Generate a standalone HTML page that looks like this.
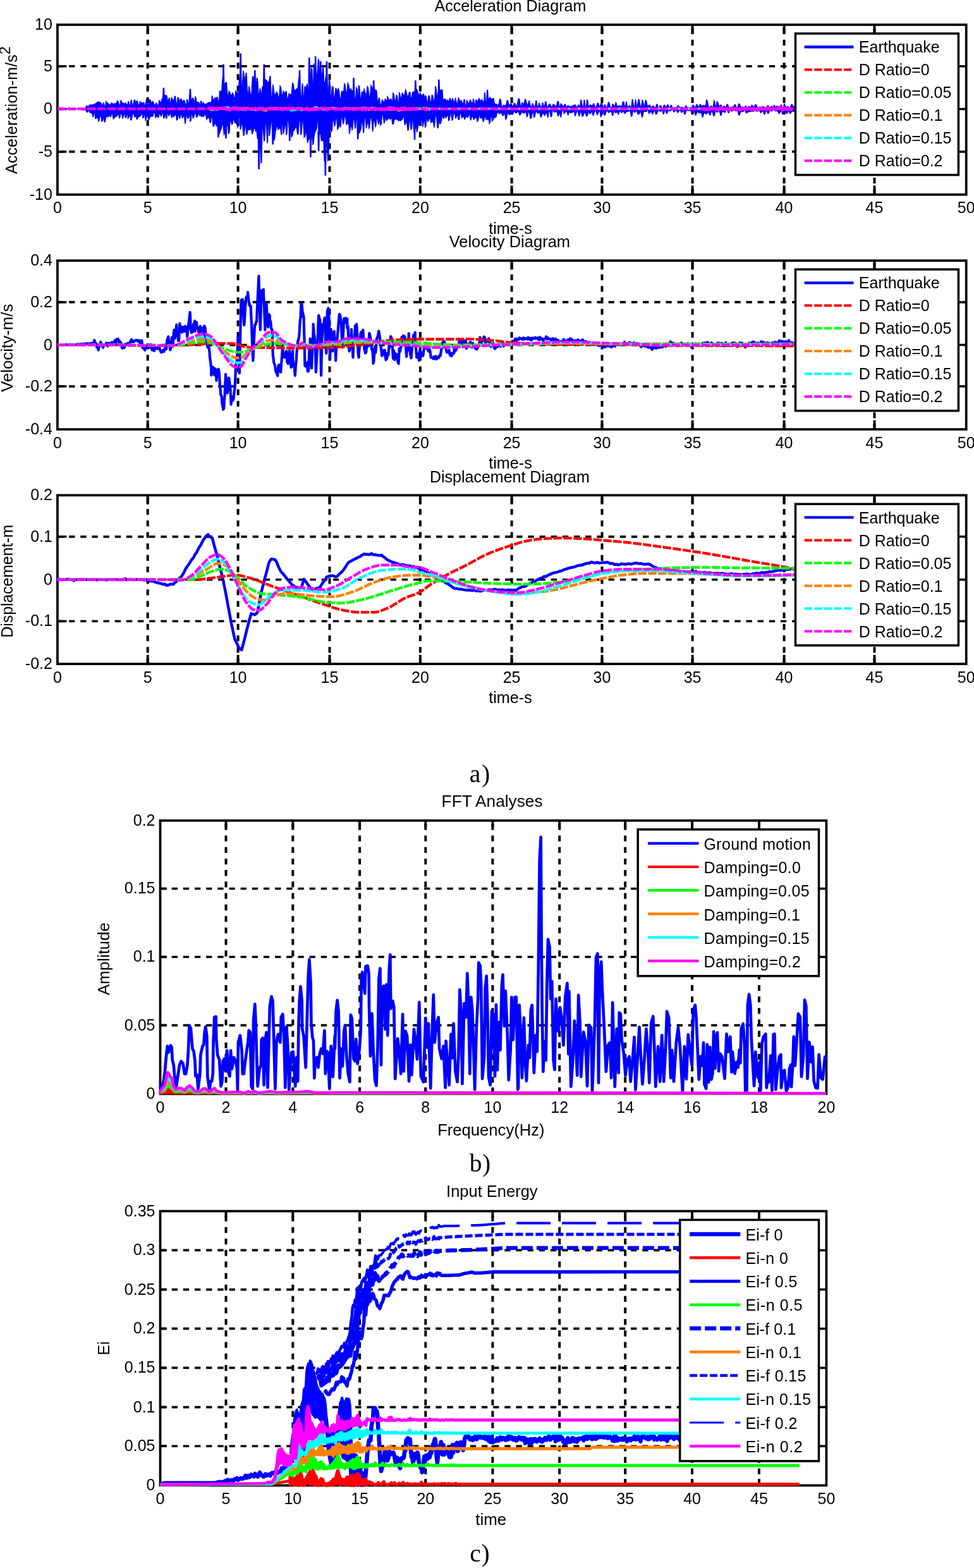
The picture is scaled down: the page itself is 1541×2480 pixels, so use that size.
<!DOCTYPE html>
<html lang="en"><head><meta charset="utf-8"><title>Seismic response diagrams</title>
<style>html,body{margin:0;padding:0;background:#fff}body{width:1541px;height:2480px;overflow:hidden}svg{display:block}.t{font-family:"Liberation Sans",Arial,Helvetica,sans-serif;font-size:25px;fill:#000}.s{font-family:"Liberation Serif","Times New Roman",Times,serif;font-size:39.6px;fill:#000}.c{fill:none;stroke-linejoin:round;stroke-linecap:butt}</style></head><body>
<svg width="1541" height="2480" viewBox="0 0 1541 2480">
<rect width="1541" height="2480" fill="#fff"/>
<defs><clipPath id="clip1"><rect x="88.93" y="37.15" width="1441.79" height="273.15"/></clipPath><clipPath id="clip2"><rect x="88.93" y="410.2" width="1441.79" height="271.35"/></clipPath><clipPath id="clip3"><rect x="88.93" y="781.3" width="1441.79" height="271.3"/></clipPath><clipPath id="clip4"><rect x="251.5" y="1295.84" width="1057.95" height="436.86"/></clipPath><clipPath id="clip5"><rect x="251.5" y="1913.6" width="1057.95" height="438.3"/></clipPath></defs>
<g id="chart1">
<g stroke="#000" stroke-width="4.0" stroke-dasharray="9.3 8.88" fill="none">
<path d="M233.7 308.4V39.15"/>
<path d="M376.6 308.4V39.15"/>
<path d="M521.5 308.4V39.15"/>
<path d="M664.9 308.4V39.15"/>
<path d="M809.6 308.4V39.15"/>
<path d="M952.5 308.4V39.15"/>
<path d="M1095.6 308.4V39.15"/>
<path d="M1240.6 308.4V39.15"/>
<path d="M1383.5 308.4V39.15"/>
</g>
<g stroke="#000" stroke-width="3.6" stroke-dasharray="9.3 8.86" fill="none">
<path d="M90.93 239.9H1528.72"/>
<path d="M90.93 172.4H1528.72"/>
<path d="M90.93 104.8H1528.72"/>
</g>
<g stroke="#000" stroke-width="3.9" fill="none">
<path d="M233.7 307.8v-14.4 M233.7 39.15v14.4"/>
<path d="M376.6 307.8v-14.4 M376.6 39.15v14.4"/>
<path d="M521.5 307.8v-14.4 M521.5 39.15v14.4"/>
<path d="M664.9 307.8v-14.4 M664.9 39.15v14.4"/>
<path d="M809.6 307.8v-14.4 M809.6 39.15v14.4"/>
<path d="M952.5 307.8v-14.4 M952.5 39.15v14.4"/>
<path d="M1095.6 307.8v-14.4 M1095.6 39.15v14.4"/>
<path d="M1240.6 307.8v-14.4 M1240.6 39.15v14.4"/>
<path d="M1383.5 307.8v-14.4 M1383.5 39.15v14.4"/>
</g>
<g stroke="#000" stroke-width="3.5" fill="none">
<path d="M90.93 239.9h14.4 M1528.72 239.9h-14.4"/>
<path d="M90.93 172.4h14.4 M1528.72 172.4h-14.4"/>
<path d="M90.93 104.8h14.4 M1528.72 104.8h-14.4"/>
</g>
<rect x="90.93" y="39.15" width="1437.79" height="268.65" fill="none" stroke="#000" stroke-width="3.75"/>
<g clip-path="url(#clip1)">
<polygon fill="#0000ff" stroke="#0000ff" stroke-width="1.3" stroke-linejoin="miter" points="90.9,172.4 132.3,172.4 132.3,171.3 133.4,171.4 134.2,171.3 135.7,171.4 136.5,167.4 137.8,167.7 139,168.7 139.9,169 141.5,165.9 142.6,166 143.9,166.2 144.7,166.5 145.9,165.3 147.1,165.8 148.7,165 149.4,165.4 150.4,163.8 151.9,164.3 152.8,162.5 153.6,162.6 154.5,161 155.3,161.7 156.5,161 157.8,161.8 158.6,162.6 160.2,163.1 161.6,168 162.2,168.1 163.6,162.6 164.5,163.5 165.4,168.2 166.8,168.4 167.7,160.3 168.5,161.4 169.8,163.3 170.5,163.4 171.4,163.8 172,164.4 173.5,165.5 174.9,166.1 176,162.9 177.6,162.9 178.6,165.8 179.6,166 180.3,163.7 181.3,164.4 182.9,163.8 184.1,164.1 185.5,159.3 187.1,160.5 188.5,167.1 189.5,167.3 191.2,159 191.8,159.9 192.7,161.6 193.4,162.4 194.5,162.9 196,163.3 196.9,164.6 197.6,164.9 198.5,162.8 199.2,163.3 200.6,165.5 201.9,166 202.7,160.8 203.7,160.9 204.5,167 205.7,167 207.4,158.1 208.1,158.4 209.5,166.6 210.6,167.1 212.2,158 213.6,158.3 214.6,162.2 215.4,163 216.5,159.4 217.4,159.9 218.8,165.9 220,166.3 221.5,160.8 222.9,161.5 224.2,162.9 225.3,163.6 227.1,162 228,162.5 228.8,166.5 230.2,166.6 231.6,156.8 232.9,157.9 234.3,165.2 235.7,165.7 236.6,157.5 237.9,157.9 239.2,163 240.2,163.4 241,160.5 242.4,160.9 244,165.5 245.5,166.1 247.1,162.9 247.8,163.2 249,166.6 250.5,167.1 251.8,159 253,159.7 253.8,161.5 255.3,162.4 256,156.5 257.1,156.5 257.8,151.7 258.9,153.5 257.7,154.2 258.3,139.3 259.5,139.3 260.2,155.8 260.3,149.8 261.6,150.9 262.6,150.9 264,151.4 265.2,159.2 266.6,159.2 267.4,155.1 268.3,155.9 269.1,164.5 269.9,165 271.4,153.6 272.1,155.4 273.3,158.1 274.8,159 276.4,152.2 277.5,152.7 278.6,165 279.7,165.7 281.2,154.1 282.7,155.1 283.5,159.3 285,159.3 286.3,156.1 287.3,157.4 288.3,161.3 289.2,161.7 290.5,158.4 292.1,159.6 293.3,165.4 294.8,165.8 295.9,157.4 297.1,158.3 297.9,164.5 298.9,164.8 300.2,145.2 301.7,145.4 299.7,155.3 300.3,141.3 301.5,141.3 302.2,156.9 302.3,157.4 303.4,158.3 304.5,154.8 305.9,156.1 306.7,159.5 308,160.2 309.1,152.3 309.8,154.3 311.2,161.5 312.7,162.1 314.2,161.8 314.8,162.3 315.8,167.2 316.5,167.5 317.6,159.9 319.1,160.7 320,164.8 320.6,165.3 321.6,162.4 322.3,162.9 323.7,164.9 325.2,165.4 326.7,164 327.5,164.1 329,162.4 330.4,162.5 331.3,161.5 332.1,162.2 333.5,162 334.6,162.3 335.4,151.2 336,152.8 337.5,157.8 338.5,158.8 340.2,154.3 340.8,155.7 341.5,155.9 342.2,155.9 343.2,153.5 344.4,154.8 345.5,163.2 346.5,164.1 347.4,143.6 348.3,145.7 349.7,144.2 350.6,146 352.1,122.6 353.3,126.7 352.3,133.7 352.9,102.2 354.1,102.2 354.8,137.2 354.9,132 356.2,132.4 357.7,130.1 358.4,130.5 359.9,149.7 361.2,151.1 362.3,144.3 363.4,145.2 365.1,150.2 366.1,151.6 367.8,146.8 369.2,149.1 370.4,154.9 371.8,155.1 372.7,143.8 373.9,146.2 375.5,146.2 377.1,148.4 378.4,125.1 379.6,127 379.5,124.1 380.1,85.1 381.3,85.1 382,128.5 382.1,138 383.2,140.2 384.8,111.8 385.9,116.3 386.9,124.9 387.8,125.5 389.2,115.4 389.9,115.7 391.5,147.1 392.8,147.8 394,136.2 394.8,139.7 396.3,149.3 397.8,151 399.4,121.2 400.9,121.4 401.7,151.9 402.6,153.2 402.1,138.9 402.7,111.6 403.9,111.6 404.6,142 404.7,134 405.3,134.2 406.4,123.3 407.4,124.5 409,148.4 410.2,150.5 411.2,139.6 412.1,141.9 413.4,148.9 414.3,149.3 415,137.4 415.7,137.9 417.1,133.6 418.7,136.7 416.6,133.7 417.2,102.2 418.4,102.2 419.1,137.2 419.2,125 420.3,126.5 421.8,127 422.9,131.4 423.9,129.4 425.4,131.2 427,120.8 427.9,120.9 429.1,154.4 430.3,155.1 431.7,134.6 432.4,135.9 434.1,148.7 435.7,149.8 437.3,145.2 438.7,146.7 440.4,154 441.6,154.3 443.1,136 444.7,139.3 445.5,149.3 447.1,150 448.1,144.1 449.1,145.5 450.4,147.4 451.2,147.7 452.2,144.6 453.2,144.8 454.1,154.9 455.6,156.1 457.2,147.9 458.7,149.8 459.6,149.2 461.2,149.3 462.7,131.3 464.3,133.2 465.2,142.1 466.2,144.2 467.4,142 468,144.3 469.4,140.2 471,140.8 472.7,123.5 474,125.5 472.8,138.9 473.4,111.6 474.6,111.6 475.3,142 475.4,152.7 476.7,154.3 478.3,132 478.9,133.7 480.1,157.1 481,158.2 482,136.5 482.8,138.5 484.2,137 484.9,140.3 485.8,132.2 486.6,135.9 487.5,146.3 488.6,147.2 488.1,127.8 488.7,91.7 489.9,91.7 490.6,131.8 490.7,121.3 491.4,125.1 492.3,107.8 493.8,109.7 494.7,146.6 495.4,148 496.5,100.6 497.2,105.9 498.6,127.8 499.7,128.2 498,126.7 498.6,89.7 499.8,89.7 500.5,130.8 500.6,116.3 501.8,118.7 503.5,93.7 504.7,95.6 506.2,145 507.4,146.9 506.1,131.1 506.7,97.6 507.9,97.6 508.6,134.9 508.7,122.7 509.3,123.4 510.8,104.8 511.7,108.7 512.6,130.9 514,131.8 515.7,119.6 517,124.2 515.7,131.1 516.3,97.6 517.5,97.6 518.2,134.9 518.3,148.4 519.4,149.5 520.5,126.3 521.8,128.7 522.9,153.5 523.8,153.8 525.6,137.1 527.1,137.6 528,153.5 529.3,154.8 531.1,139.7 532.4,140.6 533.3,144.2 534.2,146.7 535,140 536.2,142.3 537.9,155.5 539.3,157.1 540.3,144.7 541.3,146.5 542.5,144.4 543.7,145.5 544.8,132.4 545.9,133.4 547.6,147.7 548.6,149.5 550.3,131.4 551.7,134.6 552.9,141.5 553.8,142 555.1,140.2 556,143.2 557.5,143.6 558.1,145.6 559.6,139.5 560.8,140.1 558.4,145.6 559,123.7 560.2,123.7 560.9,148.1 561,155.8 562.6,156.2 563.9,138.7 565.1,140.8 565.9,156.8 566.5,158.1 567.5,135.4 568.7,136.9 570.3,157.6 571.3,159 572.4,144.9 573.1,147.4 574.2,145.3 575.1,146 576.1,141.1 577.1,144 578.3,148.5 579.8,150.7 581.3,135.9 582.5,139.4 584.2,154 585.3,154.8 587,135.1 588.6,138 590.1,148.3 591.2,149.2 590,147.9 590.6,127.8 591.8,127.8 592.5,150.1 592.6,140.2 593.8,143.1 595.1,142.8 595.9,144 597.3,160.8 598.2,161.9 599.6,154.9 600.4,155.9 601.6,165.2 603.1,165.7 604.5,158 605.7,159 606.8,161.6 607.9,162 609.4,156.5 610.1,157.7 611.2,159.6 612.2,160.5 613,152.5 613.7,153.5 615.1,158.7 615.9,159.6 617.6,156.3 618.9,157.2 620.3,160.2 621,160.8 621.7,147.2 623.1,148.8 624.4,158 626,159.4 627,150.6 628.4,151.2 629.6,163.4 630.8,163.9 631.6,146.6 632.7,148.3 633.7,156.3 634.5,157.2 636.3,147 637.1,148.2 638.8,150.2 640.1,150.5 641.6,141.8 642.7,144.4 644.2,151.7 645.7,153.1 647.4,145.9 649,145.9 649.7,155 651.3,155 652.7,145.1 653.3,147.1 655.1,144.8 656.1,145.5 656.2,147.9 656.8,127.8 658,127.8 658.7,150.1 658.8,140.6 660.3,142.9 661.4,147.3 662.1,148.5 662.9,151.7 663.6,152.2 664.5,146.8 665.3,147.9 666.9,150.9 668.3,151.6 669.6,148.6 670.4,149 671.5,155.1 672.2,156.2 673,151.1 674.3,152.5 675.8,162.5 676.8,163.1 678,151.6 679.3,151.8 680.9,162.2 682,162.8 683.3,150.3 684.7,151.6 686.4,160.8 687.4,161.4 689,136.2 689.8,138.7 691.3,152.3 692.2,152.4 693.8,139.4 695,139.6 693.2,147.1 693.8,126.4 695,126.4 695.7,149.4 695.8,142.2 697.3,143 698.8,141.7 699.9,142.9 700.8,157.1 702.1,157.8 703.5,156.5 704.9,157 705.7,160 706.6,161.1 707.5,158 708.6,159 709.5,160.3 710.5,160.4 711.5,155.6 712.4,155.8 713.8,161.4 714.5,161.6 715.6,155.7 717,157.2 717.8,161.1 719.3,161.2 720.5,155.6 721.1,157.2 722.5,163.2 723.9,163.9 725.1,154.8 726,155.9 727.4,159.7 728.2,160 729.3,158.8 730.2,159.6 731.5,164.1 732.6,164.4 734.2,157.5 735.2,157.6 736.1,166.6 737.6,167 738.5,158.6 739.4,159.5 741.1,164.6 741.8,165.2 743.6,158.1 744.5,158.4 746.2,162.8 747.7,163.5 748.7,156.8 749.6,157.9 750.5,164.7 751.9,164.8 752.8,158.2 754.1,158.4 755.4,159.9 756.2,160.2 757.8,155.6 758.7,157.2 760.1,159.2 760.7,159.9 762.4,157.4 763.1,158.8 764.3,160.6 765.8,161.7 766.7,146.1 767.3,148 768.5,164 769.3,164.3 770.7,147.7 772,148.7 769.9,156 770.5,142.7 771.7,142.7 772.4,157.5 772.5,155.9 773.7,157.2 774.9,153.7 776.3,155.1 777.2,156.7 778.6,156.9 780,155.3 781.1,156.1 782.4,164.3 783.3,164.5 784.3,164.4 785.9,165 787.6,166 788.8,166.3 790.8,156.7 792.4,157.9 793.6,169.1 794.3,169.2 796.5,166.2 797.1,166.6 799.1,167 800.2,167.2 802.5,158.4 803.2,158.8 805.3,166.5 806.3,167 807.9,164 808.9,164.2 810.8,167.5 812.1,167.9 813.2,163.2 814.6,163.5 816.7,167.2 818.1,167.2 820.1,156.1 821.7,156.5 823.8,169.6 824.5,169.7 825.8,162.2 826.5,162.6 827.6,165.2 828.5,165.3 830.8,157.3 831.8,157.8 834,166.2 834.8,166.9 837.1,159.4 837.7,160 839.5,168.9 841,169.1 842.2,164 843.2,164.1 845.1,170 846.1,170.2 848.1,159.1 848.8,159.8 850.1,169.5 851.5,169.5 852.8,163.2 853.8,164.1 855.6,170.2 856.9,170.2 858.1,162.8 858.9,163 860.3,168.1 861.5,168.2 862.9,160.7 863.8,161 865.5,169.1 866.8,169.3 868.9,164.4 870.2,164.7 872.5,169.3 873.5,169.3 875.2,164.8 876.5,165.4 878.8,168 880.1,168.3 882.2,160.5 883.6,160.6 884.7,168.1 886.2,168.3 887.3,163.9 888.2,164.8 890.5,167.8 891.7,168 893.6,164.8 894.4,165.3 896.1,168.8 897,169.1 898.4,167 900,167.4 901.5,168.7 902.4,168.9 904.2,168 905.7,168.2 906.9,166.7 907.7,166.9 909.4,165.7 910.3,166 911.9,169.6 912.9,169.8 914.8,165.9 915.5,166 916.6,167.7 917.7,167.8 919,158.2 919.7,159.4 921.6,169.7 922.8,169.8 924,158.7 925,158.7 926,170.1 927.3,170.3 928.8,157.9 929.8,159.3 931,168.1 932.3,168.2 934,165.6 934.7,166.1 936,166.9 937,167.3 938.9,164 939.5,164 941.9,169.8 943.3,170 945.2,163 946.6,163.5 947.8,168.1 948.8,168.3 950.9,163.6 952.5,164.1 954.4,170.8 955.1,170.9 956.5,165.6 957.3,165.7 958.9,169.8 960.4,169.8 962.5,161.5 963.8,162.3 966.1,170.9 967.6,171 969.1,164.7 970.1,164.8 972.2,168.1 973.1,168.4 974.2,162.1 974.8,162.7 976,167.6 977.6,168 979.8,166.9 981.1,167.3 982.7,168.4 983.7,168.7 985.5,160.8 987.1,161.6 988.4,170.4 989.2,170.6 990.6,161.1 991.3,161.5 992.7,169.7 993.8,169.9 995.4,166.9 996.6,167 997.6,170.3 998.8,170.4 1000.2,157.7 1001.1,157.8 1002.9,170.5 1003.8,170.6 1005.5,158.1 1006.2,159.5 1007.2,169.3 1008,169.3 1010.1,157.4 1011.3,157.7 1013.3,169.1 1014.5,169.3 1016.2,158.2 1017,159.4 1019.2,168.4 1019.9,168.7 1021.3,158.8 1022.4,158.9 1024.1,166.9 1025.6,167.1 1027.7,166.2 1028.4,166.4 1029.5,169.3 1030.7,169.4 1033,167.7 1034.4,168 1036.3,170 1037.7,170.1 1038.8,164.9 1040,165.1 1041.2,170.9 1042.4,171 1044.3,166.7 1045.6,167.1 1047.2,170.7 1048.6,170.7 1050.6,166.2 1052.1,166.3 1053.1,169.9 1054.1,170.1 1055.8,165.5 1057.2,166.1 1058.5,169.9 1060,170.1 1061.2,166.4 1062.4,166.5 1063.7,170.4 1065.1,170.5 1066.6,170 1068,170.1 1069.5,170.1 1071,170.1 1072.5,167.1 1073.5,167.2 1075.6,170.1 1077,170.2 1078.8,169.4 1080.1,169.6 1081.9,171.5 1082.9,171.6 1084.8,167.5 1085.6,167.7 1087.6,170.3 1088.5,170.5 1090.3,170.1 1091.8,170.2 1093.2,170.6 1093.9,170.7 1096.3,166.5 1097.5,166.5 1098.9,170.4 1099.7,170.5 1102,165.2 1103.1,165.6 1105,169 1106.1,169.2 1107.2,164.9 1108.5,165.5 1109.9,167.4 1110.6,167.8 1112.8,166.6 1113.7,166.7 1115.3,166.8 1116.6,167.4 1117.9,157.9 1118.8,158.8 1121.2,170 1122.7,170.1 1124.6,167.6 1125.8,167.7 1127.4,170.1 1128.1,170.4 1129.7,159.1 1130.4,159.9 1131.9,168.9 1133.1,169.1 1134.3,160.5 1135.5,161.3 1137.8,168.1 1138.6,168.1 1140.4,165.8 1141.2,166.4 1142.6,170 1143.5,170 1145.3,167.7 1146.3,168 1147.4,169.7 1148.5,169.8 1150.1,165 1151.4,165.6 1153.2,170.2 1154,170.4 1156.4,169.4 1157.8,169.6 1159,168.9 1160.2,169.1 1162.4,165.4 1163.4,165.6 1165.4,170.8 1166.8,170.9 1168.7,164.3 1170.3,164.5 1172,169.6 1173.3,169.7 1174.4,169 1175.3,169.1 1176.6,170.2 1178,170.4 1179.4,167.4 1180.1,167.5 1181.5,169.8 1182.5,170.1 1184.6,168.2 1185.5,168.3 1187,169.6 1187.9,169.7 1189.4,166.2 1190,166.8 1191.7,168.9 1193.3,168.9 1195,165.5 1196.3,165.7 1198.7,170.5 1199.8,170.5 1201.1,169.3 1202.6,169.6 1204.8,169.3 1205.6,169.4 1207,168.7 1208.6,168.8 1210.6,170.6 1212.2,170.7 1214.6,166.9 1215.2,167 1217.4,169.7 1218.6,169.9 1220.8,168.1 1221.6,168.4 1222.9,169.7 1223.6,169.7 1224.6,166.4 1225.4,166.7 1226.7,169.4 1227.5,169.6 1229.3,167.6 1230.1,168 1232.4,171.1 1233,171.2 1235.3,166.1 1236.4,166.1 1237.9,171.4 1239,171.4 1240.7,164.6 1241.4,164.7 1243.1,169.5 1244.2,169.7 1245.6,168.1 1246.7,168.3 1248.8,170.9 1249.9,170.9 1252,165.2 1253.3,165.4 1254.9,169 1256.3,169.2 1257.5,166.8 1258.4,167.2 1258.3,172.4 1259.4,174.1 1258.3,174.1 1256.9,176.2 1255.5,176.4 1254.1,175.8 1252.8,175.9 1250.8,179.3 1249.8,179.3 1247.8,175.1 1247,175.2 1245.6,179.1 1244.3,179.6 1242.4,174.8 1240.9,174.8 1239.1,180.1 1238.1,180.4 1236.5,175.6 1235.4,175.7 1233.3,179.1 1232.2,179.5 1230.7,175.7 1229.5,175.7 1227.6,175.4 1226.7,175.5 1224.4,173.7 1223.8,173.7 1221.4,175.7 1220.3,175.9 1219.1,174 1218.2,174.1 1216,179.2 1214.9,179.6 1213.1,174.8 1211.9,174.8 1210.2,180.3 1209.1,180.9 1207.2,175.5 1206.1,175.7 1203.9,178.1 1203.3,178.2 1201.5,174.4 1200.1,174.6 1198.9,176 1197.7,176.2 1195.3,174.6 1194.3,174.7 1192.2,176 1191.5,176.3 1190.2,175.6 1188.9,175.9 1187.1,176.6 1185.5,176.7 1184.2,176.8 1183.6,177.1 1181.6,178.4 1180.4,178.9 1178.4,174 1177.6,174 1175.9,176.4 1174.3,176.7 1172.6,176.4 1171.8,176.6 1170.2,181.9 1168.7,182.1 1167.4,175.4 1166.5,175.4 1164.7,175.2 1163.5,175.3 1161.2,174.1 1160.6,174.1 1158.3,175.8 1157.3,175.9 1155.9,173.8 1154.5,174 1153.3,178.4 1152.3,178.5 1150.3,173.5 1148.8,173.6 1147.3,177.8 1146,177.8 1144.2,176.1 1142.6,176.3 1141,182.6 1140.3,182.9 1138,175 1136.9,175.2 1135.8,176.9 1134.5,177.2 1132.6,175.7 1131.6,176.1 1130.3,182.9 1128.9,183.2 1126.9,175.6 1125.6,175.7 1123.9,181.3 1123,182 1120.8,177 1120.1,177.2 1118.4,179.8 1117.3,180.5 1115.4,178.3 1114,178.9 1111.9,184.8 1111.1,185.3 1109.8,178.1 1108.9,178.2 1107.3,178.5 1106.4,179 1104.4,177 1103,177.2 1101,182.1 1100.3,182.3 1098.2,175.6 1096.9,175.7 1094.8,177.5 1093.8,178.1 1092.8,174.3 1091.3,174.5 1089.9,174.8 1089.2,175 1087.4,174.5 1085.8,174.6 1084.1,180.6 1082.8,180.6 1081.3,174.8 1080.5,175 1079,177.5 1078.2,178 1076.1,174 1075.1,174.1 1072.8,177.9 1071.6,177.9 1069.9,173.6 1069.1,173.7 1067,176.7 1066,176.9 1064.2,173.5 1062.8,173.6 1061.7,175 1060.7,175.3 1058.3,175.1 1057.3,175.2 1055.2,179.1 1054.3,179.4 1052.6,173.7 1051.9,173.7 1050.3,179.9 1049.3,180.4 1048,174.4 1047.4,174.4 1045.3,176 1043.9,176.1 1042.7,174.4 1041.3,174.7 1039.1,180.1 1037.9,180.9 1035.6,174.3 1034.6,174.4 1033.1,179.7 1032.4,180.4 1030,176.4 1029.1,176.8 1027.3,179.1 1026.6,179.5 1025.4,173.9 1024.1,173.9 1023,176.3 1021.6,176.3 1019.3,176.4 1018.2,176.7 1016.8,184.4 1015.8,185.1 1013.8,176.7 1012.8,177 1011.1,180.4 1009.5,180.9 1007.1,175.6 1005.7,175.7 1004.7,177.4 1003.5,177.8 1002,174.5 1001.3,174.6 1000.1,183.2 998.7,184.2 997,175.3 995.6,175.3 993.8,176.5 992.8,176.7 991.6,176.8 990.7,176.8 989.2,179 987.8,179.5 986.5,175.7 985.2,175.9 984.2,178 983.4,178.4 981.6,175.3 980.2,175.5 979,180.3 978.2,180.9 976.8,176.5 976.1,177 975.1,178.1 973.5,178.5 971.6,175 970.9,175.1 969.8,182.4 968.8,182.6 967.3,176.3 966,176.5 964,177.5 962.7,178.1 960.8,175 959.8,175.1 957.4,181.5 956.3,182.5 954.9,175.1 953.6,175.2 951.5,183.6 950.4,184.6 949.1,175.6 947.6,175.8 945.8,180.9 944.7,181.6 942.8,175 941.3,175.2 939,181.8 938.3,182.8 936.8,177.2 935.2,177.6 934,179.5 933,180.2 931.7,177 930.7,177.2 929.2,183.2 927.8,183.6 925.5,177.3 924.7,177.6 922.5,183.6 921,184.1 919.4,176.2 918.3,176.2 916.9,183.2 916.1,183.4 914.1,175.3 912.9,175.4 910.6,182.2 909.8,183.2 908.2,176.2 906.9,176.4 904.7,178.3 903.1,178.6 901.2,177 900.4,177.5 899.3,180.9 898.6,181.8 896.4,175.8 894.9,176.1 893.3,179 892.5,179.6 890.8,174.2 889.3,174.2 887.7,184.1 887.1,185 885.9,177.3 885.3,177.7 883.9,183.2 882.7,183.3 881,176.1 880.3,176.2 878,177.1 876.7,177.5 874.8,174.2 874,174.3 872.8,184.3 871.4,184.4 869.9,175.1 868.4,175.4 867.2,184.8 866.6,185.6 864.7,177.6 864.1,177.9 862.3,181.8 861.3,182.7 859.4,178.2 858.8,178.2 856.6,184.2 855.5,185.3 853.6,177.2 852.9,177.5 851.6,178.9 850.8,179.2 848.9,176.4 847.4,176.8 846.1,184.6 844.8,185.5 843.6,176.6 842.5,177 840.7,186.7 839.2,187.4 837,176 836.1,176.1 834.7,183.5 833.5,184.7 832.1,176.8 831.4,177.1 829.8,178.8 828.4,179.1 826.1,177.2 825.4,177.2 823.6,181.5 822,181.8 820,176 819.3,176.1 817.1,178.7 816,178.8 813.7,175.8 813.1,175.9 811.6,180.5 810.9,180.8 809.6,177.5 808.3,177.6 806.9,181 805.9,181.8 804.3,178.9 802.9,179.2 801.2,188.1 799.9,188.7 798.8,178.8 797.7,178.8 796.6,182.5 795.1,182.9 793.5,178.4 792.5,178.7 790.8,179.5 789.9,180 787.8,177.4 786.7,177.9 784.8,185.4 783.5,185.6 782.2,186.3 781,187 780,189.8 778.6,191.4 777.4,180.8 776.4,181 775.7,193.3 774.2,195.6 773.4,188.4 772,189.5 770.3,188.5 769.1,189.2 768.3,183.5 767,184.7 765.5,191.1 764.5,192.3 763,185.9 762.3,187.1 760.5,185.6 759.7,186.6 758.9,179.3 758.3,180.1 756.6,190.6 755,192.1 753.8,185.1 752.2,185.9 750.9,187.4 749.4,189 748,184 746.4,184.9 745.4,188.4 744.5,189.7 743.1,181.5 741.9,181.8 740.4,185.4 739.2,185.8 738.1,184.1 736.7,184.3 735.8,188.1 734.7,188.7 733.9,184.1 733.2,184.4 731.5,185.4 730.7,186.8 728.9,178 727.7,178.6 726.6,189 725.2,189.3 723.6,181.1 722.5,181.4 721.8,186.4 720.9,187 719.4,179.2 717.8,179.7 716.1,189.9 715.2,190.2 713.6,178.4 712.6,179 711,189.7 709.8,190.9 709,181.2 708,182 706.5,185 705.5,186.4 704.7,184.2 703.3,184.3 702.4,186.9 701.7,187.6 700.7,184 699.3,185.1 697.5,194.7 696.4,195.9 695.4,193.1 694.3,193.6 693.2,202.1 692,202.4 690.4,182.6 688.9,182.9 687.5,199.4 686.8,201 685.4,192.1 684,192.7 683,192.2 681.7,193.7 680.5,186.3 679,187.5 678.1,191 676.6,192.2 675.5,185.2 674.7,186.1 674,199.2 672.5,201.2 671.8,191 670.4,192 669.5,198.5 668.7,200.8 667.6,187.4 666.9,188.9 665.7,194.5 664.6,196.1 663.7,195.7 662.1,196.3 660.5,205.9 659.7,209.3 658.7,201 657.4,202 657.3,196.4 656.6,220.3 655.4,220.3 654.8,198.8 655.7,207.2 654.9,209.8 653.3,187 652.3,187.8 651.6,203.1 650.1,204.8 648.6,189.8 647.5,190.9 646.2,205.8 645.2,206.1 643.6,193.3 642.9,193.9 641.2,196 640.2,197.1 639.1,182.6 638.1,183.5 636.9,188.3 635.5,189.8 634.1,190.9 633.4,191 631.8,189.5 630.4,191.3 629.3,187.8 628.7,189.3 627.6,188 626.7,188.6 625.1,188.9 623.9,189.3 622.3,196.2 621,196.3 619.4,185.7 618.5,187.1 617.7,187.6 617.1,188.7 615.6,186.2 614.3,187.3 612.7,189.7 611.3,190.3 610.5,184.3 609.9,184.9 608.4,193.4 607.6,194.6 605.9,181.8 604.4,181.9 603.3,196.2 602,198.2 601.2,189.5 600.5,190.5 599.5,195.9 598.5,196.2 597.2,186.9 595.8,188.2 594.8,199 594,200.6 592.6,190.6 591.1,191.6 590.1,206 589.5,207.1 587.7,185.6 586.2,186.3 584.5,201.8 583.7,203.1 582.6,192.8 581.5,194.7 580.1,200 579.4,203 578.1,186 576.7,187 575.7,207.8 574.9,210.5 573.3,189 572.5,190.5 571.2,203.7 570.5,205.9 568.7,210.2 567.6,211 567.5,196 566.8,219.7 565.6,219.7 565,198.4 565.2,187.4 563.9,187.9 562.5,202 561.8,202.7 560.2,184.1 559.4,184.9 557.9,203.2 557,205.6 555.6,196.4 554.9,199 553.5,208 552.6,211.8 551.9,194.7 550.5,196.1 549.3,195.2 547.9,197 546.6,183.7 545.1,184.4 543.9,193.5 542.7,195.7 541.2,184.1 540.1,184.8 539.2,199.2 538.4,200.8 537.6,195.9 536.8,196.6 535.5,202.5 534,204.7 532.6,184.7 531.4,184.9 530.5,196.9 529.3,199.4 527.6,189.4 526.3,189.9 525.6,205.6 524.1,208.3 522.6,205.1 521.3,208.4 519.7,248.3 518.6,255.5 517.2,226.1 516.2,230.6 516.1,224.7 515.4,277.2 514.2,277.2 513.6,229.9 514,252.2 513.1,255.3 511.8,218.9 510.7,222.6 509.4,221.4 508.4,222.7 506.6,208.5 505.5,212 505.4,205.5 504.7,238.6 503.5,238.6 502.9,208.8 505.5,208.9 504.1,212.8 502.9,190.8 501.6,192.8 500.8,204.4 499.4,207.1 498,211 497.2,214.5 495.7,227.8 494.9,228.7 494,217.3 492.8,218.2 492.7,210.2 492,248 490.8,248 490.2,214 490.2,216.8 488.7,219.6 487.4,223 486.5,226.1 484.8,209.1 483.5,210.6 482.6,215.7 481.2,217.2 479.5,189.6 478.4,189.7 477,210.4 475.8,213.6 474.9,189.9 473.3,191.5 471.9,211.6 470.7,212.3 469,200.3 467.9,202.5 466.8,202.2 466.1,204.5 465,206.9 463.8,207.1 462.8,214.6 461.2,216.6 460.4,204.6 459.7,207.3 459.6,197.4 458.9,222.4 457.7,222.4 457.1,199.9 459.1,212.5 458.1,216 456.3,189.2 455,190.7 454.1,210.6 453,213.4 451.8,195.3 450.8,197.6 449.1,208.9 448.1,212 447.3,189.5 446.4,190.3 445.6,211.3 445,213.4 443.7,202.1 442.7,202.4 441.1,204.3 439.9,205.1 439.1,199.7 437.5,201 436.7,205.5 436,207.4 434.3,221 433.1,221.9 433,200.1 432.3,227.8 431.1,227.8 430.5,202.8 430.2,193.3 428.7,194.3 426.9,211.6 425.9,215.2 425.1,191.6 424.2,191.6 423.5,224.6 422.8,225.7 421.2,193.4 419.9,195.5 418.7,221.9 417.7,223 416,199.3 415,199.7 413.9,257 412.9,257.7 411.7,226 411,231.4 410.9,219.7 410.2,267.1 409,267.1 408.4,224.4 408.6,217.9 407.3,219 405.9,206 404.5,207.7 403,202.6 401.8,202.8 400.3,208.6 398.9,212.3 397.9,204.6 396.8,204.8 395.2,204.5 394.2,205.7 392.8,204.2 391.9,206 390.8,212.3 390,212.4 388.7,196.8 387.9,197.7 386.2,213.8 385,213.9 383.4,194.4 382.4,195 381,203 380.2,204.9 379.1,185.1 377.8,185.8 376.7,199.7 375.9,201.8 374.9,195.5 373.9,196 372.9,193.5 371.5,194.5 370.1,188.9 369,189.7 367.7,196.3 366.5,196.7 364.9,189.8 364,190.6 362.9,210.2 361.5,211.3 360.3,197.7 358.9,199.1 358.8,195.4 358.1,218.3 356.9,218.3 356.3,197.6 357.8,198.8 356.9,200.7 355.5,210.5 354.4,212.9 352.7,195.4 351.8,195.7 350.1,203.5 348.6,206.9 347.8,209.6 346.8,212.5 346.7,194.7 346,216.9 344.8,216.9 344.2,196.9 345.3,196.7 344.1,199.2 343,199.3 342.2,199.4 341,194.3 339.5,196.2 338.4,199.6 337.1,199.9 335.3,181.4 334.4,182 333.5,193.4 332.3,193.8 330.8,185.6 329.2,186.2 327.7,187.6 327,189 325.3,180.7 324.4,181 322.6,183.7 321.3,184.4 320.4,183.5 319.2,184.5 317.5,182.3 316.1,183.3 314.9,180.1 313.6,180.5 312.3,184.8 310.7,185.3 309.7,179 308.1,179.6 306.6,186.3 305.2,186.7 304.3,180.2 303,180.6 302.2,190.6 300.8,191.9 300,181.1 299,181.5 298.2,186.6 297,187.4 295.9,182.6 294.6,183.5 293.4,194.3 292.8,195.2 291.5,182.6 290.8,182.9 289.5,185.7 288.2,186.6 287.1,180.4 286.2,180.5 285,186.4 284.2,187.4 282.9,182 281.7,182.3 280.9,188.9 279.4,190.1 278.5,181.7 277.1,181.7 275.6,183.6 274.9,184.7 274.2,182.3 273.4,182.6 272.3,185.4 271.2,185.8 270.3,179.1 269.4,179.1 267.9,182.3 266.6,183 265.8,177.7 264.7,177.9 264,186.5 262.8,187.2 262,179.4 261.4,179.6 260.3,185.9 258.9,187 258.1,179 256.7,179.5 255.4,183.2 254.8,184 253.2,179.9 252,179.9 251,185.5 249.7,185.9 248.9,183.1 248,183.7 246.9,185.1 245.8,186.2 244.9,177.7 243.3,178.3 241.8,183.8 240.5,184.3 238.8,184 237.5,184.6 235.9,188.8 234.8,190.6 233.4,182.1 232.3,182.5 231.2,188.8 230.2,190.5 229.1,178.4 228.4,179 227.5,185.8 226,186.6 225.2,180 223.9,180.1 222.3,183.4 220.8,184.5 219.2,185.1 218.6,185.2 217.5,188.3 216.2,188.6 215.5,183.1 214.5,184 213.5,184.6 212.8,185.2 211.4,178.9 209.9,179.6 208.1,189.8 206.9,190 206,183.3 204.6,183.7 203.2,186.3 202.5,187.5 201.7,179.2 200.7,179.4 199.7,185.7 198.4,186.3 196.9,180 195.8,180.2 194.8,185.7 194,187.1 192.3,178.5 191.1,179 189.7,186.1 188.8,186.8 187.3,180.4 186,181 185.2,183.4 183.9,184.4 183,184.6 181.8,184.7 180.6,187 179.3,188 177.6,178.9 176.4,179.3 175.7,184.1 174.8,184.8 173.2,182.5 172.4,183 171.5,184.2 170.7,185.1 169.4,184.5 167.8,185.2 166.3,192.2 165.3,193.1 164.1,185.4 163.4,186.3 162.4,191 161,192.1 159.7,182.4 158.3,183.3 156.7,191.2 156,192 154.3,184.5 153.7,184.8 152.6,187 151,187.6 149.8,176.8 148.8,177 148,183.6 146.8,184.5 145.8,178.6 144.9,179.2 143.7,178.1 142.4,178.5 140.9,174.5 140.1,174.7 138.9,177.1 137.3,177.2 135.6,173.6 134.4,173.7 133.3,173.8 132.3,173.9 132.3,172.4"/>
<polyline class="c" stroke="#ff0000" stroke-width="3.6" stroke-linejoin="round" stroke-linecap="butt" stroke-dasharray="13.3 2.5" stroke-dashoffset="2" points="330.9,172.4 333.9,171.7 336.9,170.7 339.9,171.1 342.9,172.3 345.9,172.6 348.9,172.1 351.9,172 354.9,172.6 357.9,173.1 360.9,173 363.9,172.7 366.9,172 369.9,172.5 372.9,171.3 375.9,171.4 378.9,170.8 381.9,171.3 384.9,171.5 387.9,171.2 390.9,172.4 393.9,172.1 396.9,172.8 399.9,173 402.9,173.3 405.9,172.5 408.9,171 411.9,171.8 414.9,172.2 417.9,172.6 420.9,171.8 423.9,171.7 426.9,172.5 429.9,172.5 432.9,172.6 435.9,171.7 438.9,172 441.9,171.4 444.9,172.2 447.9,172.7 450.9,172.5 453.9,170.8 456.9,170.3 459.9,172.5 462.9,173.3 465.9,172.3 468.9,171.2 471.9,171.3 474.9,171.7 477.9,171.2 480.9,171.9 483.9,172 486.9,172.3 489.9,171.9 492.9,171.7 495.9,171.4 498.9,171 501.9,171.4 504.9,171 507.9,170.9 510.9,171.7 513.9,172.3 516.9,172.8 519.9,172.3 522.9,172.1 525.9,172 528.9,172 531.9,172.4 534.9,171.9 537.9,172.1 540.9,171.6 543.9,171.7 546.9,170.7 549.9,170.8 552.9,172.3 555.9,172.1 558.9,172.4 561.9,170.4 564.9,171 567.9,171.4 570.9,172.5 573.9,172.1 576.9,171.8 579.9,172.3 582.9,173 585.9,173.9 588.9,173.6 591.9,172.9 594.9,171.8 597.9,171.7 600.9,172.1 603.9,172.1 606.9,172.2 609.9,171.3 612.9,171.7 615.9,171.3 618.9,171.6 621.9,171.5 624.9,172.5 627.9,173.4 630.9,173.2 633.9,172 636.9,173.2 639.9,173.6 642.9,173.5 645.9,171.5 648.9,171.1 651.9,170.9 654.9,171.4 657.9,171.1 660.9,172.6 663.9,173 666.9,171.8 669.9,171.2 672.9,169.8 675.9,171.9 678.9,171.9 681.9,172.2 684.9,172.1 687.9,172.2 690.9,172.3 693.9,172.3 696.9,172.2 699.9,172 702.9,172.1 705.9,172 708.9,172.1 711.9,172.1 714.9,172.1 717.9,172.1 720.9,172.1 723.9,172.1 726.9,172 729.9,172 732.9,172 735.9,172 738.9,172 741.9,172 744.9,172.1 747.9,172.1 750.9,172.1 753.9,172.1 756.9,172.1 759.9,172 762.9,172 765.9,171.9 768.9,172 771.9,172 774.9,172 777.9,172 780.9,172.1 783.9,172.1 786.9,172 789.9,172 792.9,172 795.9,172.1 798.9,172.1 801.9,172 804.9,172 807.9,172 810.9,172 813.9,172.1 816.9,172 819.9,172.1 822.9,172.1 825.9,172.1 828.9,172 831.9,172 834.9,172.1 837.9,172.1 840.9,172.1 843.9,172.1 846.9,172.1 849.9,172.1 852.9,172.1 855.9,172.1 858.9,172 861.9,172.1 864.9,172.1 867.9,172.1 870.9,172.1 873.9,172 876.9,172 879.9,171.9 882.9,171.9 885.9,172 888.9,172 891.9,172.2 894.9,172.1 897.9,172.1 900.9,172 903.9,171.9 906.9,172.2 909.9,172.1 912.9,172.2 915.9,172.1 918.9,172.1 921.9,172 924.9,172 927.9,172.1 930.9,172.2 933.9,172.1 936.9,172.1 939.9,172.1 942.9,172.1 945.9,172.1 948.9,172.1 951.9,172 954.9,172 957.9,171.9 960.9,172.1 963.9,172.1 966.9,172.2 969.9,172.2 972.9,172.2 975.9,172.1 978.9,172.1 981.9,172.2 984.9,172.2 987.9,172.2 990.9,172 993.9,172 996.9,172 999.9,172 1002.9,172 1005.9,172.2 1008.9,172.2 1011.9,172.2 1014.9,172.2 1017.9,172.2 1020.9,172.2 1023.9,172.1 1026.9,172.1 1029.9,172 1032.9,172 1035.9,172 1038.9,172 1041.9,171.9 1044.9,172.1 1047.9,172.1 1050.9,172.1 1053.9,172 1056.9,172 1059.9,172 1062.9,172 1065.9,172 1068.9,172 1071.9,172 1074.9,172.1 1077.9,172.2 1080.9,172.2 1083.9,172.2 1086.9,172 1089.9,172.1 1092.9,172.1 1095.9,172.2 1098.9,172.2 1101.9,172.1 1104.9,172.1 1107.9,171.9 1110.9,172.1 1113.9,172 1116.9,172 1119.9,172 1122.9,172.1 1125.9,172.2 1128.9,172.1 1131.9,172 1134.9,172.1 1137.9,172.1 1140.9,172 1143.9,172 1146.9,172.1 1149.9,172.2 1152.9,172.2 1155.9,172.2 1158.9,172.1 1161.9,172.1 1164.9,172 1167.9,172.1 1170.9,172.2 1173.9,172.2 1176.9,172.1 1179.9,172.1 1182.9,172.2 1185.9,172.2 1188.9,172.1 1191.9,172.1 1194.9,172.1 1197.9,172.3 1200.9,172.2 1203.9,172.1 1206.9,172 1209.9,172.1 1212.9,172 1215.9,172 1218.9,172.1 1221.9,172.2 1224.9,172.2 1227.9,172.1 1230.9,172.2 1233.9,172.2 1236.9,172.3 1239.9,172.1 1242.9,172.1 1245.9,172 1248.9,172.2 1251.9,172.2 1254.9,172.2"/>
<polyline class="c" stroke="#00ff00" stroke-width="3.6" stroke-linejoin="round" stroke-linecap="butt" stroke-dasharray="13.3 2.5" stroke-dashoffset="5" points="330.9,171.8 333.9,172.1 336.9,172.2 339.9,172.1 342.9,171.6 345.9,171.1 348.9,171.6 351.9,172.3 354.9,172.4 357.9,173 360.9,172.1 363.9,172.6 366.9,171.4 369.9,171.6 372.9,171.6 375.9,171.8 378.9,171.5 381.9,171.1 384.9,170.9 387.9,170.5 390.9,170.7 393.9,171.3 396.9,172.7 399.9,173.1 402.9,174.2 405.9,173.9 408.9,173.3 411.9,173 414.9,172.3 417.9,173.1 420.9,171.5 423.9,172.3 426.9,170.7 429.9,171.7 432.9,171.4 435.9,172 438.9,172.4 441.9,172.9 444.9,173.4 447.9,172.1 450.9,171.7 453.9,171.6 456.9,172.4 459.9,172.8 462.9,172.6 465.9,171.9 468.9,171.2 471.9,170.8 474.9,170.8 477.9,171 480.9,172.1 483.9,173.1 486.9,172.7 489.9,172.7 492.9,171.7 495.9,173.3 498.9,172.9 501.9,173.4 504.9,171.8 507.9,171.4 510.9,171.3 513.9,171.6 516.9,172.2 519.9,171.3 522.9,171.8 525.9,171.1 528.9,172.9 531.9,172.4 534.9,173.4 537.9,171.8 540.9,172.2 543.9,171.1 546.9,171.6 549.9,171.4 552.9,171.7 555.9,172.1 558.9,172.5 561.9,173 564.9,172.8 567.9,171.7 570.9,170.9 573.9,170.8 576.9,170.4 579.9,171.3 582.9,171.2 585.9,172.2 588.9,172.3 591.9,172.8 594.9,173.1 597.9,172 600.9,171.8 603.9,171.9 606.9,172 609.9,172.4 612.9,172.5 615.9,171.9 618.9,171.4 621.9,170.4 624.9,172.1 627.9,172.5 630.9,172.5 633.9,171.5 636.9,171.1 639.9,171.6 642.9,172.8 645.9,173.2 648.9,173.2 651.9,172.7 654.9,171.2 657.9,171.5 660.9,171.6 663.9,172.6 666.9,172.1 669.9,171.9 672.9,173.1 675.9,173.6 678.9,172.7 681.9,172.1 684.9,172 687.9,172.1 690.9,172 693.9,172.2 696.9,172.1 699.9,172.2 702.9,172.1 705.9,172.1 708.9,171.9 711.9,171.8 714.9,172 717.9,172.2 720.9,172.2 723.9,172.1 726.9,172.1 729.9,172.2 732.9,172.2 735.9,172.1 738.9,172.1 741.9,172.2 744.9,172.2 747.9,172.3 750.9,172.2 753.9,172.3 756.9,172 759.9,172 762.9,172.1 765.9,172.1 768.9,172 771.9,172 774.9,172 777.9,172.1 780.9,172.2 783.9,172.4 786.9,172.5 789.9,172.3 792.9,172.2 795.9,172 798.9,172 801.9,171.9 804.9,172 807.9,171.9 810.9,172 813.9,172 816.9,172.1 819.9,172.2 822.9,172.1 825.9,172 828.9,171.9 831.9,171.9 834.9,172 837.9,172.1 840.9,172.2 843.9,172.1 846.9,172 849.9,171.9 852.9,171.9 855.9,172.1 858.9,172.2 861.9,172.2 864.9,172.1 867.9,172 870.9,172 873.9,172 876.9,172 879.9,172 882.9,171.9 885.9,172 888.9,171.9 891.9,171.9 894.9,171.9 897.9,171.9 900.9,172 903.9,172 906.9,172.2 909.9,172.3 912.9,172.2 915.9,172.2 918.9,172.1 921.9,172.2 924.9,172.2 927.9,172.1 930.9,172.1 933.9,172.1 936.9,172 939.9,171.9 942.9,171.8 945.9,171.9 948.9,171.9 951.9,171.8 954.9,172 957.9,172.1 960.9,172.3 963.9,172.3 966.9,172.3 969.9,172.2 972.9,172.2 975.9,172 978.9,171.9 981.9,171.9 984.9,172 987.9,172.2 990.9,172.3 993.9,172.3 996.9,172.1 999.9,172.2 1002.9,172.2 1005.9,172.3 1008.9,172.1 1011.9,172 1014.9,172.1 1017.9,172.2 1020.9,172.2 1023.9,172.1 1026.9,172.1 1029.9,172.1 1032.9,172 1035.9,171.9 1038.9,171.8 1041.9,171.9 1044.9,172.2 1047.9,172.2 1050.9,172.1 1053.9,172 1056.9,172.1 1059.9,172.1 1062.9,172 1065.9,172.1 1068.9,172.1 1071.9,172.1 1074.9,172.1 1077.9,172.1 1080.9,172 1083.9,171.9 1086.9,172 1089.9,172.1 1092.9,172.2 1095.9,172 1098.9,172.1 1101.9,172.1 1104.9,172.2 1107.9,172.3 1110.9,172.2 1113.9,172.1 1116.9,171.9 1119.9,172 1122.9,172.1 1125.9,172.2 1128.9,172.2 1131.9,172.3 1134.9,172.3 1137.9,172.3 1140.9,172.2 1143.9,172.2 1146.9,172.1 1149.9,172.2 1152.9,172.2 1155.9,172.3 1158.9,172.2 1161.9,172.2 1164.9,172 1167.9,172.1 1170.9,172 1173.9,172.1 1176.9,172 1179.9,172.1 1182.9,172.2 1185.9,172.1 1188.9,172.2 1191.9,171.9 1194.9,171.9 1197.9,171.8 1200.9,172 1203.9,172.1 1206.9,172 1209.9,172 1212.9,172 1215.9,172.2 1218.9,172.2 1221.9,172.2 1224.9,172.1 1227.9,172.1 1230.9,172 1233.9,172.1 1236.9,172.1 1239.9,172 1242.9,172 1245.9,172.2 1248.9,172.3 1251.9,172.3 1254.9,172.1"/>
<polyline class="c" stroke="#ff8000" stroke-width="3.6" stroke-linejoin="round" stroke-linecap="butt" stroke-dasharray="13.3 2.5" stroke-dashoffset="8" points="330.9,172.5 333.9,173.8 336.9,173.5 339.9,173.3 342.9,172.6 345.9,171.5 348.9,170.9 351.9,172 354.9,171.6 357.9,171.7 360.9,170.8 363.9,171.7 366.9,172.4 369.9,171.9 372.9,170.8 375.9,170.5 378.9,171.8 381.9,173.1 384.9,173.3 387.9,172.4 390.9,172.2 393.9,172 396.9,172.6 399.9,172 402.9,172.2 405.9,171.7 408.9,172.4 411.9,172.5 414.9,173.9 417.9,174.4 420.9,175.1 423.9,172.6 426.9,171.6 429.9,170.5 432.9,171.9 435.9,170.8 438.9,171.8 441.9,172.1 444.9,172.6 447.9,171.5 450.9,170.5 453.9,171.2 456.9,172 459.9,173.6 462.9,173.4 465.9,173.5 468.9,172.5 471.9,173.5 474.9,173.5 477.9,174.2 480.9,172.7 483.9,172.2 486.9,171 489.9,172.4 492.9,172.8 495.9,173.1 498.9,172 501.9,172 504.9,171.7 507.9,171.5 510.9,171.5 513.9,173.2 516.9,173.5 519.9,173 522.9,171 525.9,170.5 528.9,171 531.9,172.1 534.9,172.8 537.9,172.7 540.9,172.3 543.9,172.4 546.9,171.4 549.9,171.1 552.9,171.1 555.9,171.5 558.9,171.5 561.9,171 564.9,171.2 567.9,171.9 570.9,172.2 573.9,172.3 576.9,172.2 579.9,172.8 582.9,173.8 585.9,172.2 588.9,172.3 591.9,171.2 594.9,172.4 597.9,172.4 600.9,173.2 603.9,173.7 606.9,173.3 609.9,173.6 612.9,172.9 615.9,172.7 618.9,172.3 621.9,172.2 624.9,173.4 627.9,173.5 630.9,175 633.9,173.8 636.9,173 639.9,172 642.9,172.4 645.9,172.3 648.9,172.4 651.9,172 654.9,173.2 657.9,172.6 660.9,173.2 663.9,172 666.9,171.8 669.9,170.9 672.9,170.6 675.9,171.2 678.9,172.1 681.9,172.2 684.9,172.2 687.9,172.3 690.9,172.3 693.9,172.2 696.9,172.1 699.9,172 702.9,172 705.9,171.9 708.9,172.1 711.9,172 714.9,172.2 717.9,172.2 720.9,172.1 723.9,172.1 726.9,172 729.9,172.1 732.9,172.1 735.9,172.1 738.9,172.1 741.9,172 744.9,172 747.9,171.9 750.9,171.9 753.9,171.9 756.9,172.1 759.9,172.2 762.9,172.1 765.9,172.1 768.9,172 771.9,172 774.9,172.1 777.9,172 780.9,172 783.9,171.9 786.9,172 789.9,172.1 792.9,172 795.9,172.1 798.9,172.1 801.9,172.1 804.9,172 807.9,172 810.9,172 813.9,172.2 816.9,172.2 819.9,172.2 822.9,172 825.9,172 828.9,172.2 831.9,172.2 834.9,172.2 837.9,172.1 840.9,172.1 843.9,172.3 846.9,172.2 849.9,172.3 852.9,172.1 855.9,172.2 858.9,172.1 861.9,172.2 864.9,172.1 867.9,172.2 870.9,172 873.9,172 876.9,172 879.9,172.2 882.9,172.2 885.9,172.3 888.9,172.3 891.9,172.2 894.9,172.2 897.9,172.2 900.9,172.2 903.9,172.2 906.9,172.2 909.9,172.2 912.9,172.2 915.9,172.1 918.9,172.2 921.9,172.3 924.9,172.2 927.9,172.1 930.9,172.2 933.9,172.1 936.9,172.1 939.9,172.1 942.9,172.1 945.9,172.2 948.9,172.2 951.9,172.2 954.9,172.1 957.9,172 960.9,172 963.9,172.1 966.9,172.1 969.9,172.3 972.9,172.2 975.9,172.3 978.9,172.2 981.9,172 984.9,171.9 987.9,171.9 990.9,172 993.9,172 996.9,172 999.9,172 1002.9,172 1005.9,171.9 1008.9,172 1011.9,172.1 1014.9,172.2 1017.9,172.2 1020.9,172.3 1023.9,172.1 1026.9,171.9 1029.9,171.9 1032.9,172.1 1035.9,172.2 1038.9,172.2 1041.9,172.1 1044.9,172.1 1047.9,172.1 1050.9,172.1 1053.9,172 1056.9,171.9 1059.9,171.9 1062.9,171.9 1065.9,171.9 1068.9,172 1071.9,172.1 1074.9,172.3 1077.9,172.3 1080.9,172.3 1083.9,172.2 1086.9,172.1 1089.9,172.1 1092.9,172.1 1095.9,172.1 1098.9,171.9 1101.9,171.9 1104.9,171.9 1107.9,172.2 1110.9,172.1 1113.9,172.1 1116.9,172.1 1119.9,172.1 1122.9,172.1 1125.9,172.1 1128.9,172.2 1131.9,172.2 1134.9,172.1 1137.9,172.2 1140.9,172.1 1143.9,172.1 1146.9,172.1 1149.9,172.3 1152.9,172.3 1155.9,172.2 1158.9,172.1 1161.9,172.1 1164.9,172.1 1167.9,172.1 1170.9,172.2 1173.9,172.1 1176.9,172.1 1179.9,171.9 1182.9,171.9 1185.9,172 1188.9,172.1 1191.9,172.1 1194.9,171.9 1197.9,172 1200.9,172.1 1203.9,172.1 1206.9,172.1 1209.9,172.1 1212.9,172.2 1215.9,172.1 1218.9,172.2 1221.9,172.2 1224.9,172.2 1227.9,172.1 1230.9,172 1233.9,172.1 1236.9,172.1 1239.9,172.2 1242.9,172.2 1245.9,172.3 1248.9,172.3 1251.9,172.2 1254.9,172.1"/>
<polyline class="c" stroke="#00ffff" stroke-width="3.6" stroke-linejoin="round" stroke-linecap="butt" stroke-dasharray="13.3 2.5" stroke-dashoffset="10.5" points="330.9,170.5 333.9,172 336.9,173.8 339.9,173.3 342.9,173.4 345.9,171.8 348.9,172.2 351.9,170.9 354.9,170.4 357.9,170.1 360.9,170.3 363.9,171 366.9,171.1 369.9,172.4 372.9,172.5 375.9,172.9 378.9,172.9 381.9,173.1 384.9,173 387.9,172.3 390.9,172 393.9,172.6 396.9,173 399.9,173.3 402.9,173.1 405.9,172.4 408.9,172.5 411.9,171.3 414.9,172.3 417.9,172.1 420.9,173 423.9,172.6 426.9,172.5 429.9,172.3 432.9,172.6 435.9,172.7 438.9,172.3 441.9,171.9 444.9,170.9 447.9,172.3 450.9,172 453.9,172.9 456.9,173.2 459.9,174.5 462.9,174.5 465.9,173.6 468.9,173.1 471.9,173.9 474.9,173.5 477.9,173 480.9,172.8 483.9,173 486.9,173.3 489.9,173 492.9,172.2 495.9,171.4 498.9,169.6 501.9,170.1 504.9,171.3 507.9,172.1 510.9,172.9 513.9,172.7 516.9,173.3 519.9,172.6 522.9,172.1 525.9,171.7 528.9,171.5 531.9,171.5 534.9,172.3 537.9,172.8 540.9,172.5 543.9,172.6 546.9,171.7 549.9,172 552.9,171.8 555.9,172.2 558.9,172.2 561.9,172.2 564.9,171.9 567.9,171.6 570.9,171.3 573.9,172.2 576.9,172.4 579.9,173.6 582.9,173.2 585.9,171.6 588.9,170.4 591.9,171.2 594.9,172.8 597.9,172.8 600.9,171.4 603.9,172.1 606.9,172.9 609.9,173.7 612.9,173.2 615.9,173.5 618.9,173.5 621.9,172.7 624.9,172.3 627.9,171.9 630.9,172.5 633.9,172.5 636.9,172.5 639.9,171 642.9,171.4 645.9,171.9 648.9,173.4 651.9,172.4 654.9,172 657.9,171.3 660.9,171.7 663.9,171.5 666.9,172 669.9,171.3 672.9,171.1 675.9,171.8 678.9,173 681.9,172.3 684.9,172.2 687.9,172.1 690.9,172.1 693.9,172.2 696.9,172.1 699.9,172.2 702.9,171.9 705.9,172 708.9,172 711.9,172 714.9,171.9 717.9,171.9 720.9,172.1 723.9,172.1 726.9,172.2 729.9,172.1 732.9,172.2 735.9,172.2 738.9,172.2 741.9,172.2 744.9,172.2 747.9,172.3 750.9,172.4 753.9,172.4 756.9,172.3 759.9,172 762.9,172 765.9,172 768.9,172 771.9,172.1 774.9,172.1 777.9,172.1 780.9,172 783.9,172 786.9,172 789.9,172.2 792.9,172.2 795.9,172.2 798.9,172.1 801.9,172.1 804.9,171.9 807.9,172 810.9,172 813.9,172.2 816.9,172.2 819.9,172.2 822.9,172.2 825.9,172.2 828.9,172.2 831.9,172.2 834.9,172.1 837.9,172.1 840.9,172.2 843.9,172.3 846.9,172.3 849.9,172.3 852.9,172.1 855.9,172.2 858.9,172.1 861.9,172.3 864.9,172.3 867.9,172.2 870.9,172.2 873.9,172.1 876.9,172.1 879.9,172.1 882.9,172 885.9,172.2 888.9,172.2 891.9,172.4 894.9,172.1 897.9,172 900.9,172 903.9,172 906.9,172.1 909.9,172.1 912.9,172.1 915.9,172.2 918.9,172.2 921.9,172.2 924.9,172 927.9,172.1 930.9,172.1 933.9,172.3 936.9,172.2 939.9,172.2 942.9,172.1 945.9,172.1 948.9,172.1 951.9,172 954.9,172 957.9,172.1 960.9,172.2 963.9,172.4 966.9,172.4 969.9,172.4 972.9,172.3 975.9,172.2 978.9,172.1 981.9,172 984.9,172.1 987.9,172 990.9,172.1 993.9,172 996.9,172.1 999.9,172.2 1002.9,172.2 1005.9,172.2 1008.9,172.1 1011.9,172.1 1014.9,172.1 1017.9,172.1 1020.9,172 1023.9,172.1 1026.9,172 1029.9,172.1 1032.9,172 1035.9,172 1038.9,171.9 1041.9,172.1 1044.9,172 1047.9,172.1 1050.9,172.1 1053.9,172.1 1056.9,172.2 1059.9,172.1 1062.9,172.1 1065.9,172.1 1068.9,172.1 1071.9,172.1 1074.9,172.1 1077.9,172.1 1080.9,172.1 1083.9,172.1 1086.9,172.2 1089.9,172 1092.9,172 1095.9,172 1098.9,172.1 1101.9,172.2 1104.9,172.1 1107.9,172.1 1110.9,172.1 1113.9,172.2 1116.9,172.2 1119.9,172.2 1122.9,172.3 1125.9,172.3 1128.9,172.2 1131.9,172.2 1134.9,172.3 1137.9,172.2 1140.9,172.2 1143.9,172 1146.9,172.1 1149.9,172.1 1152.9,172.2 1155.9,172.1 1158.9,172 1161.9,172 1164.9,172 1167.9,172.1 1170.9,172.1 1173.9,172.1 1176.9,172.1 1179.9,172 1182.9,171.9 1185.9,172.1 1188.9,172.2 1191.9,172.2 1194.9,172.1 1197.9,171.9 1200.9,172 1203.9,171.9 1206.9,172 1209.9,172.1 1212.9,171.9 1215.9,172 1218.9,172 1221.9,172 1224.9,171.9 1227.9,171.8 1230.9,172 1233.9,172 1236.9,172.1 1239.9,172.1 1242.9,172 1245.9,172 1248.9,171.9 1251.9,171.9 1254.9,171.9"/>
<polyline class="c" stroke="#ff00ff" stroke-width="4.3" stroke-linejoin="round" stroke-linecap="butt" stroke-dasharray="13.3 2.5" points="90.9,171.9 93.9,171.9 96.9,172 99.9,172.2 102.9,172.2 105.9,172.1 108.9,172 111.9,172.1 114.9,172.2 117.9,172.3 120.9,172.1 123.9,172 126.9,172.1 129.9,172.2 132.9,172.1 135.9,172 138.9,171.9 141.9,172 144.9,171.9 147.9,172 150.9,172.1 153.9,172.1 156.9,172.1 159.9,172.1 162.9,172.1 165.9,172.1 168.9,172 171.9,171.9 174.9,172 177.9,171.9 180.9,172 183.9,172 186.9,172.1 189.9,172 192.9,172 195.9,171.9 198.9,171.9 201.9,171.9 204.9,171.9 207.9,172.1 210.9,172.2 213.9,172.1 216.9,172 219.9,171.9 222.9,172 225.9,172 228.9,172 231.9,171.9 234.9,171.9 237.9,172.1 240.9,172.1 243.9,172.1 246.9,172 249.9,172.1 252.9,171.9 255.9,172.1 258.9,172.2 261.9,172.4 264.9,172.4 267.9,172.4 270.9,172.3 273.9,172.2 276.9,172.1 279.9,172.1 282.9,172.2 285.9,172.2 288.9,172.1 291.9,172.2 294.9,172.1 297.9,172.1 300.9,172.1 303.9,172.1 306.9,172.1 309.9,172.1 312.9,172 315.9,172 318.9,171.8 321.9,172 324.9,172.1 327.9,172.1 330.9,170.6 333.9,171.1 336.9,171 339.9,171 342.9,171.1 345.9,171 348.9,171.6 351.9,171.2 354.9,171.6 357.9,171.8 360.9,172.6 363.9,172.6 366.9,171.8 369.9,169.9 372.9,170.1 375.9,170.7 378.9,171.9 381.9,171.8 384.9,171.7 387.9,171.1 390.9,171.1 393.9,171.5 396.9,171.7 399.9,172 402.9,173.1 405.9,173.6 408.9,172.6 411.9,172.5 414.9,172.4 417.9,172.8 420.9,172.3 423.9,172.1 426.9,172.3 429.9,171.4 432.9,170.8 435.9,171.2 438.9,172.2 441.9,172.6 444.9,172.8 447.9,173.3 450.9,172.7 453.9,172.7 456.9,171.3 459.9,171.4 462.9,170.7 465.9,170.8 468.9,171.7 471.9,172 474.9,172.1 477.9,172.2 480.9,172.7 483.9,173.2 486.9,173.1 489.9,173.2 492.9,173.8 495.9,173.9 498.9,173.6 501.9,173 504.9,172.1 507.9,171.8 510.9,171.8 513.9,172.8 516.9,173.9 519.9,173.4 522.9,172.2 525.9,172.4 528.9,173 531.9,173.3 534.9,172.9 537.9,172.3 540.9,171.9 543.9,170.8 546.9,170.5 549.9,172.5 552.9,172.3 555.9,172.4 558.9,171.3 561.9,171.6 564.9,171.2 567.9,171.5 570.9,172.3 573.9,173.3 576.9,172.6 579.9,171.2 582.9,170.9 585.9,171.1 588.9,171.4 591.9,170.3 594.9,171.9 597.9,172.8 600.9,173.2 603.9,172.6 606.9,172.9 609.9,172 612.9,171.1 615.9,170.1 618.9,171.9 621.9,172.2 624.9,172.3 627.9,171.9 630.9,173 633.9,174.5 636.9,174.2 639.9,172.5 642.9,172.8 645.9,172.6 648.9,172.8 651.9,171.2 654.9,172.1 657.9,173 660.9,173.2 663.9,172.4 666.9,172.1 669.9,172 672.9,173.7 675.9,173.4 678.9,172.4 681.9,171.9 684.9,172 687.9,172.1 690.9,172 693.9,171.9 696.9,171.9 699.9,172.1 702.9,172.1 705.9,172.2 708.9,172.1 711.9,172.2 714.9,172.1 717.9,172.2 720.9,172.3 723.9,172.4 726.9,172.3 729.9,172.3 732.9,172.2 735.9,172.2 738.9,172 741.9,172 744.9,172 747.9,172.3 750.9,172.3 753.9,172.4 756.9,172.3 759.9,172.3 762.9,172.3 765.9,172 768.9,172 771.9,172 774.9,172 777.9,171.9 780.9,171.9 783.9,172.1 786.9,172.1 789.9,172 792.9,172 795.9,172.1 798.9,172.1 801.9,172.2 804.9,172.1 807.9,172 810.9,172.1 813.9,172.2 816.9,172.3 819.9,172.2 822.9,172 825.9,171.9 828.9,172 831.9,172.1 834.9,172.1 837.9,171.9 840.9,171.9 843.9,172 846.9,172.1 849.9,172 852.9,172.1 855.9,172.1 858.9,172.2 861.9,172.3 864.9,172.3 867.9,172.3 870.9,172.2 873.9,172.1 876.9,172.1 879.9,172.1 882.9,172.2 885.9,172.2 888.9,172.2 891.9,172 894.9,172 897.9,172.1 900.9,172.2 903.9,172.1 906.9,172.2 909.9,172.2 912.9,172.3 915.9,172.1 918.9,172.1 921.9,172.1 924.9,172.1 927.9,172 930.9,172.1 933.9,172.1 936.9,172.2 939.9,172.1 942.9,171.9 945.9,172 948.9,171.9 951.9,172.1 954.9,172.1 957.9,172 960.9,172.1 963.9,172 966.9,172 969.9,171.9 972.9,172 975.9,172.1 978.9,172.1 981.9,172 984.9,172 987.9,172 990.9,172.2 993.9,172.1 996.9,172.1 999.9,172 1002.9,172 1005.9,172.2 1008.9,172.2 1011.9,172.2 1014.9,172.3 1017.9,172.3 1020.9,172.2 1023.9,171.9 1026.9,171.8 1029.9,171.9 1032.9,171.9 1035.9,171.9 1038.9,172 1041.9,171.9 1044.9,171.9 1047.9,172 1050.9,172.2 1053.9,172.4 1056.9,172.2 1059.9,172.3 1062.9,172.3 1065.9,172.3 1068.9,172.1 1071.9,172 1074.9,172 1077.9,172 1080.9,171.9 1083.9,172 1086.9,172 1089.9,172.1 1092.9,172 1095.9,172.1 1098.9,172.1 1101.9,172.2 1104.9,172.3 1107.9,172.3 1110.9,172.4 1113.9,172.3 1116.9,172.1 1119.9,172 1122.9,172 1125.9,171.9 1128.9,171.9 1131.9,171.9 1134.9,171.9 1137.9,171.9 1140.9,172 1143.9,172.1 1146.9,172 1149.9,171.9 1152.9,172 1155.9,172 1158.9,172 1161.9,172 1164.9,172.1 1167.9,172.1 1170.9,172.2 1173.9,172.1 1176.9,172 1179.9,172 1182.9,172.1 1185.9,172.1 1188.9,171.9 1191.9,171.7 1194.9,171.8 1197.9,172 1200.9,172.2 1203.9,172.3 1206.9,172.3 1209.9,172.2 1212.9,172 1215.9,172.1 1218.9,172 1221.9,172.2 1224.9,172.1 1227.9,172.2 1230.9,172.2 1233.9,172.1 1236.9,172.1 1239.9,172 1242.9,172 1245.9,172.1 1248.9,172.2 1251.9,172.3 1254.9,172.2"/>
<polyline class="c" stroke="#ff00ff" stroke-width="4.0" stroke-linejoin="round" stroke-linecap="butt" points="330.9,171.3 333.4,172.3 335.9,170.4 338.4,172.8 340.9,173.2 343.4,171.6 345.9,172.5 348.4,172.4 350.9,171.7 353.4,171.2 355.9,170.1 358.4,173.5 360.9,172.1 363.4,174.6 365.9,172.9 368.4,172.4 370.9,171.4 373.4,173.5 375.9,171.6 378.4,173.7 380.9,171.7 383.4,172.3 385.9,170.6 388.4,174.4 390.9,172 393.4,171.7 395.9,172.9 398.4,171.2 400.9,172.9 403.4,170.9 405.9,172.6 408.4,171.1 410.9,170.3 413.4,171.5 415.9,170.6 418.4,172.7 420.9,172.1 423.4,172.6 425.9,172.2 428.4,171.7 430.9,172.1 433.4,173.2 435.9,171.9 438.4,171.3 440.9,171.1 443.4,171.9 445.9,171.4 448.4,174 450.9,170.9 453.4,171 455.9,171.8 458.4,172.8 460.9,171.8 463.4,171.1 465.9,171.3 468.4,171.7 470.9,173.1 473.4,171.1 475.9,172 478.4,171.5 480.9,172.4 483.4,172.5 485.9,170.6 488.4,174.5 490.9,172.3 493.4,171.6 495.9,171.2 498.4,171.8 500.9,172.1 503.4,172.7 505.9,172.1 508.4,172.6 510.9,170.5 513.4,171.3 515.9,171.1 518.4,172.3 520.9,172.6 523.4,170.6 525.9,171.9 528.4,172.8 530.9,173 533.4,171 535.9,172.7 538.4,172.4 540.9,171.7 543.4,174.1 545.9,171 548.4,171.8 550.9,172.6 553.4,172.3 555.9,171.9 558.4,173.5 560.9,173.5 563.4,173 565.9,173.1 568.4,172 570.9,170.9 573.4,174.3 575.9,171.1 578.4,174.3 580.9,172 583.4,172.3 585.9,171.9 588.4,173.1 590.9,171.6 593.4,173.9 595.9,172.6 598.4,172.3 600.9,171.5 603.4,172.4 605.9,172.1 608.4,174 610.9,173 613.4,170.5 615.9,173.6 618.4,169.7 620.9,173.6 623.4,170.2 625.9,172.1 628.4,172.9 630.9,172.1 633.4,171 635.9,173.3 638.4,170.3 640.9,170.6 643.4,173.5 645.9,171.2 648.4,172.3 650.9,172.9 653.4,172 655.9,172.4 658.4,172.2"/>
<polyline class="c" stroke="#ff00ff" stroke-width="5.4" stroke-linejoin="round" stroke-linecap="butt" points="1113,172.4 1115.5,173.1 1118,172.9 1120.5,172.5 1123,172.9 1125.5,171.8 1128,171.6 1130.5,171.4 1133,172.8 1135.5,173.5 1138,172.3 1140.5,170.6 1143,171.8 1145.5,172.6 1148,172.4 1150.5,172.3 1153,173 1155.5,172.9 1158,171.1 1160.5,172.5 1163,171.6 1165.5,172.4 1168,173.2 1170.5,173.7 1173,172.8 1175.5,171.8 1178,171.9 1180.5,172.6 1183,171.4 1185.5,172.1 1188,172.7 1190.5,172.9 1193,172 1195.5,172.5 1198,173.3 1200.5,172.4 1203,170.8 1205.5,172.4 1208,172.4 1210.5,171.9 1213,172.2 1215.5,171 1218,173.2 1220.5,172.5 1223,171.8 1225.5,172.4 1228,172.3 1230.5,171.5 1233,170.1 1235.5,169.9 1238,173.8 1240.5,171.3 1243,172 1245.5,172.7 1248,171.9 1250.5,173.2 1253,171.4"/>
</g>
<rect x="1258.5" y="53.05" width="257.9" height="223.6" fill="#fff" stroke="#000" stroke-width="3.5"/>
<path d="M1272.7 74.25H1350.5" stroke="#0000ff" stroke-width="4.3" fill="none"/>
<text class="t" x="1358.8" y="83.35">Earthquake</text>
<path d="M1272.7 110.25H1350.5" stroke="#ff0000" stroke-width="4" stroke-dasharray="12.2 3.4" fill="none"/>
<text class="t" x="1358.8" y="119.35">D Ratio=0</text>
<path d="M1272.7 146.25H1350.5" stroke="#00ff00" stroke-width="4" stroke-dasharray="12.2 3.4" fill="none"/>
<text class="t" x="1358.8" y="155.35">D Ratio=0.05</text>
<path d="M1272.7 182.25H1350.5" stroke="#ff8000" stroke-width="4" stroke-dasharray="12.2 3.4" fill="none"/>
<text class="t" x="1358.8" y="191.35">D Ratio=0.1</text>
<path d="M1272.7 218.25H1350.5" stroke="#00ffff" stroke-width="4" stroke-dasharray="12.2 3.4" fill="none"/>
<text class="t" x="1358.8" y="227.35">D Ratio=0.15</text>
<path d="M1272.7 254.25H1350.5" stroke="#ff00ff" stroke-width="4" stroke-dasharray="12.2 3.4" fill="none"/>
<text class="t" x="1358.8" y="263.35">D Ratio=0.2</text>
<g class="t" text-anchor="middle">
<text x="90.93" y="337.3">0</text>
<text x="233.7" y="337.3">5</text>
<text x="376.6" y="337.3">10</text>
<text x="521.5" y="337.3">15</text>
<text x="664.9" y="337.3">20</text>
<text x="809.6" y="337.3">25</text>
<text x="952.5" y="337.3">30</text>
<text x="1095.6" y="337.3">35</text>
<text x="1240.6" y="337.3">40</text>
<text x="1383.5" y="337.3">45</text>
<text x="1528.72" y="337.3">50</text>
</g>
<g class="t" text-anchor="end">
<text x="82.93" y="315.7">-10</text>
<text x="82.93" y="247.8">-5</text>
<text x="82.93" y="180.3">0</text>
<text x="82.93" y="112.7">5</text>
<text x="82.93" y="47.05">10</text>
</g>
</g>
<g id="chart2">
<g stroke="#000" stroke-width="4.0" stroke-dasharray="9.3 8.88" fill="none">
<path d="M233.7 679.65V412.2"/>
<path d="M376.6 679.65V412.2"/>
<path d="M521.5 679.65V412.2"/>
<path d="M664.9 679.65V412.2"/>
<path d="M809.6 679.65V412.2"/>
<path d="M952.5 679.65V412.2"/>
<path d="M1095.6 679.65V412.2"/>
<path d="M1240.6 679.65V412.2"/>
<path d="M1383.5 679.65V412.2"/>
</g>
<g stroke="#000" stroke-width="3.6" stroke-dasharray="9.3 8.86" fill="none">
<path d="M90.93 611.1H1528.72"/>
<path d="M90.93 545.6H1528.72"/>
<path d="M90.93 477.9H1528.72"/>
</g>
<g stroke="#000" stroke-width="3.9" fill="none">
<path d="M233.7 679.05v-14.4 M233.7 412.2v14.4"/>
<path d="M376.6 679.05v-14.4 M376.6 412.2v14.4"/>
<path d="M521.5 679.05v-14.4 M521.5 412.2v14.4"/>
<path d="M664.9 679.05v-14.4 M664.9 412.2v14.4"/>
<path d="M809.6 679.05v-14.4 M809.6 412.2v14.4"/>
<path d="M952.5 679.05v-14.4 M952.5 412.2v14.4"/>
<path d="M1095.6 679.05v-14.4 M1095.6 412.2v14.4"/>
<path d="M1240.6 679.05v-14.4 M1240.6 412.2v14.4"/>
<path d="M1383.5 679.05v-14.4 M1383.5 412.2v14.4"/>
</g>
<g stroke="#000" stroke-width="3.5" fill="none">
<path d="M90.93 611.1h14.4 M1528.72 611.1h-14.4"/>
<path d="M90.93 545.6h14.4 M1528.72 545.6h-14.4"/>
<path d="M90.93 477.9h14.4 M1528.72 477.9h-14.4"/>
</g>
<rect x="90.93" y="412.2" width="1437.79" height="266.85" fill="none" stroke="#000" stroke-width="3.75"/>
<g clip-path="url(#clip2)">
<polyline class="c" stroke="#0000ff" stroke-width="4.2" stroke-linejoin="round" stroke-linecap="butt" points="90.9,545.6 105.6,544.9 106.8,545.7 108.1,545.2 109.3,544.6 110.6,545.1 111.8,544.8 113.1,544.9 114.3,544.9 115.6,544.8 116.8,545.2 118.1,545 119.3,544.8 119.7,545 120.6,545 121.8,545.1 123.1,544.3 124.3,544.6 125.6,544.3 126.8,544.4 128.1,544 129.3,544.3 130.6,544.2 131.8,544.1 133.1,543.8 134.3,543.9 135.6,543.6 136.8,543.4 138.1,543.8 139.3,543.3 140.6,543.9 141.8,543.7 143.1,542.8 144.3,543.4 145.6,542.9 146.8,543.2 148.1,543.1 149.3,537.8 150.6,542.3 151.4,542.9 151.8,543.1 153.1,549.2 154.3,546.6 155.4,552.1 155.6,553.6 156.8,545.9 158.1,545 159.3,540.7 159.4,542.9 160.6,546.8 161.8,544.6 163.1,549.6 164.3,545.1 165.6,545.8 166.8,546 168.1,542.4 169.3,543.9 169.9,544.2 170.6,547.5 171.8,542.6 173.1,543.8 174.3,542.9 175.6,544.2 176.8,541.3 178.1,541.5 179.2,541.5 179.3,542.1 180.6,541.4 181.8,538.5 183.1,542.8 184.3,536.7 185.6,536.6 186.8,536 188.1,541.5 188.5,538.9 189.3,539.9 190.6,541.1 191.8,543.5 193.1,550.4 193.8,550.8 194.3,547.6 195.6,546 196.8,549.8 198.1,544.1 199.3,545.3 200.6,545.1 201.7,544.2 201.8,543 203.1,543.5 204.3,546.7 205.6,541.4 206.8,539 208.1,537 209.3,540.8 210.6,539.9 211.8,541.1 212.3,540.2 213.1,538.9 214.3,538.7 215.6,537.9 216.8,538.3 218.1,539.9 219.3,538.3 220.6,539.4 221.8,544 222.9,538.9 223.1,540.7 224.3,538.5 225.6,550.2 226.8,549.7 228.1,549.5 228.1,552.1 229.3,553.7 230.6,550.6 231.8,548.2 233.1,547.4 234.3,545.7 235.6,547.6 236.8,549.5 238.1,545.1 238.7,545.5 239.3,547.7 240.6,553.6 241.8,547.8 243.1,553.8 244,554.8 244.3,553.7 245.6,550.7 246.8,549.8 248.1,551.3 249.3,551.5 250.6,547.9 251.8,548.4 252,548.1 253.1,553.4 254.3,556 254.6,556.1 255.6,557.4 256.8,555.1 258.1,553.9 259.3,556.1 260.6,551.7 261.8,549.2 262.5,548.1 263.1,550.5 263.1,552.3 264.3,538.1 265.6,534.7 266.4,532.4 266.8,538.9 268.1,543 269.3,553.5 270.5,548.9 270.6,548.6 271.8,533.8 273.1,548.2 274.3,537.1 274.6,529 275.6,521.8 276.8,535.1 278.1,525.8 279.3,513.5 279.6,524.1 280.6,527.4 281.8,534.4 282.1,539 283.1,538.5 284.3,511.7 284.6,514.2 285.6,516.2 286.8,520.4 287.9,525.7 288.1,523 289.3,517.3 290.6,521.6 291.8,524.3 292.8,515.8 293.1,520.8 294.3,517.8 295.6,522.7 296.1,532.4 296.8,527.5 298.1,512.6 298.6,512.5 299.3,505.6 300.6,493.9 301.1,501.8 301.8,520.6 303.1,526.4 303.6,525.7 304.3,515.9 305.6,520.5 306.1,512.5 306.8,524.2 308.1,507.6 308.5,524.1 309.3,516.3 310.6,510.2 311,510 311.8,517.8 313.1,519.1 314.3,525.7 314.3,524.3 315.6,520.4 316.8,515.8 316.8,527 318.1,533.9 319.3,525.7 319.3,522.5 320.6,518.7 321.8,538.9 323.1,515.4 324.2,520 324.3,517.1 325.6,528.6 326.7,535.7 326.8,539.1 328.1,548.2 329.2,547.2 329.3,550.2 330.6,548.4 331.7,558.8 331.8,563.2 333.1,573.3 334.2,582 334.3,593.6 335.6,585.4 336.8,580.6 337.5,590.2 338.1,582.1 339.3,593.4 340,582.8 340.6,584.4 341.8,584.6 342.4,601.8 343.1,594.7 344.3,591.4 345.6,591.6 345.7,583.6 346.8,589.2 348.1,612.6 348.2,610.1 349.3,624.6 350.6,626.5 351.5,639 351.8,637.5 353.1,647.7 354.3,645.8 354.8,634.9 355.6,625.1 356.8,596.9 357,591.9 358.1,610.3 359.3,615.9 359.8,621.6 360.6,613.7 361.8,597.5 362.3,598.5 363.1,604.5 364.3,613.2 365.6,639.6 366.4,629.1 366.8,627.2 368.1,633.7 369.3,631.7 370.5,621.6 370.6,620 371.8,611.9 372.2,600.1 373.1,576 374.3,574 375.5,558.8 375.6,561.7 376.3,535.7 376.8,532.3 378.1,567.3 378.8,590.2 379.3,573.9 380.6,511.9 381.3,482.8 381.8,474.2 383.1,473.9 383.8,473.7 384.3,479.6 385.6,507.6 386.2,514.2 386.8,508.4 388.1,485.6 388.7,477.8 389.3,470.9 390.6,468.7 391.8,471 392,462.1 393.1,471.5 394.3,482 394.5,479.4 395.6,484.2 396.8,484 397,492.7 398.1,513.9 399.3,551.4 400.3,570.4 400.6,566.3 401.8,539 403.1,513.5 403.6,514.2 404.3,513.4 405.6,508.2 406.1,509.2 406.8,490.8 408.1,463.4 409.3,439.6 409.4,436.5 410.6,476.9 411.8,521.7 411.9,517.5 413.1,480.9 413.5,459.6 414.3,467.6 415.6,464.4 416.8,457.6 416.8,459.6 418.1,489.1 419.3,519.1 419.3,521.9 420.6,497.9 421.8,481.1 421.8,484.9 423.1,506.8 424.3,517.5 424.3,512.3 425.6,497.3 426.8,499.3 426.8,506.9 428.1,508 429.3,520.3 430.1,520.8 430.6,522.1 431.8,563 432.5,565.4 433.1,573.1 434.3,575.4 435.6,581.5 435.9,585.3 436.8,588.6 438.1,590.4 439.2,594.4 439.3,591.5 440.6,577.7 441.6,577 441.8,585.5 443.1,583.5 444.1,588.6 444.3,586.2 445.6,569.6 446.6,555.5 446.8,542 448.1,563.1 449.3,561.7 449.9,565.4 450.6,561.4 451.8,559.4 452.4,557.2 453.1,555.1 454.3,572.9 455.6,570.6 455.7,575.3 456.8,562.3 458.1,554.3 458.2,558.8 459.3,568.2 460.6,580.9 460.7,577 461.8,567.1 463.1,555 463.1,563.8 464.3,579.7 465.6,577 466.4,590.2 466.8,594 468.1,575.7 468.9,568.7 469.3,559.6 470.6,545 471.4,539 471.8,538.9 473.1,533.1 473.9,522.4 474.3,513.7 475.6,499.8 476.4,481.1 476.8,493.6 477.4,481.1 478.1,487.5 479.1,500.9 479.3,495.2 480.6,502.1 480.7,509.2 481.8,546.4 482.4,578.7 483.1,575.3 484.3,575.6 484.9,580.3 485.6,573.8 486.8,587.4 488.1,571 488.2,586.9 489.3,555.3 490.6,549.5 490.7,535.7 491.8,562.8 493.1,582.3 493.1,580.3 494.3,550.7 495.6,524.4 495.6,512.5 496.8,527 498.1,535.9 498.1,535.7 499.3,567.4 499.8,588.6 500.6,576.1 501.8,553.8 502.2,552.2 503.1,522.8 503.9,502.6 504.3,498.9 505.6,504.6 506.4,505.9 506.8,527.2 508,590.2 508.1,593.8 509.3,542.3 510.5,514.2 510.6,512.9 511.8,520.7 513.1,505.4 513.8,502.6 514.3,521.5 515.6,549.4 516.3,558.8 516.8,544.7 517.9,491 518.1,495.9 519.3,487.3 520.4,499.3 520.6,504.1 521.8,555.9 522.1,568.7 523.1,530.5 523.7,520.8 524.3,526.3 525.6,539.1 526.2,555.5 526.8,537.7 528.1,533.1 528.7,524.1 529.3,535.7 530.6,555.1 531.2,570.4 531.8,555.8 533.1,541.4 534.3,525.4 534.5,525.7 535.6,510.5 536.8,498 537,496.8 538.1,498.3 539.3,507.8 539.4,505.9 540.6,528.8 541.8,549.4 541.9,548.9 543.1,524.8 544.3,503.5 544.4,505.9 545.6,507.7 546.8,503.1 546.9,504.2 548.1,511.2 549.3,504 549.4,519.1 550.6,516.3 551.8,548.3 552.7,555.5 553.1,553.2 554.3,546.4 555.6,529.3 556,520.8 556.8,537.5 558.1,558.7 558.5,565.4 559.3,544.6 560.6,541 561.8,519.1 561.8,515.3 563.1,518.6 564.2,512.5 564.3,515.1 565.6,535.5 566.8,559.2 567.6,565.4 568.1,556.7 569.3,543.5 570.6,527 570.9,529 571.8,524.8 573.1,534.6 574.2,522.4 574.3,521.9 575.6,543.7 576.8,554 577.5,555.5 578.1,558.7 579.3,556.6 580.6,543.2 580.8,548.9 581.8,545.9 583.1,546.9 584.3,527 584.9,528.2 585.6,532.8 586.8,538 588.1,553.1 588.2,552.2 589.3,551.8 590.6,574.8 591.5,570.4 591.8,565.6 593.1,548.1 594.3,557.6 595.6,542.2 595.7,535.7 596.8,534.7 598.1,530.4 599,524.1 599.3,523.8 600.6,530.8 601.8,542.8 602.3,540.6 603.1,552.6 604.3,562.7 604.8,560.5 605.6,560.4 606.8,554.3 608.1,554 608.9,553.8 609.3,562.3 610.6,569.3 611.8,563.6 612.2,567.1 613.1,558.9 614.3,561.7 615.5,547.2 615.6,551.4 616.8,547.7 618.1,532.1 619.3,534.3 619.6,535.7 620.6,544.6 621.8,564.7 622.1,567.1 623.1,554.6 624.3,569.2 625.4,558.8 625.6,561.1 626.8,566.2 628.1,560.7 629.3,571.9 629.6,572.9 630.6,575.3 631.8,551.2 633.1,555.7 633.7,550.5 634.3,550.2 635.6,533.1 636.2,533.2 636.8,537.9 638.1,530.8 639.3,539.9 640.3,532.4 640.6,537.5 641.8,544.4 643.1,563.9 643.6,555.5 644.3,555.8 645.6,550.5 646.8,527.4 646.9,534 648.1,540.6 649.3,560.8 650.2,563.8 650.6,566.3 651.8,550.6 653.1,545.6 653.5,537.3 654.3,529.8 655.6,535.5 656.8,525.5 656.8,532.4 658.1,551 659.3,565.4 659.3,562.5 660.6,559.6 661.8,561.7 663.1,570.3 663.5,558.8 664.3,553 665.6,555.9 666.8,563.4 668.1,559 668.4,560.5 669.3,562.8 670.6,553.2 671.8,548.2 673.1,544.5 673.4,542.3 674.3,550.4 675.6,550.3 676.8,553.2 678.1,555.6 678.3,555.5 679.3,552 680.6,556 681.8,565.5 683.1,565.3 684.3,566.1 684.9,565.4 685.6,567.6 686.8,564.2 688.1,567.3 689.3,563.6 690.6,568.1 691.6,567.1 691.8,564.5 693.1,564.9 694.3,565.8 695.6,562 696.5,562.1 696.8,562.3 698.1,554.2 699.3,546.4 699.8,542.3 700.6,547.3 701.8,539.6 703.1,540.4 704.3,548.8 704.8,547.2 705.6,551.6 706.8,557.1 708.1,555.1 709.3,557.5 709.7,555.5 710.6,553.9 711.8,561 713.1,562.7 714.3,559 714.7,562.9 715.6,558.8 716.8,559.6 718.1,559.1 719.3,547 720,555.5 720.6,554.6 721.8,552.8 723.1,549.1 724.3,548.1 725.6,546.4 726.8,539.3 727.5,541.3 728.1,542.9 729.3,541.2 730.6,539.4 731.8,543.5 733.1,548 734.3,539 735.6,538.8 736.8,539.2 738.1,551.2 739.3,544.5 739.4,545.3 740.6,545.6 741.8,543.9 743.1,543.9 744.3,541 745.6,548.5 746.8,549.3 748.1,542.7 749.3,546.3 750.6,547.7 751.8,550.6 753.1,552 753.3,551.3 754.3,552.4 755.6,550.2 756.8,546.3 758.1,544.3 759.2,537.4 759.3,533.7 760.6,536 761.8,541.7 763.1,539.3 764.3,538.7 765.6,532.6 766.8,533.3 768.1,541.9 769.3,541 770.6,539.3 771.8,539.2 773.1,535.3 774.3,542.4 775.1,541.3 775.6,545.2 776.8,548.4 778.1,544.5 779.3,544.9 780.6,543.3 781.8,549.8 783,549.3 783.1,551.7 784.3,548.1 785.6,549.1 786.8,548.5 788.1,547.2 789.3,544.2 790.6,546.9 791.8,547.9 793.1,544.7 794.3,545.3 795.6,541.5 796.8,547.6 798.1,546.2 798.9,545.3 799.3,545.2 800.6,544.4 801.8,543.4 803.1,543.8 804.3,543.1 805.6,542.7 806.8,542.6 808.1,542.4 809.3,544 810.6,539.4 810.8,541.3 811.8,541.2 813.1,539.3 814.3,538 815.6,535.6 816.8,539.2 818.1,536.3 819.3,536 820.6,537.1 821.8,534.3 822.7,535.4 823.1,535.4 824.3,535.3 825.6,536.5 826.8,536.8 828.1,534.2 829.3,536.7 830.6,535.2 831.8,535.6 833.1,535.1 834.3,536.5 835.6,533.7 836.8,535.7 838.1,537 839.3,535 840.6,538.2 841.8,534.4 843.1,535.7 844.3,534.7 845.6,534.5 846.5,535.4 846.8,533.8 848.1,534.6 849.3,535.3 850.6,534.3 851.8,536.6 853.1,537.5 854.3,533.2 855.6,536.6 856.8,535.6 858.1,535.7 859.3,538.8 860.6,537.1 861.8,535.9 863.1,535.6 864.3,532.4 865.6,536.5 866.8,534.3 868.1,535.6 869.3,535.5 870.6,536.7 871.8,538.2 873.1,536.8 874.3,535.4 874.3,537.2 875.6,535.7 876.8,537.3 878.1,538.4 879.3,535.9 880.6,541.4 881.8,538.2 883.1,538 884.3,542.7 885.6,544 886.2,541.3 886.8,540.2 888.1,539.9 889.3,544.7 890.6,540 891.8,536.7 893.1,538.2 894.3,541.4 895.6,539.1 896.8,538.9 898.1,539.1 898.1,537.4 899.3,538.5 900.6,537.2 901.8,535.5 903.1,538.5 904.3,536.4 905.6,538.1 906.8,540.7 908.1,539.1 909.3,538.6 910.6,538.7 911.8,539.8 913.1,540.2 914.3,537.2 915.6,539.4 916.8,541.7 917.9,539.4 918.1,540.5 919.3,538.6 920.6,538.9 921.8,537.3 923.1,539.3 924.3,542.9 925.6,540.8 926.8,539.9 928.1,540.6 929.3,541.5 930.6,541.7 931.8,541.6 933.1,541.3 934.3,543.5 935.6,545 936.8,542.3 937.8,543.3 938.1,542.7 939.3,545.5 940.6,542.1 941.8,543.7 943.1,544.4 944.3,545.5 945.6,545.3 946.8,544.8 948.1,546.9 949.3,545.1 950.6,544.7 951.8,544.7 953.1,549 953.7,548.1 954.3,545.6 955.6,548.5 956.8,548.7 958.1,548.7 959.3,547.2 960.6,546.5 961.8,547.3 963.1,546.2 964.3,545 965.6,548.5 966.8,545.3 968.1,548.9 969.3,547 970.6,545.5 971.8,546.6 973.1,547.6 974.3,543.8 975.6,544.2 976.8,543.9 977.5,545.3 978.1,545.4 979.3,545.4 980.6,544.6 981.8,543.3 983.1,543.3 984.3,545.4 985.6,545 986.8,543.3 988.1,541 989.3,543.4 989.4,542.5 990.6,543 991.8,543 993.1,545.1 994.3,543.9 995.6,541.5 996.8,541.6 998.1,544.9 999.3,543.3 1000.6,544.3 1001.8,543 1003.1,541.9 1004.3,543.7 1005.2,543.3 1005.6,545.7 1006.8,544.3 1008.1,542.6 1009.3,544.1 1010.6,544.2 1011.8,545.4 1013.1,547 1014.3,548.6 1015.6,546.5 1016.8,546 1017.1,546.5 1018.1,547 1019.3,547.2 1020.6,546.9 1021.8,547.8 1023.1,548.1 1024.3,546.8 1025.6,549.5 1026.8,548.6 1028.1,548 1029.3,550.4 1030.6,549.3 1031.8,552.8 1033,550.5 1033.1,551.3 1034.3,550.4 1035.6,549 1036.8,549.3 1038.1,550.8 1039.3,548.4 1040.6,550.1 1041.8,545.9 1043.1,548.9 1044.3,549.5 1045.6,548.5 1046.8,547.8 1048.1,549 1048.9,547.3 1049.3,546.1 1050.6,545.6 1051.8,546.8 1053.1,548 1054.3,546.6 1055.6,545.3 1056.8,545.7 1058.1,545.6 1059.3,542.9 1060.6,540.4 1060.8,544.1 1061.8,542.8 1063.1,542.2 1064.3,543.5 1065.6,542.7 1066.8,543.2 1068.1,545 1069.3,544.6 1070.6,544.4 1071.8,546.8 1073.1,543.9 1074.3,544 1075.6,546.3 1076.8,543 1078.1,542.4 1079.3,546.5 1080.6,545.2 1081.8,545.6 1083.1,545.6 1084.3,546.1 1085.6,544.2 1086.8,544.7 1088.1,543.3 1089.3,545.1 1090.6,545.3 1091.8,544.3 1093.1,545.9 1094.3,549.2 1095.6,543.4 1096.5,544.9 1096.8,546.2 1098.1,546.2 1099.3,546.2 1100.6,543.5 1101.8,546.1 1103.1,545.2 1104.3,544 1105.6,543.5 1106.8,544.2 1108.1,545 1109.3,544.8 1110.6,546.6 1111.8,542.8 1113.1,544 1114.3,542.4 1115.6,543.9 1116.3,542.5 1116.8,543 1118.1,542.1 1119.3,541.3 1120.6,542.2 1121.8,543.8 1123.1,545.6 1124.3,544.8 1125.6,542.2 1126.8,543.3 1128.1,544.2 1129.3,544.1 1130.6,544.5 1131.8,545.6 1133.1,545 1134.3,543.9 1135.6,542.3 1136.2,544.9 1136.8,544.5 1138.1,542.6 1139.3,544.6 1140.6,545.3 1141.8,542.9 1143.1,544.5 1144.3,544.1 1145.6,547.2 1146.8,545.1 1148.1,541.8 1149.3,545 1150.6,544.9 1151.8,544 1153.1,543.7 1154.3,545 1155.6,545 1156,544.1 1156.8,544.7 1158.1,542.8 1159.3,544 1160.6,542.2 1161.8,542.4 1163.1,543.8 1164.3,543.2 1165.6,544.2 1166.8,548.3 1168.1,545.7 1169.3,543.8 1170.6,542.1 1171.8,544.1 1173.1,543.3 1174.3,542.4 1175.6,546.5 1175.9,545.7 1176.8,544.7 1178.1,545.7 1179.3,549.2 1180.6,545 1181.8,544.5 1183.1,544.6 1184.3,543.5 1185.6,542.4 1186.8,543 1188.1,544.7 1189.3,542.5 1190.6,540.7 1191.7,542.5 1191.8,540.6 1193.1,541 1194.3,542.5 1195.6,543.2 1196.8,543.2 1198.1,544.3 1199.3,542.4 1200.6,543.9 1201.8,543.2 1203.1,543.8 1204.3,540.3 1205.6,544.7 1206.8,540.8 1208.1,541.4 1209.3,544.1 1210.6,542.6 1211.8,545.6 1213.1,543.4 1214.3,541.8 1215.6,543.3 1215.6,543.5 1216.8,542.6 1218.1,545.2 1219.3,545.2 1220.6,543.8 1221.8,542.1 1223.1,542.7 1224.3,543.9 1225.6,541.2 1226.8,541.1 1228.1,543.3 1229.3,543 1230.6,541.5 1231.8,541.3 1233.1,538.8 1234.3,543.1 1235.4,541.3 1235.6,541.2 1236.8,539.4 1238.1,539.9 1239.3,540.3 1240.6,544 1241.8,542.7 1243.1,539.9 1244.3,544.5 1245.6,543.8 1246.8,540.5 1248.1,538.4 1249.3,543.5 1250.6,541.4 1251.8,542.1 1253.1,541.7 1254.3,544.2 1255.2,542.5 1255.6,544.6 1256.8,543.7 1258.1,542.3 1258.5,542.5"/>
<polyline class="c" stroke="#ff0000" stroke-width="4.3" stroke-linejoin="round" stroke-linecap="butt" stroke-dasharray="13.3 2.5" points="90.9,545.6 93.4,545.6 95.9,545.6 98.4,545.6 100.9,545.6 103.4,545.6 105.9,545.6 108.4,545.6 110.9,545.6 113.4,545.6 115.9,545.6 118.4,545.6 120.9,545.6 123.4,545.6 125.9,545.6 128.4,545.6 130.9,545.6 133.4,545.6 135.9,545.6 138.4,545.6 140.9,545.6 143.4,545.6 145.9,545.6 148.4,545.6 150.9,545.6 153.4,545.6 155.9,545.6 158.4,545.6 160.9,545.6 163.4,545.6 165.9,545.6 168.4,545.6 170.9,545.6 173.4,545.6 175.9,545.6 178.4,545.6 180.9,545.6 183.4,545.6 185.9,545.7 188.4,545.7 190.9,545.8 193.4,545.8 195.9,545.9 198.4,545.9 200.9,546 203.4,546.1 205.9,546.1 208.4,546.2 210.9,546.2 213.4,546.3 215.9,546.4 218.4,546.4 220.9,546.5 223.4,546.5 225.9,546.5 228.4,546.6 230.9,546.6 233.4,546.6 235.9,546.6 238.4,546.6 240.9,546.6 243.4,546.6 245.9,546.6 248.4,546.6 250.9,546.6 253.4,546.6 255.9,546.6 258.4,546.6 260.9,546.6 263.4,546.6 265.9,546.5 268.4,546.5 270.9,546.4 273.4,546.4 275.9,546.3 278.4,546.2 280.9,546.1 283.4,546.1 285.9,546 288.4,545.9 290.9,545.8 293.4,545.7 295.9,545.6 298.4,545.5 300.9,545.4 303.4,545.2 305.9,545.1 308.4,545 310.9,544.8 313.4,544.7 315.9,544.6 318.4,544.4 320.9,544.3 323.4,544.1 325.9,543.9 328.4,543.8 330.9,543.6 333.4,543.5 335.9,543.4 338.4,543.2 340.9,543.2 343.4,543.1 345.9,543.1 348.4,543.1 350.9,543.1 353.4,543.1 355.9,543.2 358.4,543.2 360.9,543.3 363.4,543.3 365.9,543.4 368.4,543.5 370.9,543.6 373.4,543.7 375.9,544.3 378.4,545.3 380.9,546.4 383.4,547.5 385.9,548.4 388.4,548.9 390.9,549 393.4,549.2 395.9,549.3 398.4,549.4 400.9,549.5 403.4,549.5 405.9,549.6 408.4,549.6 410.9,549.7 413.4,549.7 415.9,549.8 418.4,549.8 420.9,549.9 423.4,549.9 425.9,550 428.4,550 430.9,550 433.4,550.1 435.9,550.1 438.4,550.1 440.9,550.2 443.4,550.2 445.9,550.2 448.4,550.3 450.9,550.3 453.4,550.4 455.9,550.4 458.4,550.4 460.9,550.5 463.4,550.5 465.9,550.5 468.4,550.5 470.9,550.5 473.4,550.5 475.9,550.5 478.4,550.5 480.9,550.5 483.4,550.5 485.9,550.5 488.4,550.5 490.9,550.4 493.4,550.4 495.9,550.3 498.4,550.3 500.9,550.2 503.4,550.2 505.9,550.1 508.4,550 510.9,549.9 513.4,549.8 515.9,549.8 518.4,549.7 520.9,549.6 523.4,549.5 525.9,549.3 528.4,549.2 530.9,549.1 533.4,549 535.9,548.9 538.4,548.8 540.9,548.6 543.4,548.4 545.9,548.2 548.4,548 550.9,547.7 553.4,547.4 555.9,547.2 558.4,546.8 560.9,546.5 563.4,546.2 565.9,545.9 568.4,545.5 570.9,545.2 573.4,544.8 575.9,544.5 578.4,544.1 580.9,543.8 583.4,543.4 585.9,543.1 588.4,542.7 590.9,542.3 593.4,541.9 595.9,541.5 598.4,541 600.9,540.6 603.4,540.1 605.9,539.7 608.4,539.3 610.9,539 613.4,538.6 615.9,538.4 618.4,538.2 620.9,538 623.4,537.8 625.9,537.7 628.4,537.5 630.9,537.4 633.4,537.3 635.9,537.1 638.4,537 640.9,536.9 643.4,536.8 645.9,536.7 648.4,536.7 650.9,536.6 653.4,536.5 655.9,536.5 658.4,536.5 660.9,536.5 663.4,536.5 665.9,536.5 668.4,536.5 670.9,536.5 673.4,536.5 675.9,536.5 678.4,536.5 680.9,536.5 683.4,536.5 685.9,536.5 688.4,536.5 690.9,536.5 693.4,536.5 695.9,536.5 698.4,536.5 700.9,536.5 703.4,536.5 705.9,536.5 708.4,536.5 710.9,536.5 713.4,536.5 715.9,536.5 718.4,536.5 720.9,536.5 723.4,536.5 725.9,536.4 728.4,536.4 730.9,536.3 733.4,536.3 735.9,536.2 738.4,536.2 740.9,536.2 743.4,536.2 745.9,536.3 748.4,536.4 750.9,536.5 753.4,536.6 755.9,536.8 758.4,537 760.9,537.1 763.4,537.3 765.9,537.5 768.4,537.7 770.9,537.9 773.4,538.1 775.9,538.3 778.4,538.5 780.9,538.7 783.4,538.9 785.9,539.2 788.4,539.5 790.9,539.7 793.4,540 795.9,540.3 798.4,540.6 800.9,540.9 803.4,541.2 805.9,541.5 808.4,541.7 810.9,542 813.4,542.2 815.9,542.4 818.4,542.5 820.9,542.6 823.4,542.8 825.9,542.9 828.4,543 830.9,543.1 833.4,543.2 835.9,543.3 838.4,543.5 840.9,543.6 843.4,543.7 845.9,543.8 848.4,543.9 850.9,544 853.4,544 855.9,544.1 858.4,544.2 860.9,544.3 863.4,544.4 865.9,544.4 868.4,544.5 870.9,544.6 873.4,544.6 875.9,544.7 878.4,544.7 880.9,544.8 883.4,544.8 885.9,544.8 888.4,544.9 890.9,544.9 893.4,544.9 895.9,544.9 898.4,544.9 900.9,544.9 903.4,544.9 905.9,544.9 908.4,544.9 910.9,544.9 913.4,544.9 915.9,544.9 918.4,544.9 920.9,544.9 923.4,544.9 925.9,544.9 928.4,544.9 930.9,544.9 933.4,544.9 935.9,544.9 938.4,544.9 940.9,544.9 943.4,544.9 945.9,544.9 948.4,544.9 950.9,544.9 953.4,544.9 955.9,544.9 958.4,544.9 960.9,544.9 963.4,544.9 965.9,544.9 968.4,544.9 970.9,544.9 973.4,544.9 975.9,544.9 978.4,544.9 980.9,544.9 983.4,544.9 985.9,545 988.4,545 990.9,545 993.4,545.1 995.9,545.1 998.4,545.2 1000.9,545.2 1003.4,545.3 1005.9,545.3 1008.4,545.4 1010.9,545.5 1013.4,545.5 1015.9,545.6 1018.4,545.7 1020.9,545.7 1023.4,545.8 1025.9,545.9 1028.4,546 1030.9,546 1033.4,546.1 1035.9,546.2 1038.4,546.2 1040.9,546.3 1043.4,546.3 1045.9,546.4 1048.4,546.4 1050.9,546.4 1053.4,546.5 1055.9,546.5 1058.4,546.5 1060.9,546.5 1063.4,546.6 1065.9,546.6 1068.4,546.6 1070.9,546.6 1073.4,546.6 1075.9,546.6 1078.4,546.6 1080.9,546.6 1083.4,546.7 1085.9,546.7 1088.4,546.7 1090.9,546.7 1093.4,546.7 1095.9,546.7 1098.4,546.7 1100.9,546.7 1103.4,546.7 1105.9,546.7 1108.4,546.7 1110.9,546.7 1113.4,546.8 1115.9,546.8 1118.4,546.8 1120.9,546.8 1123.4,546.8 1125.9,546.8 1128.4,546.8 1130.9,546.8 1133.4,546.8 1135.9,546.8 1138.4,546.8 1140.9,546.8 1143.4,546.8 1145.9,546.8 1148.4,546.8 1150.9,546.8 1153.4,546.8 1155.9,546.8 1158.4,546.8 1160.9,546.8 1163.4,546.8 1165.9,546.8 1168.4,546.8 1170.9,546.8 1173.4,546.9 1175.9,546.9 1178.4,546.9 1180.9,546.9 1183.4,546.9 1185.9,546.9 1188.4,546.9 1190.9,546.9 1193.4,546.9 1195.9,546.9 1198.4,546.9 1200.9,546.9 1203.4,546.9 1205.9,546.9 1208.4,547 1210.9,547 1213.4,547 1215.9,547 1218.4,547 1220.9,547 1223.4,547 1225.9,547.1 1228.4,547.1 1230.9,547.1 1233.4,547.1 1235.9,547.1 1238.4,547.1 1240.9,547.2 1243.4,547.2 1245.9,547.2 1248.4,547.2 1250.9,547.3 1253.4,547.3 1255.9,547.3 1258.4,547.5 1258.5,547.5"/>
<polyline class="c" stroke="#00ff00" stroke-width="4.3" stroke-linejoin="round" stroke-linecap="butt" stroke-dasharray="13.3 2.5" points="90.9,545.6 93.4,545.6 95.9,545.6 98.4,545.6 100.9,545.6 103.4,545.6 105.9,545.6 108.4,545.6 110.9,545.6 113.4,545.6 115.9,545.6 118.4,545.6 120.9,545.6 123.4,545.6 125.9,545.6 128.4,545.6 130.9,545.6 133.4,545.6 135.9,545.6 138.4,545.6 140.9,545.6 143.4,545.6 145.9,545.6 148.4,545.6 150.9,545.6 153.4,545.6 155.9,545.6 158.4,545.6 160.9,545.6 163.4,545.6 165.9,545.6 168.4,545.6 170.9,545.6 173.4,545.6 175.9,545.6 178.4,545.6 180.9,545.6 183.4,545.6 185.9,545.7 188.4,545.7 190.9,545.7 193.4,545.8 195.9,545.8 198.4,545.9 200.9,545.9 203.4,546 205.9,546 208.4,546.1 210.9,546.1 213.4,546.2 215.9,546.3 218.4,546.3 220.9,546.4 223.4,546.4 225.9,546.5 228.4,546.5 230.9,546.6 233.4,546.6 235.9,546.6 238.4,546.7 240.9,546.7 243.4,546.7 245.9,546.8 248.4,546.8 250.9,546.9 253.4,546.9 255.9,546.9 258.4,546.9 260.9,546.9 263.4,546.9 265.9,546.8 268.4,546.7 270.9,546.6 273.4,546.5 275.9,546.4 278.4,546.2 280.9,546 283.4,545.9 285.9,545.6 288.4,545.3 290.9,544.9 293.4,544.4 295.9,544 298.4,543.5 300.9,543.1 303.4,542.7 305.9,542.3 308.4,541.8 310.9,541.4 313.4,541 315.9,540.8 318.4,540.6 320.9,540.7 323.4,540.8 325.9,541 328.4,541.3 330.9,541.7 333.4,542.1 335.9,542.8 338.4,543.8 340.9,545 343.4,546.3 345.9,547.7 348.4,548.9 350.9,550 353.4,550.9 355.9,551.8 358.4,552.7 360.9,553.6 363.4,554.5 365.9,555.2 368.4,555.9 370.9,556.5 373.4,556.9 375.9,557.1 378.4,557.1 380.9,557.1 383.4,557 385.9,556.8 388.4,556.1 390.9,555 393.4,553.9 395.9,553 398.4,552.1 400.9,551.2 403.4,550.3 405.9,549.5 408.4,548.6 410.9,547.8 413.4,547 415.9,546.2 418.4,545.6 420.9,545 423.4,544.3 425.9,543.8 428.4,543.3 430.9,543.1 433.4,543.1 435.9,543.3 438.4,543.5 440.9,543.8 443.4,544.1 445.9,544.4 448.4,544.6 450.9,544.9 453.4,545.1 455.9,545.4 458.4,545.6 460.9,545.9 463.4,546.1 465.9,546.4 468.4,546.5 470.9,546.5 473.4,546.3 475.9,546 478.4,545.9 480.9,545.9 483.4,545.9 485.9,545.9 488.4,545.9 490.9,545.9 493.4,545.9 495.9,545.9 498.4,545.9 500.9,545.9 503.4,545.9 505.9,545.9 508.4,545.9 510.9,545.8 513.4,545.7 515.9,545.6 518.4,545.5 520.9,545.4 523.4,545.3 525.9,545.2 528.4,545 530.9,544.9 533.4,544.7 535.9,544.5 538.4,544.1 540.9,543.8 543.4,543.4 545.9,543 548.4,542.6 550.9,542.4 553.4,542.2 555.9,542.1 558.4,542.1 560.9,542 563.4,541.9 565.9,541.8 568.4,541.8 570.9,541.7 573.4,541.7 575.9,541.6 578.4,541.6 580.9,541.5 583.4,541.5 585.9,541.4 588.4,541.4 590.9,541.3 593.4,541.3 595.9,541.2 598.4,541.2 600.9,541.1 603.4,541.1 605.9,541 608.4,541 610.9,540.9 613.4,540.9 615.9,540.8 618.4,540.8 620.9,540.7 623.4,540.7 625.9,540.7 628.4,540.6 630.9,540.6 633.4,540.6 635.9,540.6 638.4,540.6 640.9,540.7 643.4,540.8 645.9,540.9 648.4,541 650.9,541.2 653.4,541.4 655.9,541.6 658.4,541.7 660.9,541.9 663.4,542.1 665.9,542.3 668.4,542.5 670.9,542.7 673.4,542.9 675.9,543.1 678.4,543.2 680.9,543.4 683.4,543.5 685.9,543.7 688.4,543.9 690.9,544.1 693.4,544.3 695.9,544.5 698.4,544.7 700.9,544.8 703.4,545 705.9,545.1 708.4,545.3 710.9,545.4 713.4,545.5 715.9,545.5 718.4,545.6 720.9,545.6 723.4,545.6 725.9,545.6 728.4,545.6 730.9,545.6 733.4,545.5 735.9,545.5 738.4,545.5 740.9,545.5 743.4,545.4 745.9,545.4 748.4,545.4 750.9,545.4 753.4,545.3 755.9,545.3 758.4,545.2 760.9,545.2 763.4,545.2 765.9,545.1 768.4,545.1 770.9,545 773.4,545 775.9,544.9 778.4,544.9 780.9,544.8 783.4,544.8 785.9,544.8 788.4,544.7 790.9,544.7 793.4,544.6 795.9,544.6 798.4,544.5 800.9,544.5 803.4,544.4 805.9,544.4 808.4,544.3 810.9,544.3 813.4,544.2 815.9,544.2 818.4,544.1 820.9,544.1 823.4,544 825.9,544 828.4,543.9 830.9,543.9 833.4,543.8 835.9,543.8 838.4,543.7 840.9,543.6 843.4,543.6 845.9,543.5 848.4,543.4 850.9,543.4 853.4,543.3 855.9,543.2 858.4,543.2 860.9,543.1 863.4,543 865.9,543 868.4,542.9 870.9,542.9 873.4,542.8 875.9,542.8 878.4,542.7 880.9,542.7 883.4,542.6 885.9,542.6 888.4,542.6 890.9,542.6 893.4,542.6 895.9,542.5 898.4,542.5 900.9,542.5 903.4,542.5 905.9,542.6 908.4,542.6 910.9,542.6 913.4,542.6 915.9,542.6 918.4,542.6 920.9,542.7 923.4,542.7 925.9,542.7 928.4,542.8 930.9,542.8 933.4,542.8 935.9,542.8 938.4,542.9 940.9,542.9 943.4,542.9 945.9,543 948.4,543 950.9,543 953.4,543.1 955.9,543.1 958.4,543.1 960.9,543.2 963.4,543.2 965.9,543.2 968.4,543.3 970.9,543.3 973.4,543.3 975.9,543.3 978.4,543.3 980.9,543.4 983.4,543.4 985.9,543.4 988.4,543.4 990.9,543.4 993.4,543.4 995.9,543.4 998.4,543.5 1000.9,543.5 1003.4,543.5 1005.9,543.5 1008.4,543.5 1010.9,543.5 1013.4,543.5 1015.9,543.5 1018.4,543.6 1020.9,543.6 1023.4,543.6 1025.9,543.6 1028.4,543.6 1030.9,543.6 1033.4,543.6 1035.9,543.6 1038.4,543.6 1040.9,543.7 1043.4,543.7 1045.9,543.7 1048.4,543.7 1050.9,543.7 1053.4,543.7 1055.9,543.7 1058.4,543.7 1060.9,543.8 1063.4,543.8 1065.9,543.8 1068.4,543.8 1070.9,543.8 1073.4,543.8 1075.9,543.8 1078.4,543.9 1080.9,543.9 1083.4,543.9 1085.9,543.9 1088.4,543.9 1090.9,543.9 1093.4,544 1095.9,544 1098.4,544 1100.9,544 1103.4,544 1105.9,544 1108.4,544 1110.9,544.1 1113.4,544.1 1115.9,544.1 1118.4,544.1 1120.9,544.1 1123.4,544.1 1125.9,544.1 1128.4,544.1 1130.9,544.1 1133.4,544.1 1135.9,544.1 1138.4,544.1 1140.9,544.1 1143.4,544.1 1145.9,544.1 1148.4,544.1 1150.9,544.1 1153.4,544.1 1155.9,544.1 1158.4,544.1 1160.9,544.1 1163.4,544.1 1165.9,544.1 1168.4,544.1 1170.9,544.1 1173.4,544.1 1175.9,544.1 1178.4,544.1 1180.9,544.1 1183.4,544.1 1185.9,544.1 1188.4,544.1 1190.9,544.1 1193.4,544.1 1195.9,544.1 1198.4,544 1200.9,544 1203.4,544 1205.9,544 1208.4,544 1210.9,544 1213.4,544 1215.9,544 1218.4,544 1220.9,544 1223.4,543.9 1225.9,543.9 1228.4,543.9 1230.9,543.9 1233.4,543.9 1235.9,543.9 1238.4,543.9 1240.9,543.8 1243.4,543.8 1245.9,543.8 1248.4,543.8 1250.9,543.8 1253.4,543.7 1255.9,543.7 1258.4,543.6 1258.5,543.6"/>
<polyline class="c" stroke="#ff8000" stroke-width="4.3" stroke-linejoin="round" stroke-linecap="butt" stroke-dasharray="13.3 2.5" points="90.9,545.6 93.4,545.6 95.9,545.6 98.4,545.6 100.9,545.6 103.4,545.6 105.9,545.6 108.4,545.6 110.9,545.6 113.4,545.6 115.9,545.6 118.4,545.6 120.9,545.6 123.4,545.6 125.9,545.6 128.4,545.6 130.9,545.6 133.4,545.6 135.9,545.6 138.4,545.6 140.9,545.6 143.4,545.6 145.9,545.6 148.4,545.6 150.9,545.6 153.4,545.6 155.9,545.6 158.4,545.6 160.9,545.6 163.4,545.6 165.9,545.6 168.4,545.6 170.9,545.6 173.4,545.6 175.9,545.6 178.4,545.6 180.9,545.6 183.4,545.6 185.9,545.7 188.4,545.7 190.9,545.7 193.4,545.8 195.9,545.8 198.4,545.9 200.9,545.9 203.4,546 205.9,546 208.4,546.1 210.9,546.1 213.4,546.2 215.9,546.3 218.4,546.3 220.9,546.4 223.4,546.4 225.9,546.5 228.4,546.5 230.9,546.6 233.4,546.6 235.9,546.6 238.4,546.7 240.9,546.7 243.4,546.7 245.9,546.8 248.4,546.8 250.9,546.9 253.4,546.9 255.9,546.9 258.4,546.9 260.9,546.9 263.4,546.9 265.9,546.8 268.4,546.7 270.9,546.5 273.4,546.4 275.9,546.2 278.4,546 280.9,545.8 283.4,545.3 285.9,544.7 288.4,544 290.9,543.2 293.4,542.4 295.9,541.6 298.4,540.9 300.9,540.3 303.4,539.6 305.9,538.9 308.4,538.2 310.9,537.6 313.4,537.1 315.9,536.7 318.4,536.5 320.9,536.5 323.4,536.8 325.9,537.3 328.4,537.8 330.9,538.5 333.4,539.3 335.9,540.5 338.4,542.2 340.9,544.2 343.4,546.5 345.9,548.7 348.4,550.9 350.9,552.9 353.4,554.5 355.9,556.2 358.4,558 360.9,559.8 363.4,561.5 365.9,563.1 368.4,564.4 370.9,565.4 373.4,566.1 375.9,566.2 378.4,566.1 380.9,565.7 383.4,564.9 385.9,563 388.4,560.5 390.9,558.4 393.4,556.6 395.9,554.8 398.4,553.2 400.9,551.6 403.4,550.2 405.9,548.8 408.4,547.4 410.9,546.1 413.4,544.7 415.9,543.1 418.4,541.4 420.9,539.9 423.4,538.8 425.9,538.2 428.4,538.2 430.9,538.2 433.4,538.4 435.9,538.6 438.4,539 440.9,539.9 443.4,541.1 445.9,542.3 448.4,543.2 450.9,543.8 453.4,544.4 455.9,544.9 458.4,545.4 460.9,545.8 463.4,546.2 465.9,546.6 468.4,546.9 470.9,546.8 473.4,546 475.9,545.2 478.4,544.8 480.9,545.2 483.4,546.1 485.9,546.9 488.4,547.2 490.9,547.2 493.4,547 495.9,546.8 498.4,546.5 500.9,546.2 503.4,545.9 505.9,545.6 508.4,545.4 510.9,545.2 513.4,545 515.9,544.8 518.4,544.7 520.9,544.5 523.4,544.4 525.9,544.2 528.4,544 530.9,543.8 533.4,543.5 535.9,543.1 538.4,542.6 540.9,542 543.4,541.4 545.9,540.9 548.4,540.7 550.9,540.6 553.4,540.5 555.9,540.5 558.4,540.4 560.9,540.4 563.4,540.4 565.9,540.3 568.4,540.3 570.9,540.3 573.4,540.3 575.9,540.3 578.4,540.3 580.9,540.4 583.4,540.6 585.9,540.9 588.4,541.2 590.9,541.5 593.4,541.7 595.9,542 598.4,542.2 600.9,542.4 603.4,542.6 605.9,542.7 608.4,542.9 610.9,543.1 613.4,543.3 615.9,543.4 618.4,543.6 620.9,543.7 623.4,543.9 625.9,544 628.4,544.1 630.9,544.2 633.4,544.4 635.9,544.5 638.4,544.6 640.9,544.7 643.4,544.8 645.9,544.9 648.4,545.1 650.9,545.2 653.4,545.3 655.9,545.5 658.4,545.7 660.9,545.9 663.4,546.1 665.9,546.3 668.4,546.5 670.9,546.7 673.4,546.8 675.9,547 678.4,547.1 680.9,547.2 683.4,547.2 685.9,547.2 688.4,547.2 690.9,547.2 693.4,547.2 695.9,547.2 698.4,547.2 700.9,547.2 703.4,547.2 705.9,547.1 708.4,547.1 710.9,547.1 713.4,547.1 715.9,547 718.4,547 720.9,547 723.4,546.9 725.9,546.9 728.4,546.9 730.9,546.8 733.4,546.8 735.9,546.7 738.4,546.7 740.9,546.6 743.4,546.6 745.9,546.5 748.4,546.5 750.9,546.4 753.4,546.4 755.9,546.3 758.4,546.3 760.9,546.2 763.4,546.2 765.9,546.1 768.4,546.1 770.9,546 773.4,545.9 775.9,545.9 778.4,545.8 780.9,545.8 783.4,545.7 785.9,545.7 788.4,545.6 790.9,545.5 793.4,545.5 795.9,545.4 798.4,545.4 800.9,545.3 803.4,545.3 805.9,545.2 808.4,545.1 810.9,545.1 813.4,545 815.9,545 818.4,544.9 820.9,544.9 823.4,544.8 825.9,544.8 828.4,544.7 830.9,544.6 833.4,544.5 835.9,544.5 838.4,544.4 840.9,544.3 843.4,544.2 845.9,544.1 848.4,544.1 850.9,544 853.4,543.9 855.9,543.8 858.4,543.7 860.9,543.6 863.4,543.6 865.9,543.5 868.4,543.4 870.9,543.3 873.4,543.3 875.9,543.2 878.4,543.2 880.9,543.1 883.4,543.1 885.9,543 888.4,543 890.9,543 893.4,543 895.9,542.9 898.4,542.9 900.9,542.9 903.4,542.9 905.9,542.9 908.4,543 910.9,543 913.4,543 915.9,543 918.4,543 920.9,543 923.4,543.1 925.9,543.1 928.4,543.1 930.9,543.1 933.4,543.2 935.9,543.2 938.4,543.2 940.9,543.3 943.4,543.3 945.9,543.3 948.4,543.3 950.9,543.4 953.4,543.4 955.9,543.4 958.4,543.5 960.9,543.5 963.4,543.6 965.9,543.6 968.4,543.6 970.9,543.6 973.4,543.7 975.9,543.7 978.4,543.7 980.9,543.8 983.4,543.8 985.9,543.8 988.4,543.9 990.9,543.9 993.4,544 995.9,544 998.4,544.1 1000.9,544.1 1003.4,544.2 1005.9,544.2 1008.4,544.3 1010.9,544.3 1013.4,544.4 1015.9,544.4 1018.4,544.5 1020.9,544.5 1023.4,544.6 1025.9,544.6 1028.4,544.7 1030.9,544.7 1033.4,544.7 1035.9,544.8 1038.4,544.8 1040.9,544.8 1043.4,544.9 1045.9,544.9 1048.4,544.9 1050.9,544.9 1053.4,544.9 1055.9,544.9 1058.4,544.9 1060.9,544.9 1063.4,544.9 1065.9,544.9 1068.4,544.9 1070.9,544.9 1073.4,544.9 1075.9,544.9 1078.4,544.9 1080.9,544.9 1083.4,544.9 1085.9,544.9 1088.4,544.9 1090.9,544.9 1093.4,544.9 1095.9,544.9 1098.4,544.9 1100.9,544.9 1103.4,544.9 1105.9,544.9 1108.4,544.9 1110.9,544.9 1113.4,544.9 1115.9,544.9 1118.4,544.9 1120.9,544.9 1123.4,544.9 1125.9,544.9 1128.4,544.9 1130.9,544.9 1133.4,544.9 1135.9,544.9 1138.4,544.9 1140.9,544.9 1143.4,544.9 1145.9,544.9 1148.4,544.9 1150.9,544.9 1153.4,544.9 1155.9,544.9 1158.4,544.9 1160.9,544.9 1163.4,544.9 1165.9,544.9 1168.4,544.9 1170.9,544.9 1173.4,544.9 1175.9,544.9 1178.4,544.9 1180.9,544.8 1183.4,544.8 1185.9,544.8 1188.4,544.8 1190.9,544.8 1193.4,544.8 1195.9,544.8 1198.4,544.8 1200.9,544.7 1203.4,544.7 1205.9,544.7 1208.4,544.7 1210.9,544.7 1213.4,544.6 1215.9,544.6 1218.4,544.6 1220.9,544.6 1223.4,544.5 1225.9,544.5 1228.4,544.5 1230.9,544.5 1233.4,544.4 1235.9,544.4 1238.4,544.4 1240.9,544.3 1243.4,544.3 1245.9,544.3 1248.4,544.2 1250.9,544.2 1253.4,544.2 1255.9,544.1 1258.4,543.9 1258.5,543.9"/>
<polyline class="c" stroke="#00ffff" stroke-width="4.3" stroke-linejoin="round" stroke-linecap="butt" stroke-dasharray="13.3 2.5" points="90.9,545.6 93.4,545.6 95.9,545.6 98.4,545.6 100.9,545.6 103.4,545.6 105.9,545.6 108.4,545.6 110.9,545.6 113.4,545.6 115.9,545.6 118.4,545.6 120.9,545.6 123.4,545.6 125.9,545.6 128.4,545.6 130.9,545.6 133.4,545.6 135.9,545.6 138.4,545.6 140.9,545.6 143.4,545.6 145.9,545.6 148.4,545.6 150.9,545.6 153.4,545.6 155.9,545.6 158.4,545.6 160.9,545.6 163.4,545.6 165.9,545.6 168.4,545.6 170.9,545.6 173.4,545.6 175.9,545.6 178.4,545.6 180.9,545.6 183.4,545.6 185.9,545.7 188.4,545.7 190.9,545.7 193.4,545.8 195.9,545.8 198.4,545.9 200.9,545.9 203.4,546 205.9,546 208.4,546.1 210.9,546.1 213.4,546.2 215.9,546.3 218.4,546.3 220.9,546.4 223.4,546.4 225.9,546.5 228.4,546.5 230.9,546.6 233.4,546.6 235.9,546.6 238.4,546.7 240.9,546.7 243.4,546.7 245.9,546.8 248.4,546.8 250.9,546.9 253.4,546.9 255.9,546.9 258.4,546.9 260.9,546.9 263.4,546.9 265.9,546.8 268.4,546.6 270.9,546.5 273.4,546.3 275.9,546.1 278.4,545.9 280.9,545.4 283.4,544.7 285.9,543.8 288.4,542.7 290.9,541.6 293.4,540.5 295.9,539.4 298.4,538.5 300.9,537.7 303.4,536.8 305.9,535.8 308.4,534.9 310.9,534.1 313.4,533.3 315.9,532.8 318.4,532.4 320.9,532.4 323.4,532.7 325.9,533.3 328.4,534.1 330.9,535 333.4,536.1 335.9,537.9 338.4,540.3 340.9,543.3 343.4,546.5 345.9,549.8 348.4,552.9 350.9,555.8 353.4,558.2 355.9,560.6 358.4,563.2 360.9,565.7 363.4,568.1 365.9,570.3 368.4,572 370.9,573.2 373.4,573.7 375.9,573.7 378.4,573.7 380.9,573.6 383.4,571.6 385.9,567.9 388.4,564.1 390.9,561 393.4,557.9 395.9,554.9 398.4,552.5 400.9,550.4 403.4,548.5 405.9,546.6 408.4,544.8 410.9,543 413.4,541 415.9,538.5 418.4,535.9 420.9,533.6 423.4,531.7 425.9,530.8 428.4,530.7 430.9,530.9 433.4,531.3 435.9,531.8 438.4,533.6 440.9,536.2 443.4,538.7 445.9,540.3 448.4,541.5 450.9,542.6 453.4,543.5 455.9,544.3 458.4,545.1 460.9,545.8 463.4,546.4 465.9,547.1 468.4,547.5 470.9,547.4 473.4,546 475.9,544.3 478.4,543.6 480.9,544.4 483.4,546 485.9,547.5 488.4,548.1 490.9,548 493.4,547.8 495.9,547.4 498.4,547 500.9,546.6 503.4,546 505.9,545.5 508.4,545 510.9,544.5 513.4,543.7 515.9,542.9 518.4,542.4 520.9,542.2 523.4,542.2 525.9,542.1 528.4,542.1 530.9,542 533.4,541.9 535.9,541.5 538.4,540.8 540.9,540 543.4,539.2 545.9,538.5 548.4,538.2 550.9,538.1 553.4,538.2 555.9,538.2 558.4,538.2 560.9,538.2 563.4,538.3 565.9,538.3 568.4,538.4 570.9,538.4 573.4,538.5 575.9,538.6 578.4,538.7 580.9,538.9 583.4,539.3 585.9,539.7 588.4,540.2 590.9,540.7 593.4,541.1 595.9,541.5 598.4,541.8 600.9,542.1 603.4,542.4 605.9,542.7 608.4,543 610.9,543.2 613.4,543.5 615.9,543.7 618.4,543.9 620.9,544.1 623.4,544.3 625.9,544.4 628.4,544.6 630.9,544.7 633.4,544.9 635.9,545 638.4,545.1 640.9,545.3 643.4,545.4 645.9,545.5 648.4,545.7 650.9,545.8 653.4,546 655.9,546.2 658.4,546.5 660.9,546.7 663.4,547 665.9,547.3 668.4,547.5 670.9,547.8 673.4,548 675.9,548.2 678.4,548.4 680.9,548.5 683.4,548.5 685.9,548.6 688.4,548.6 690.9,548.5 693.4,548.5 695.9,548.5 698.4,548.5 700.9,548.4 703.4,548.4 705.9,548.4 708.4,548.3 710.9,548.3 713.4,548.2 715.9,548.2 718.4,548.1 720.9,548.1 723.4,548 725.9,547.9 728.4,547.8 730.9,547.8 733.4,547.7 735.9,547.6 738.4,547.5 740.9,547.4 743.4,547.4 745.9,547.3 748.4,547.2 750.9,547.1 753.4,547 755.9,546.9 758.4,546.8 760.9,546.7 763.4,546.6 765.9,546.5 768.4,546.4 770.9,546.3 773.4,546.2 775.9,546.1 778.4,546 780.9,545.9 783.4,545.8 785.9,545.7 788.4,545.6 790.9,545.5 793.4,545.4 795.9,545.3 798.4,545.2 800.9,545.1 803.4,545 805.9,544.9 808.4,544.9 810.9,544.8 813.4,544.7 815.9,544.6 818.4,544.5 820.9,544.5 823.4,544.4 825.9,544.3 828.4,544.2 830.9,544.1 833.4,544 835.9,543.9 838.4,543.8 840.9,543.7 843.4,543.6 845.9,543.5 848.4,543.4 850.9,543.3 853.4,543.2 855.9,543.1 858.4,543 860.9,542.9 863.4,542.9 865.9,542.8 868.4,542.7 870.9,542.6 873.4,542.5 875.9,542.5 878.4,542.4 880.9,542.3 883.4,542.3 885.9,542.2 888.4,542.2 890.9,542.2 893.4,542.2 895.9,542.1 898.4,542.1 900.9,542.1 903.4,542.2 905.9,542.2 908.4,542.2 910.9,542.2 913.4,542.2 915.9,542.3 918.4,542.3 920.9,542.4 923.4,542.4 925.9,542.5 928.4,542.5 930.9,542.6 933.4,542.6 935.9,542.7 938.4,542.8 940.9,542.8 943.4,542.9 945.9,542.9 948.4,543 950.9,543.1 953.4,543.1 955.9,543.2 958.4,543.3 960.9,543.3 963.4,543.4 965.9,543.5 968.4,543.5 970.9,543.6 973.4,543.6 975.9,543.7 978.4,543.7 980.9,543.8 983.4,543.9 985.9,543.9 988.4,544 990.9,544 993.4,544.1 995.9,544.2 998.4,544.2 1000.9,544.3 1003.4,544.4 1005.9,544.4 1008.4,544.5 1010.9,544.6 1013.4,544.6 1015.9,544.7 1018.4,544.8 1020.9,544.8 1023.4,544.9 1025.9,544.9 1028.4,545 1030.9,545 1033.4,545.1 1035.9,545.1 1038.4,545.2 1040.9,545.2 1043.4,545.2 1045.9,545.3 1048.4,545.3 1050.9,545.3 1053.4,545.3 1055.9,545.3 1058.4,545.3 1060.9,545.3 1063.4,545.3 1065.9,545.3 1068.4,545.3 1070.9,545.3 1073.4,545.3 1075.9,545.3 1078.4,545.3 1080.9,545.3 1083.4,545.3 1085.9,545.3 1088.4,545.3 1090.9,545.3 1093.4,545.3 1095.9,545.3 1098.4,545.3 1100.9,545.3 1103.4,545.3 1105.9,545.3 1108.4,545.3 1110.9,545.3 1113.4,545.3 1115.9,545.3 1118.4,545.3 1120.9,545.3 1123.4,545.3 1125.9,545.3 1128.4,545.3 1130.9,545.3 1133.4,545.3 1135.9,545.3 1138.4,545.3 1140.9,545.3 1143.4,545.3 1145.9,545.3 1148.4,545.3 1150.9,545.3 1153.4,545.3 1155.9,545.3 1158.4,545.3 1160.9,545.3 1163.4,545.3 1165.9,545.3 1168.4,545.2 1170.9,545.2 1173.4,545.2 1175.9,545.2 1178.4,545.2 1180.9,545.2 1183.4,545.1 1185.9,545.1 1188.4,545.1 1190.9,545.1 1193.4,545 1195.9,545 1198.4,545 1200.9,545 1203.4,544.9 1205.9,544.9 1208.4,544.8 1210.9,544.8 1213.4,544.8 1215.9,544.7 1218.4,544.7 1220.9,544.6 1223.4,544.6 1225.9,544.5 1228.4,544.5 1230.9,544.4 1233.4,544.4 1235.9,544.3 1238.4,544.2 1240.9,544.2 1243.4,544.1 1245.9,544 1248.4,543.9 1250.9,543.9 1253.4,543.8 1255.9,543.7 1258.4,543.3 1258.5,543.3"/>
<polyline class="c" stroke="#ff00ff" stroke-width="4.3" stroke-linejoin="round" stroke-linecap="butt" stroke-dasharray="13.3 2.5" points="90.9,545.6 93.4,545.6 95.9,545.6 98.4,545.6 100.9,545.6 103.4,545.6 105.9,545.6 108.4,545.6 110.9,545.6 113.4,545.6 115.9,545.6 118.4,545.6 120.9,545.6 123.4,545.6 125.9,545.6 128.4,545.6 130.9,545.6 133.4,545.6 135.9,545.6 138.4,545.6 140.9,545.6 143.4,545.6 145.9,545.6 148.4,545.6 150.9,545.6 153.4,545.6 155.9,545.6 158.4,545.6 160.9,545.6 163.4,545.6 165.9,545.6 168.4,545.6 170.9,545.6 173.4,545.6 175.9,545.6 178.4,545.6 180.9,545.6 183.4,545.6 185.9,545.7 188.4,545.7 190.9,545.7 193.4,545.8 195.9,545.8 198.4,545.9 200.9,545.9 203.4,546 205.9,546 208.4,546.1 210.9,546.1 213.4,546.2 215.9,546.3 218.4,546.3 220.9,546.4 223.4,546.4 225.9,546.5 228.4,546.5 230.9,546.6 233.4,546.6 235.9,546.6 238.4,546.7 240.9,546.7 243.4,546.7 245.9,546.8 248.4,546.8 250.9,546.9 253.4,546.9 255.9,546.9 258.4,546.9 260.9,546.9 263.4,546.8 265.9,546.7 268.4,546.6 270.9,546.4 273.4,546.2 275.9,545.9 278.4,545.6 280.9,544.8 283.4,543.8 285.9,542.6 288.4,541.3 290.9,539.9 293.4,538.5 295.9,537.2 298.4,536.1 300.9,535.1 303.4,534 305.9,532.8 308.4,531.7 310.9,530.6 313.4,529.6 315.9,528.8 318.4,528.2 320.9,527.8 323.4,527.8 325.9,528.3 328.4,529.3 330.9,530.6 333.4,532.1 335.9,534.4 338.4,537.5 340.9,541.2 343.4,545.2 345.9,549.3 348.4,553.3 350.9,557 353.4,560.2 355.9,563.6 358.4,567.2 360.9,570.7 363.4,574 365.9,576.9 368.4,579 370.9,580.1 373.4,580.3 375.9,580.3 378.4,580.3 380.9,580.2 383.4,577.5 385.9,572.6 388.4,567.6 390.9,563.4 393.4,559.2 395.9,555.3 398.4,552.1 400.9,549.4 403.4,546.9 405.9,544.5 408.4,542.3 410.9,539.9 413.4,537.3 415.9,534.1 418.4,530.8 420.9,528 423.4,526.1 425.9,525.7 428.4,525.7 430.9,525.7 433.4,525.7 435.9,526 438.4,528.3 440.9,532.1 443.4,535.8 445.9,538 448.4,539.6 450.9,541 453.4,542.3 455.9,543.4 458.4,544.4 460.9,545.4 463.4,546.3 465.9,547.3 468.4,548 470.9,547.8 473.4,545.8 475.9,543.3 478.4,542.3 480.9,543.4 483.4,545.8 485.9,548 488.4,548.9 490.9,548.8 493.4,548.4 495.9,547.9 498.4,547.3 500.9,546.6 503.4,545.8 505.9,545 508.4,544.3 510.9,543.5 513.4,542.5 515.9,541.4 518.4,540.7 520.9,540.6 523.4,540.6 525.9,540.6 528.4,540.6 530.9,540.6 533.4,540.6 535.9,540.2 538.4,539.3 540.9,538.2 543.4,537.1 545.9,536.2 548.4,535.7 550.9,535.7 553.4,535.7 555.9,535.7 558.4,535.8 560.9,535.8 563.4,535.9 565.9,536 568.4,536.1 570.9,536.2 573.4,536.3 575.9,536.4 578.4,536.6 580.9,536.9 583.4,537.4 585.9,538.1 588.4,538.8 590.9,539.5 593.4,540.2 595.9,540.7 598.4,541.1 600.9,541.5 603.4,541.9 605.9,542.3 608.4,542.7 610.9,543 613.4,543.3 615.9,543.6 618.4,543.9 620.9,544.1 623.4,544.4 625.9,544.6 628.4,544.8 630.9,544.9 633.4,545.1 635.9,545.3 638.4,545.4 640.9,545.6 643.4,545.8 645.9,545.9 648.4,546.1 650.9,546.3 653.4,546.6 655.9,546.8 658.4,547.1 660.9,547.4 663.4,547.8 665.9,548.1 668.4,548.4 670.9,548.7 673.4,549 675.9,549.3 678.4,549.5 680.9,549.6 683.4,549.7 685.9,549.7 688.4,549.7 690.9,549.7 693.4,549.7 695.9,549.6 698.4,549.6 700.9,549.6 703.4,549.5 705.9,549.5 708.4,549.4 710.9,549.3 713.4,549.3 715.9,549.2 718.4,549.1 720.9,549 723.4,548.9 725.9,548.8 728.4,548.7 730.9,548.6 733.4,548.5 735.9,548.4 738.4,548.3 740.9,548.2 743.4,548 745.9,547.9 748.4,547.8 750.9,547.7 753.4,547.5 755.9,547.4 758.4,547.3 760.9,547.1 763.4,547 765.9,546.8 768.4,546.7 770.9,546.6 773.4,546.4 775.9,546.3 778.4,546.1 780.9,546 783.4,545.9 785.9,545.7 788.4,545.6 790.9,545.5 793.4,545.3 795.9,545.2 798.4,545.1 800.9,544.9 803.4,544.8 805.9,544.7 808.4,544.6 810.9,544.5 813.4,544.4 815.9,544.2 818.4,544.1 820.9,544 823.4,543.9 825.9,543.8 828.4,543.7 830.9,543.6 833.4,543.4 835.9,543.3 838.4,543.2 840.9,543.1 843.4,542.9 845.9,542.8 848.4,542.7 850.9,542.5 853.4,542.4 855.9,542.3 858.4,542.1 860.9,542 863.4,541.9 865.9,541.8 868.4,541.7 870.9,541.6 873.4,541.5 875.9,541.4 878.4,541.3 880.9,541.2 883.4,541.1 885.9,541.1 888.4,541 890.9,541 893.4,541 895.9,541 898.4,541 900.9,541 903.4,541 905.9,541 908.4,541 910.9,541.1 913.4,541.1 915.9,541.2 918.4,541.2 920.9,541.3 923.4,541.4 925.9,541.4 928.4,541.5 930.9,541.6 933.4,541.7 935.9,541.8 938.4,541.9 940.9,542 943.4,542.1 945.9,542.2 948.4,542.3 950.9,542.4 953.4,542.5 955.9,542.6 958.4,542.7 960.9,542.8 963.4,542.9 965.9,542.9 968.4,543 970.9,543.1 973.4,543.2 975.9,543.3 978.4,543.4 980.9,543.4 983.4,543.5 985.9,543.6 988.4,543.7 990.9,543.8 993.4,543.9 995.9,544 998.4,544.1 1000.9,544.2 1003.4,544.3 1005.9,544.4 1008.4,544.5 1010.9,544.6 1013.4,544.7 1015.9,544.8 1018.4,544.9 1020.9,545 1023.4,545 1025.9,545.1 1028.4,545.2 1030.9,545.3 1033.4,545.4 1035.9,545.4 1038.4,545.5 1040.9,545.5 1043.4,545.6 1045.9,545.6 1048.4,545.7 1050.9,545.7 1053.4,545.7 1055.9,545.7 1058.4,545.7 1060.9,545.7 1063.4,545.7 1065.9,545.7 1068.4,545.7 1070.9,545.7 1073.4,545.7 1075.9,545.7 1078.4,545.7 1080.9,545.7 1083.4,545.7 1085.9,545.7 1088.4,545.7 1090.9,545.7 1093.4,545.7 1095.9,545.7 1098.4,545.7 1100.9,545.7 1103.4,545.7 1105.9,545.7 1108.4,545.7 1110.9,545.7 1113.4,545.7 1115.9,545.7 1118.4,545.7 1120.9,545.7 1123.4,545.7 1125.9,545.7 1128.4,545.7 1130.9,545.7 1133.4,545.7 1135.9,545.7 1138.4,545.7 1140.9,545.7 1143.4,545.7 1145.9,545.7 1148.4,545.7 1150.9,545.7 1153.4,545.7 1155.9,545.7 1158.4,545.7 1160.9,545.7 1163.4,545.7 1165.9,545.7 1168.4,545.6 1170.9,545.6 1173.4,545.6 1175.9,545.6 1178.4,545.6 1180.9,545.6 1183.4,545.5 1185.9,545.5 1188.4,545.5 1190.9,545.5 1193.4,545.4 1195.9,545.4 1198.4,545.4 1200.9,545.3 1203.4,545.3 1205.9,545.3 1208.4,545.2 1210.9,545.2 1213.4,545.2 1215.9,545.1 1218.4,545.1 1220.9,545 1223.4,545 1225.9,544.9 1228.4,544.9 1230.9,544.8 1233.4,544.7 1235.9,544.7 1238.4,544.6 1240.9,544.6 1243.4,544.5 1245.9,544.4 1248.4,544.3 1250.9,544.3 1253.4,544.2 1255.9,544.1 1258.4,543.7 1258.5,543.7"/>
</g>
<rect x="1258.5" y="426.1" width="257.9" height="223.6" fill="#fff" stroke="#000" stroke-width="3.5"/>
<path d="M1272.7 447.3H1350.5" stroke="#0000ff" stroke-width="4.3" fill="none"/>
<text class="t" x="1358.8" y="456.4">Earthquake</text>
<path d="M1272.7 483.3H1350.5" stroke="#ff0000" stroke-width="4" stroke-dasharray="12.2 3.4" fill="none"/>
<text class="t" x="1358.8" y="492.4">D Ratio=0</text>
<path d="M1272.7 519.3H1350.5" stroke="#00ff00" stroke-width="4" stroke-dasharray="12.2 3.4" fill="none"/>
<text class="t" x="1358.8" y="528.4">D Ratio=0.05</text>
<path d="M1272.7 555.3H1350.5" stroke="#ff8000" stroke-width="4" stroke-dasharray="12.2 3.4" fill="none"/>
<text class="t" x="1358.8" y="564.4">D Ratio=0.1</text>
<path d="M1272.7 591.3H1350.5" stroke="#00ffff" stroke-width="4" stroke-dasharray="12.2 3.4" fill="none"/>
<text class="t" x="1358.8" y="600.4">D Ratio=0.15</text>
<path d="M1272.7 627.3H1350.5" stroke="#ff00ff" stroke-width="4" stroke-dasharray="12.2 3.4" fill="none"/>
<text class="t" x="1358.8" y="636.4">D Ratio=0.2</text>
<g class="t" text-anchor="middle">
<text x="90.93" y="708.55">0</text>
<text x="233.7" y="708.55">5</text>
<text x="376.6" y="708.55">10</text>
<text x="521.5" y="708.55">15</text>
<text x="664.9" y="708.55">20</text>
<text x="809.6" y="708.55">25</text>
<text x="952.5" y="708.55">30</text>
<text x="1095.6" y="708.55">35</text>
<text x="1240.6" y="708.55">40</text>
<text x="1383.5" y="708.55">45</text>
<text x="1528.72" y="708.55">50</text>
</g>
<g class="t" text-anchor="end">
<text x="82.93" y="686.95">-0.4</text>
<text x="82.93" y="619">-0.2</text>
<text x="82.93" y="553.5">0</text>
<text x="82.93" y="485.8">0.2</text>
<text x="82.93" y="420.1">0.4</text>
</g>
</g>
<g id="chart3">
<g stroke="#000" stroke-width="4.0" stroke-dasharray="9.3 8.88" fill="none">
<path d="M233.7 1050.7V783.3"/>
<path d="M376.6 1050.7V783.3"/>
<path d="M521.5 1050.7V783.3"/>
<path d="M664.9 1050.7V783.3"/>
<path d="M809.6 1050.7V783.3"/>
<path d="M952.5 1050.7V783.3"/>
<path d="M1095.6 1050.7V783.3"/>
<path d="M1240.6 1050.7V783.3"/>
<path d="M1383.5 1050.7V783.3"/>
</g>
<g stroke="#000" stroke-width="3.6" stroke-dasharray="9.3 8.86" fill="none">
<path d="M90.93 982.5H1528.72"/>
<path d="M90.93 916.8H1528.72"/>
<path d="M90.93 848.85H1528.72"/>
</g>
<g stroke="#000" stroke-width="3.9" fill="none">
<path d="M233.7 1050.1v-14.4 M233.7 783.3v14.4"/>
<path d="M376.6 1050.1v-14.4 M376.6 783.3v14.4"/>
<path d="M521.5 1050.1v-14.4 M521.5 783.3v14.4"/>
<path d="M664.9 1050.1v-14.4 M664.9 783.3v14.4"/>
<path d="M809.6 1050.1v-14.4 M809.6 783.3v14.4"/>
<path d="M952.5 1050.1v-14.4 M952.5 783.3v14.4"/>
<path d="M1095.6 1050.1v-14.4 M1095.6 783.3v14.4"/>
<path d="M1240.6 1050.1v-14.4 M1240.6 783.3v14.4"/>
<path d="M1383.5 1050.1v-14.4 M1383.5 783.3v14.4"/>
</g>
<g stroke="#000" stroke-width="3.5" fill="none">
<path d="M90.93 982.5h14.4 M1528.72 982.5h-14.4"/>
<path d="M90.93 916.8h14.4 M1528.72 916.8h-14.4"/>
<path d="M90.93 848.85h14.4 M1528.72 848.85h-14.4"/>
</g>
<rect x="90.93" y="783.3" width="1437.79" height="266.8" fill="none" stroke="#000" stroke-width="3.75"/>
<g clip-path="url(#clip3)">
<polyline class="c" stroke="#0000ff" stroke-width="4.5" stroke-linejoin="round" stroke-linecap="butt" points="89.9,916.8 89.9,917.8 92.9,915.5 95.9,917 98.9,916.5 101.9,916.5 104.9,916.6 107.9,915.7 110.9,916.6 113.9,916.3 116.9,918.3 119.9,916.8 122.9,916.5 125.9,916.5 128.9,916.3 131.9,916.1 134.9,916.4 137.9,916.8 140.9,916.4 143.9,917 146.9,916.4 149.9,916.5 152.9,917.2 155.9,916.7 158.9,916.2 159.4,916.4 161.9,916.4 164.9,916.7 167.9,917.4 170.9,916.4 173.9,916.4 176.9,917 179.9,916.1 182.9,916.4 185.9,917 188.9,916.9 191.9,916.7 194.9,917 197.9,915.2 200.9,917.2 203.9,916.2 206.9,915.9 209.9,916.8 212.9,917.1 215.9,916.5 218.9,916.2 221.9,916.8 224.9,916.8 227.9,917.5 230.8,916.8 230.9,917.2 233.9,917.7 236.9,918.9 239.9,919 242.9,919.4 245.9,920.9 246.7,920.8 248.9,921.8 251.9,922.3 254.9,922.9 257.9,924.3 260.9,923.8 262.5,925.6 263.9,925.7 266.9,925.2 269.9,923.8 272.9,924.2 274.4,924 275.9,922.1 278.9,920.2 281.9,916 284.9,913.7 286.3,912.9 287.9,910.6 290.9,905.8 293.9,899.2 296.9,895 298.3,893 299.9,890.7 302.9,885.7 305.9,882.3 308.9,876.4 310.2,875.2 311.9,872.1 314.9,865.9 317.9,861.6 320.9,855.4 322.1,853.3 323.9,851.1 326.9,847.1 329.2,845.4 329.9,846.9 332.9,849.1 335.9,851.7 336,851.3 338.9,862.8 341.9,873.2 341.9,873.4 344.9,884.9 347.9,897 347.9,896.8 350.9,908.8 353.8,920.8 353.9,922.1 356.9,936.7 359.8,952.5 359.9,953.1 362.9,969.2 365.7,984.3 365.9,985.4 368.9,999.5 371.7,1012.1 371.9,1011.9 374.9,1017.7 377.6,1024 377.9,1024.2 380.9,1027.3 382.4,1027.9 383.9,1022.4 386.9,1010.6 387.5,1008.1 389.9,998.4 392.9,986.7 393.5,984.3 395.9,975.7 397.5,970.4 398.9,971.3 401.9,971.5 403.4,972.4 404.9,970.9 407.4,968.4 407.9,965.5 410.9,949.8 413.3,936.7 413.9,934.4 416.9,923.6 419.3,912.9 419.9,911.3 422.9,900.3 425.2,891 425.9,888.9 428.9,884.6 429.2,884.3 431.9,884.3 434.9,885.3 435.2,885.1 437.9,889.5 439.1,893 440.9,897.2 443.9,903.1 445.1,904.9 446.9,906.5 449.9,910.2 452.9,913.9 455,916.8 455.9,917.8 458.9,921.1 461.9,924.8 464.9,926.6 466.9,928.7 467.9,929.1 470.9,928.8 473.9,929.6 476.8,928.7 476.9,928.8 479.9,919.5 480.8,916 482.9,918.4 485.9,922.9 488.7,926.7 488.9,926.5 491.9,930.7 494.7,932.7 494.9,932.9 497.9,931.5 500.9,930.4 503.9,929.9 506.6,928.7 506.9,927.8 509.9,922.9 512.9,918.8 515.9,915 516.5,912.9 518.9,911.9 521.9,910.8 522.5,910.9 524.9,910.6 527.9,910.9 530.9,912.2 532.4,912.1 533.9,911.1 536.9,907.9 539.9,905.3 542.3,902.9 542.9,902.1 545.9,897.9 548.9,892.9 551.9,889.2 552.2,889 554.9,887.8 557.9,885.8 560.9,884.5 563.9,882.8 564.1,883.1 566.9,881.3 569.9,880.2 572.9,877.9 575.9,876.3 576,876.3 578.9,876.8 581.9,876.7 584.9,877.2 587.9,875.3 587.9,876.3 590.9,877.4 593.9,877.3 595.9,877.9 596.9,878 599.9,878.4 602.9,878.5 603.8,877.9 605.9,880.1 608.9,881.9 611.9,885 614.9,886.3 615.7,887.1 617.9,887.7 620.9,889.2 623.9,889.5 626.9,891.9 627.6,891 629.9,892.1 632.9,893.4 635.9,893 638.9,893.5 639.5,893.8 641.9,894.3 644.9,895 647.9,894.8 650.9,895.7 653.9,896 655.4,896.2 656.9,897.5 659.9,897.4 660,897.8 662.9,899.6 665.9,900.1 668.9,901.3 671.9,902.8 674.9,903.9 675.9,904.9 677.9,906.3 680.9,908.6 683.9,910 686.9,912.1 689.9,914.5 691.7,914.8 692.9,915.6 695.9,917 698.9,918.3 701.9,919.1 704.9,921.8 707.6,922.8 707.9,922.1 710.9,925.3 713.9,927 716.9,929.5 719.5,930.7 719.9,930.7 722.9,930.8 725.9,931.8 728.9,931.7 731.9,932.4 734.9,932.9 737.9,933.2 739.4,933.5 740.9,933.5 743.9,933.4 746.9,934 749.9,933.2 752.9,934.4 755.2,934.7 755.9,934 758.9,934.9 761.9,934.8 764.9,932.9 767.9,933.7 770.9,933.3 773.9,932.6 776.9,933.1 779,932.7 779.9,932.5 782.9,932 785.9,932.8 788.9,933 791.9,933.3 794.9,932.7 797.9,933.8 798.9,933.5 800.9,933.9 803.9,932.9 806.9,933.2 809.9,933.5 812.9,933.2 814.8,933.5 815.9,933.9 818.9,931.8 821.9,929.8 824.9,928.6 827.9,927.7 830.9,927.5 833.9,925 834.6,924.8 836.9,923.7 839.9,922.4 842.9,920.6 845.9,920.2 848.9,917.3 851.9,916.5 854.4,914.8 854.9,914.7 857.9,913.8 860.9,911.7 863.9,911.9 866.9,909.8 869.9,908.7 872.9,907 874.3,906.9 875.9,906 878.9,905.6 881.9,904.9 884.9,903.7 887.9,903 890.9,901.7 893.9,900.4 896.9,899.8 898.1,899 899.9,898.8 902.9,897.7 905.9,897.3 908.9,896.8 911.9,895.5 914.9,894.4 917.9,894.2 917.9,893.8 920.9,894 923.9,892.2 926.9,891.5 929.9,890.7 932.9,890.7 933.8,889.8 935.9,888.9 938.9,890 941.9,890.4 944.9,889.4 947.9,890.6 950.9,890.1 953.9,889.6 956.9,889.9 959.9,889.1 961.6,889.8 962.9,889.8 965.9,891.6 968.9,890.9 971.9,892.8 974.9,892.5 977.5,893 977.9,893.5 980.9,892.9 983.9,891.6 986.9,892.4 989.9,892.6 992.9,891.8 995.9,891.6 997.3,892.2 998.9,892.2 1001.9,891.4 1004.9,890.6 1007.9,890.8 1009.2,891 1010.9,891.6 1013.9,891.1 1016.9,892.1 1019.9,892.6 1022.9,892.1 1025.1,892.2 1025.9,892 1028.9,893.2 1031.9,895.1 1034.9,896.8 1037.9,897.8 1040.9,899.2 1041,899 1043.9,899.2 1046.9,900.1 1049.9,900.2 1052.9,900.8 1055.9,900.8 1058.9,901.2 1061.9,902.2 1064.8,902.9 1064.9,902.4 1067.9,902.7 1070.9,903.7 1073.9,903.5 1076.9,905.2 1079.9,904.3 1082.9,903.8 1085.9,904.6 1088.9,904.6 1091.9,904.3 1094.9,905.4 1096.5,904.9 1097.9,904.6 1100.9,903.6 1103.9,905.7 1106.9,905.1 1109.9,906.3 1112.9,905.4 1115.9,905.3 1118.9,906.8 1121.9,905.7 1124.9,906.4 1127.9,907.2 1130.9,906.7 1133.9,906.8 1136.2,906.9 1136.9,907 1139.9,907.5 1142.9,906.8 1145.9,907.7 1148.9,907.8 1151.9,908.9 1154.9,907.7 1157.9,907.5 1160,908.1 1160.9,908.5 1163.9,908 1166.9,908.5 1169.9,908.5 1172.9,909.1 1175.9,908.3 1178.9,908.7 1181.9,907.5 1183.8,908.9 1184.9,908.3 1187.9,909.1 1190.9,907.6 1193.9,907.2 1196.9,906.5 1199.9,907 1202.9,906.4 1205.9,905.3 1207.6,905.7 1208.9,905.9 1211.9,905.2 1214.9,905 1217.9,903.8 1220.9,904.6 1223.9,903.5 1226.9,902.8 1229.9,902.1 1231.4,902.1 1232.9,901.8 1235.9,902 1238.9,901 1241.9,901.3 1244.9,900.6 1247.9,900.6 1250.9,900 1253.9,899.1 1255.2,899 1258.5,899"/>
<polyline class="c" stroke="#ff0000" stroke-width="4.4" stroke-linejoin="round" stroke-linecap="butt" stroke-dasharray="13.3 2.5" points="90.9,916.8 93.4,916.8 95.9,916.8 98.4,916.8 100.9,916.8 103.4,916.8 105.9,916.8 108.4,916.8 110.9,916.8 113.4,916.8 115.9,916.8 118.4,916.8 120.9,916.8 123.4,916.8 125.9,916.8 128.4,916.8 130.9,916.8 133.4,916.8 135.9,916.8 138.4,916.8 140.9,916.8 143.4,916.8 145.9,916.8 148.4,916.8 150.9,916.8 153.4,916.8 155.9,916.8 158.4,916.8 160.9,916.8 163.4,916.8 165.9,916.8 168.4,916.8 170.9,916.8 173.4,916.8 175.9,916.8 178.4,916.8 180.9,916.8 183.4,916.8 185.9,916.8 188.4,916.8 190.9,916.8 193.4,916.8 195.9,916.8 198.4,916.8 200.9,916.8 203.4,916.8 205.9,916.8 208.4,916.8 210.9,916.8 213.4,916.8 215.9,916.8 218.4,916.8 220.9,916.8 223.4,916.8 225.9,916.8 228.4,916.8 230.9,916.8 233.4,916.8 235.9,916.8 238.4,916.8 240.9,916.8 243.4,916.8 245.9,916.8 248.4,916.8 250.9,916.8 253.4,916.8 255.9,916.8 258.4,916.8 260.9,916.8 263.4,916.8 265.9,916.8 268.4,916.8 270.9,916.8 273.4,916.8 275.9,916.8 278.4,916.8 280.9,916.8 283.4,916.8 285.9,916.8 288.4,916.8 290.9,916.8 293.4,916.8 295.9,916.8 298.4,916.8 300.9,916.8 303.4,916.8 305.9,916.8 308.4,916.8 310.9,916.8 313.4,916.7 315.9,916.6 318.4,916.3 320.9,916 323.4,915.7 325.9,915.4 328.4,915 330.9,914.7 333.4,914.4 335.9,914.1 338.4,913.7 340.9,913.3 343.4,912.9 345.9,912.6 348.4,912.2 350.9,911.9 353.4,911.6 355.9,911.3 358.4,910.9 360.9,910.6 363.4,910.3 365.9,910.1 368.4,909.9 370.9,909.7 373.4,909.7 375.9,909.8 378.4,910 380.9,910.4 383.4,910.9 385.9,911.6 388.4,912.2 390.9,913 393.4,913.7 395.9,914.4 398.4,915.1 400.9,915.9 403.4,916.7 405.9,917.6 408.4,918.5 410.9,919.5 413.4,920.5 415.9,921.5 418.4,922.5 420.9,923.5 423.4,924.5 425.9,925.5 428.4,926.5 430.9,927.4 433.4,928.3 435.9,929.2 438.4,930 440.9,930.9 443.4,931.8 445.9,932.7 448.4,933.5 450.9,934.4 453.4,935.3 455.9,936.1 458.4,937 460.9,937.9 463.4,938.7 465.9,939.6 468.4,940.5 470.9,941.4 473.4,942.2 475.9,943.1 478.4,944 480.9,944.9 483.4,945.8 485.9,946.7 488.4,947.6 490.9,948.5 493.4,949.3 495.9,950.2 498.4,951.1 500.9,952 503.4,952.8 505.9,953.6 508.4,954.5 510.9,955.3 513.4,956.2 515.9,957.1 518.4,957.9 520.9,958.8 523.4,959.7 525.9,960.5 528.4,961.3 530.9,962.1 533.4,962.8 535.9,963.5 538.4,964.1 540.9,964.6 543.4,965.1 545.9,965.6 548.4,966.1 550.9,966.5 553.4,967 555.9,967.4 558.4,967.7 560.9,968 563.4,968.2 565.9,968.4 568.4,968.4 570.9,968.4 573.4,968.4 575.9,968.4 578.4,968.4 580.9,968.4 583.4,968.4 585.9,968.4 588.4,968.4 590.9,968.4 593.4,968.4 595.9,968 598.4,967.5 600.9,966.7 603.4,965.8 605.9,964.8 608.4,963.8 610.9,962.8 613.4,961.8 615.9,960.6 618.4,959.3 620.9,957.9 623.4,956.4 625.9,954.8 628.4,953.2 630.9,951.6 633.4,950 635.9,948.5 638.4,947.1 640.9,945.8 643.4,944.6 645.9,943.6 648.4,942.8 650.9,941.9 653.4,941.1 655.9,940.3 658.4,939.3 660.9,938.2 663.4,936.9 665.9,935.3 668.4,933.7 670.9,931.9 673.4,930.1 675.9,928.2 678.4,926.4 680.9,924.7 683.4,923 685.9,921.5 688.4,919.9 690.9,918.4 693.4,916.9 695.9,915.5 698.4,914 700.9,912.6 703.4,911.2 705.9,909.8 708.4,908.5 710.9,907.1 713.4,905.8 715.9,904.6 718.4,903.3 720.9,902.1 723.4,900.9 725.9,899.7 728.4,898.4 730.9,897.2 733.4,896 735.9,894.8 738.4,893.5 740.9,892.2 743.4,890.9 745.9,889.5 748.4,888.1 750.9,886.8 753.4,885.4 755.9,884 758.4,882.6 760.9,881.3 763.4,880 765.9,878.7 768.4,877.6 770.9,876.4 773.4,875.4 775.9,874.3 778.4,873.3 780.9,872.3 783.4,871.3 785.9,870.4 788.4,869.5 790.9,868.6 793.4,867.7 795.9,866.8 798.4,866 800.9,865.2 803.4,864.3 805.9,863.5 808.4,862.7 810.9,861.9 813.4,861.1 815.9,860.3 818.4,859.5 820.9,858.7 823.4,858 825.9,857.3 828.4,856.7 830.9,856.1 833.4,855.5 835.9,855.1 838.4,854.6 840.9,854.2 843.4,853.8 845.9,853.5 848.4,853.1 850.9,852.8 853.4,852.5 855.9,852.3 858.4,852.1 860.9,852 863.4,851.8 865.9,851.7 868.4,851.6 870.9,851.5 873.4,851.3 875.9,851.2 878.4,851.2 880.9,851.1 883.4,851 885.9,851 888.4,851 890.9,851 893.4,851 895.9,851 898.4,851.1 900.9,851.1 903.4,851.2 905.9,851.3 908.4,851.4 910.9,851.5 913.4,851.6 915.9,851.7 918.4,851.8 920.9,851.9 923.4,852 925.9,852.2 928.4,852.4 930.9,852.5 933.4,852.7 935.9,853 938.4,853.2 940.9,853.4 943.4,853.6 945.9,853.8 948.4,854.1 950.9,854.3 953.4,854.5 955.9,854.7 958.4,854.9 960.9,855.1 963.4,855.3 965.9,855.6 968.4,855.8 970.9,856 973.4,856.2 975.9,856.4 978.4,856.6 980.9,856.9 983.4,857.1 985.9,857.3 988.4,857.6 990.9,857.8 993.4,858.1 995.9,858.3 998.4,858.6 1000.9,858.9 1003.4,859.2 1005.9,859.5 1008.4,859.8 1010.9,860.1 1013.4,860.4 1015.9,860.8 1018.4,861.1 1020.9,861.4 1023.4,861.8 1025.9,862.1 1028.4,862.5 1030.9,862.8 1033.4,863.2 1035.9,863.5 1038.4,863.8 1040.9,864.2 1043.4,864.5 1045.9,864.9 1048.4,865.2 1050.9,865.6 1053.4,865.9 1055.9,866.3 1058.4,866.6 1060.9,867 1063.4,867.3 1065.9,867.7 1068.4,868 1070.9,868.4 1073.4,868.7 1075.9,869.1 1078.4,869.5 1080.9,869.8 1083.4,870.2 1085.9,870.6 1088.4,870.9 1090.9,871.3 1093.4,871.7 1095.9,872 1098.4,872.4 1100.9,872.8 1103.4,873.2 1105.9,873.5 1108.4,873.9 1110.9,874.3 1113.4,874.7 1115.9,875.1 1118.4,875.5 1120.9,875.9 1123.4,876.3 1125.9,876.7 1128.4,877.1 1130.9,877.6 1133.4,878 1135.9,878.4 1138.4,878.8 1140.9,879.3 1143.4,879.7 1145.9,880.1 1148.4,880.6 1150.9,881 1153.4,881.4 1155.9,881.9 1158.4,882.3 1160.9,882.8 1163.4,883.2 1165.9,883.7 1168.4,884.1 1170.9,884.6 1173.4,885 1175.9,885.5 1178.4,886 1180.9,886.4 1183.4,886.9 1185.9,887.3 1188.4,887.8 1190.9,888.2 1193.4,888.7 1195.9,889.1 1198.4,889.5 1200.9,889.9 1203.4,890.3 1205.9,890.7 1208.4,891.1 1210.9,891.5 1213.4,891.9 1215.9,892.3 1218.4,892.7 1220.9,893.1 1223.4,893.6 1225.9,894 1228.4,894.4 1230.9,894.9 1233.4,895.4 1235.9,895.8 1238.4,896.3 1240.9,896.7 1243.4,897.2 1245.9,897.7 1248.4,898.3 1250.9,898.9 1253.4,899.6 1255.9,900.4 1258.4,901.7 1258.5,901.7"/>
<polyline class="c" stroke="#00ff00" stroke-width="4.4" stroke-linejoin="round" stroke-linecap="butt" stroke-dasharray="13.3 2.5" points="90.9,916.8 93.4,916.8 95.9,916.8 98.4,916.8 100.9,916.8 103.4,916.8 105.9,916.8 108.4,916.8 110.9,916.8 113.4,916.8 115.9,916.8 118.4,916.8 120.9,916.8 123.4,916.8 125.9,916.8 128.4,916.8 130.9,916.8 133.4,916.8 135.9,916.8 138.4,916.8 140.9,916.8 143.4,916.8 145.9,916.8 148.4,916.8 150.9,916.8 153.4,916.8 155.9,916.8 158.4,916.8 160.9,916.8 163.4,916.8 165.9,916.8 168.4,916.8 170.9,916.8 173.4,916.8 175.9,916.8 178.4,916.8 180.9,916.8 183.4,916.8 185.9,916.8 188.4,916.8 190.9,916.8 193.4,916.8 195.9,916.8 198.4,916.8 200.9,916.8 203.4,916.8 205.9,916.8 208.4,916.8 210.9,916.8 213.4,916.8 215.9,916.8 218.4,916.8 220.9,916.8 223.4,916.8 225.9,916.8 228.4,916.8 230.9,916.8 233.4,916.8 235.9,916.8 238.4,916.8 240.9,916.8 243.4,916.8 245.9,916.8 248.4,916.8 250.9,916.8 253.4,916.8 255.9,916.8 258.4,916.8 260.9,916.8 263.4,916.8 265.9,916.8 268.4,916.8 270.9,916.8 273.4,916.8 275.9,916.8 278.4,916.8 280.9,916.8 283.4,916.8 285.9,916.8 288.4,916.8 290.9,916.8 293.4,916.8 295.9,916.8 298.4,916.8 300.9,916.8 303.4,916.8 305.9,916.3 308.4,915.4 310.9,914.3 313.4,913 315.9,911.8 318.4,910.7 320.9,909.7 323.4,908.5 325.9,907.4 328.4,906.3 330.9,905.2 333.4,904.3 335.9,903.5 338.4,902.6 340.9,901.8 343.4,901.1 345.9,900.5 348.4,900.2 350.9,900.2 353.4,900.5 355.9,901.1 358.4,901.9 360.9,902.9 363.4,903.9 365.9,905 368.4,906.5 370.9,908.4 373.4,910.8 375.9,913.4 378.4,916.1 380.9,918.9 383.4,921.5 385.9,923.9 388.4,926 390.9,927.7 393.4,929.3 395.9,930.9 398.4,932.5 400.9,933.9 403.4,935.3 405.9,936.4 408.4,937.4 410.9,938.2 413.4,938.7 415.9,939 418.4,939.3 420.9,939.5 423.4,939.7 425.9,939.8 428.4,940 430.9,940.2 433.4,940.3 435.9,940.5 438.4,940.8 440.9,941 443.4,941.2 445.9,941.4 448.4,941.6 450.9,941.9 453.4,942.1 455.9,942.3 458.4,942.5 460.9,942.8 463.4,943 465.9,943.3 468.4,943.6 470.9,943.9 473.4,944.2 475.9,944.5 478.4,944.8 480.9,945.3 483.4,945.7 485.9,946.3 488.4,946.8 490.9,947.4 493.4,948 495.9,948.7 498.4,949.3 500.9,949.9 503.4,950.5 505.9,951 508.4,951.5 510.9,951.9 513.4,952.2 515.9,952.5 518.4,952.7 520.9,952.9 523.4,953 525.9,953.2 528.4,953.4 530.9,953.5 533.4,953.6 535.9,953.7 538.4,953.7 540.9,953.7 543.4,953.6 545.9,953.5 548.4,953.2 550.9,952.9 553.4,952.5 555.9,952 558.4,951.5 560.9,951 563.4,950.5 565.9,949.9 568.4,949.4 570.9,948.8 573.4,948.3 575.9,947.7 578.4,947.1 580.9,946.4 583.4,945.7 585.9,944.9 588.4,944.2 590.9,943.4 593.4,942.6 595.9,941.8 598.4,940.9 600.9,940.1 603.4,939.3 605.9,938.5 608.4,937.7 610.9,936.9 613.4,936.2 615.9,935.4 618.4,934.6 620.9,933.8 623.4,933.1 625.9,932.3 628.4,931.5 630.9,930.7 633.4,929.9 635.9,929.1 638.4,928.4 640.9,927.7 643.4,926.9 645.9,926.2 648.4,925.5 650.9,924.9 653.4,924.3 655.9,923.7 658.4,923.1 660.9,922.5 663.4,921.8 665.9,921 668.4,920.2 670.9,919.5 673.4,919 675.9,918.8 678.4,918.8 680.9,918.8 683.4,918.8 685.9,918.9 688.4,918.9 690.9,918.9 693.4,919 695.9,919 698.4,919.1 700.9,919.1 703.4,919.2 705.9,919.2 708.4,919.3 710.9,919.4 713.4,919.4 715.9,919.5 718.4,919.6 720.9,919.6 723.4,919.7 725.9,919.8 728.4,919.9 730.9,920 733.4,920.2 735.9,920.3 738.4,920.5 740.9,920.6 743.4,920.8 745.9,920.9 748.4,921.1 750.9,921.3 753.4,921.4 755.9,921.6 758.4,921.7 760.9,921.9 763.4,922 765.9,922.2 768.4,922.3 770.9,922.4 773.4,922.6 775.9,922.7 778.4,922.8 780.9,922.8 783.4,922.9 785.9,923 788.4,923.1 790.9,923.2 793.4,923.2 795.9,923.3 798.4,923.4 800.9,923.5 803.4,923.5 805.9,923.6 808.4,923.7 810.9,923.7 813.4,923.8 815.9,923.8 818.4,923.9 820.9,923.9 823.4,923.9 825.9,924 828.4,924 830.9,924 833.4,924 835.9,923.9 838.4,923.9 840.9,923.8 843.4,923.7 845.9,923.7 848.4,923.5 850.9,923.4 853.4,923.3 855.9,923.2 858.4,923 860.9,922.9 863.4,922.7 865.9,922.5 868.4,922.3 870.9,922.2 873.4,922 875.9,921.8 878.4,921.6 880.9,921.3 883.4,921.1 885.9,920.8 888.4,920.4 890.9,920 893.4,919.6 895.9,919.2 898.4,918.7 900.9,918.2 903.4,917.7 905.9,917.2 908.4,916.7 910.9,916.2 913.4,915.7 915.9,915.2 918.4,914.7 920.9,914.2 923.4,913.7 925.9,913.1 928.4,912.5 930.9,911.9 933.4,911.3 935.9,910.7 938.4,910.1 940.9,909.5 943.4,908.9 945.9,908.3 948.4,907.8 950.9,907.4 953.4,906.9 955.9,906.6 958.4,906.2 960.9,905.8 963.4,905.4 965.9,905.1 968.4,904.8 970.9,904.4 973.4,904.1 975.9,903.8 978.4,903.5 980.9,903.2 983.4,903 985.9,902.7 988.4,902.5 990.9,902.2 993.4,902 995.9,901.8 998.4,901.7 1000.9,901.5 1003.4,901.4 1005.9,901.2 1008.4,901.1 1010.9,900.9 1013.4,900.8 1015.9,900.7 1018.4,900.6 1020.9,900.5 1023.4,900.4 1025.9,900.3 1028.4,900.2 1030.9,900 1033.4,899.9 1035.9,899.8 1038.4,899.7 1040.9,899.6 1043.4,899.4 1045.9,899.3 1048.4,899.1 1050.9,899 1053.4,898.8 1055.9,898.7 1058.4,898.5 1060.9,898.4 1063.4,898.2 1065.9,898.1 1068.4,898 1070.9,897.9 1073.4,897.8 1075.9,897.8 1078.4,897.7 1080.9,897.7 1083.4,897.7 1085.9,897.6 1088.4,897.6 1090.9,897.6 1093.4,897.5 1095.9,897.5 1098.4,897.5 1100.9,897.5 1103.4,897.4 1105.9,897.4 1108.4,897.4 1110.9,897.4 1113.4,897.4 1115.9,897.4 1118.4,897.4 1120.9,897.4 1123.4,897.4 1125.9,897.4 1128.4,897.4 1130.9,897.5 1133.4,897.5 1135.9,897.5 1138.4,897.6 1140.9,897.6 1143.4,897.6 1145.9,897.7 1148.4,897.7 1150.9,897.8 1153.4,897.8 1155.9,897.9 1158.4,897.9 1160.9,898 1163.4,898 1165.9,898 1168.4,898.1 1170.9,898.1 1173.4,898.1 1175.9,898.2 1178.4,898.2 1180.9,898.2 1183.4,898.3 1185.9,898.3 1188.4,898.3 1190.9,898.3 1193.4,898.3 1195.9,898.3 1198.4,898.4 1200.9,898.4 1203.4,898.4 1205.9,898.4 1208.4,898.4 1210.9,898.4 1213.4,898.4 1215.9,898.5 1218.4,898.5 1220.9,898.5 1223.4,898.5 1225.9,898.5 1228.4,898.6 1230.9,898.6 1233.4,898.6 1235.9,898.6 1238.4,898.7 1240.9,898.7 1243.4,898.7 1245.9,898.8 1248.4,898.8 1250.9,898.9 1253.4,898.9 1255.9,899 1258.4,899.2 1258.5,899.2"/>
<polyline class="c" stroke="#ff8000" stroke-width="4.4" stroke-linejoin="round" stroke-linecap="butt" stroke-dasharray="13.3 2.5" points="90.9,916.8 93.4,916.8 95.9,916.8 98.4,916.8 100.9,916.8 103.4,916.8 105.9,916.8 108.4,916.8 110.9,916.8 113.4,916.8 115.9,916.8 118.4,916.8 120.9,916.8 123.4,916.8 125.9,916.8 128.4,916.8 130.9,916.8 133.4,916.8 135.9,916.8 138.4,916.8 140.9,916.8 143.4,916.8 145.9,916.8 148.4,916.8 150.9,916.8 153.4,916.8 155.9,916.8 158.4,916.8 160.9,916.8 163.4,916.8 165.9,916.8 168.4,916.8 170.9,916.8 173.4,916.8 175.9,916.8 178.4,916.8 180.9,916.8 183.4,916.8 185.9,916.8 188.4,916.8 190.9,916.8 193.4,916.8 195.9,916.8 198.4,916.8 200.9,916.8 203.4,916.8 205.9,916.8 208.4,916.8 210.9,916.8 213.4,916.8 215.9,916.8 218.4,916.8 220.9,916.8 223.4,916.8 225.9,916.8 228.4,916.8 230.9,916.8 233.4,916.8 235.9,916.8 238.4,916.8 240.9,916.8 243.4,916.8 245.9,916.8 248.4,916.8 250.9,916.8 253.4,916.8 255.9,916.8 258.4,916.8 260.9,916.8 263.4,916.8 265.9,916.8 268.4,916.8 270.9,916.8 273.4,916.8 275.9,916.8 278.4,916.8 280.9,916.8 283.4,916.8 285.9,916.8 288.4,916.8 290.9,916.8 293.4,916.8 295.9,916.7 298.4,916 300.9,914.9 303.4,913.6 305.9,912.1 308.4,910.6 310.9,909.3 313.4,908 315.9,906.6 318.4,905.2 320.9,903.8 323.4,902.4 325.9,901 328.4,899.6 330.9,898 333.4,896.3 335.9,894.7 338.4,893.3 340.9,892.1 343.4,891.3 345.9,891 348.4,891.3 350.9,891.9 353.4,892.9 355.9,894.1 358.4,895.4 360.9,897.5 363.4,900.5 365.9,903.8 368.4,907.3 370.9,910.5 373.4,913.8 375.9,917.2 378.4,920.6 380.9,923.9 383.4,927.1 385.9,930.3 388.4,933.4 390.9,936.2 393.4,938.6 395.9,940.7 398.4,942.6 400.9,944.4 403.4,945.8 405.9,946.8 408.4,947.6 410.9,948.4 413.4,949 415.9,949.3 418.4,949.3 420.9,948.6 423.4,947.5 425.9,946.1 428.4,944.7 430.9,943.4 433.4,942.5 435.9,941.8 438.4,941.1 440.9,940.5 443.4,939.9 445.9,939.4 448.4,939 450.9,938.7 453.4,938.7 455.9,938.7 458.4,938.8 460.9,938.9 463.4,939.1 465.9,939.3 468.4,939.6 470.9,939.9 473.4,940.2 475.9,940.5 478.4,940.8 480.9,941.1 483.4,941.4 485.9,941.7 488.4,941.9 490.9,942.2 493.4,942.4 495.9,942.6 498.4,942.7 500.9,942.9 503.4,943 505.9,943.2 508.4,943.3 510.9,943.4 513.4,943.5 515.9,943.6 518.4,943.7 520.9,943.8 523.4,943.8 525.9,943.8 528.4,943.6 530.9,943.4 533.4,943 535.9,942.5 538.4,941.9 540.9,941.3 543.4,940.6 545.9,939.8 548.4,939.1 550.9,938.3 553.4,937.5 555.9,936.7 558.4,935.9 560.9,935 563.4,934 565.9,932.9 568.4,931.7 570.9,930.5 573.4,929.3 575.9,928.1 578.4,926.9 580.9,925.7 583.4,924.6 585.9,923.5 588.4,922.6 590.9,921.7 593.4,920.7 595.9,919.8 598.4,918.9 600.9,918 603.4,917.1 605.9,916.3 608.4,915.5 610.9,914.8 613.4,914.1 615.9,913.5 618.4,913.1 620.9,912.7 623.4,912.3 625.9,911.9 628.4,911.6 630.9,911.2 633.4,910.9 635.9,910.6 638.4,910.4 640.9,910.1 643.4,910 645.9,909.8 648.4,909.7 650.9,909.7 653.4,909.7 655.9,909.7 658.4,909.7 660.9,909.7 663.4,909.8 665.9,909.9 668.4,910.1 670.9,910.3 673.4,910.6 675.9,911 678.4,911.3 680.9,911.7 683.4,912 685.9,912.4 688.4,912.8 690.9,913.4 693.4,913.9 695.9,914.5 698.4,915.2 700.9,915.9 703.4,916.5 705.9,917.2 708.4,917.8 710.9,918.5 713.4,919.2 715.9,919.9 718.4,920.7 720.9,921.4 723.4,922.2 725.9,923 728.4,923.7 730.9,924.5 733.4,925.2 735.9,925.9 738.4,926.5 740.9,927.1 743.4,927.7 745.9,928.3 748.4,928.9 750.9,929.5 753.4,930.1 755.9,930.7 758.4,931.2 760.9,931.7 763.4,932.2 765.9,932.7 768.4,933.1 770.9,933.5 773.4,933.8 775.9,934.2 778.4,934.6 780.9,935 783.4,935.3 785.9,935.7 788.4,936.1 790.9,936.4 793.4,936.8 795.9,937.1 798.4,937.4 800.9,937.6 803.4,937.9 805.9,938.1 808.4,938.3 810.9,938.4 813.4,938.6 815.9,938.6 818.4,938.7 820.9,938.6 823.4,938.6 825.9,938.5 828.4,938.4 830.9,938.3 833.4,938.1 835.9,937.9 838.4,937.7 840.9,937.5 843.4,937.3 845.9,937.1 848.4,936.8 850.9,936.6 853.4,936.4 855.9,936.1 858.4,935.8 860.9,935.5 863.4,935.1 865.9,934.7 868.4,934.4 870.9,933.9 873.4,933.5 875.9,933.1 878.4,932.6 880.9,932.1 883.4,931.7 885.9,931.2 888.4,930.6 890.9,930 893.4,929.4 895.9,928.7 898.4,928 900.9,927.3 903.4,926.6 905.9,925.9 908.4,925.2 910.9,924.6 913.4,923.9 915.9,923.3 918.4,922.7 920.9,922.1 923.4,921.5 925.9,920.9 928.4,920.3 930.9,919.7 933.4,919.1 935.9,918.6 938.4,918 940.9,917.5 943.4,916.9 945.9,916.4 948.4,915.9 950.9,915.4 953.4,914.9 955.9,914.4 958.4,913.9 960.9,913.4 963.4,913 965.9,912.5 968.4,912 970.9,911.6 973.4,911.1 975.9,910.7 978.4,910.3 980.9,909.9 983.4,909.6 985.9,909.3 988.4,909 990.9,908.7 993.4,908.5 995.9,908.2 998.4,908 1000.9,907.8 1003.4,907.5 1005.9,907.3 1008.4,907.2 1010.9,907.1 1013.4,907 1015.9,906.9 1018.4,906.9 1020.9,906.9 1023.4,906.9 1025.9,906.9 1028.4,906.9 1030.9,906.9 1033.4,906.9 1035.9,906.9 1038.4,906.9 1040.9,906.9 1043.4,906.9 1045.9,906.9 1048.4,906.9 1050.9,906.9 1053.4,906.9 1055.9,906.9 1058.4,906.9 1060.9,906.9 1063.4,906.9 1065.9,906.9 1068.4,906.9 1070.9,906.9 1073.4,906.9 1075.9,906.9 1078.4,906.9 1080.9,906.9 1083.4,907 1085.9,907 1088.4,907 1090.9,907.1 1093.4,907.2 1095.9,907.3 1098.4,907.3 1100.9,907.4 1103.4,907.5 1105.9,907.6 1108.4,907.7 1110.9,907.8 1113.4,908 1115.9,908.1 1118.4,908.2 1120.9,908.3 1123.4,908.4 1125.9,908.5 1128.4,908.6 1130.9,908.7 1133.4,908.8 1135.9,908.9 1138.4,909 1140.9,909.1 1143.4,909.2 1145.9,909.3 1148.4,909.4 1150.9,909.5 1153.4,909.6 1155.9,909.7 1158.4,909.8 1160.9,909.9 1163.4,910 1165.9,910.1 1168.4,910.2 1170.9,910.3 1173.4,910.4 1175.9,910.5 1178.4,910.6 1180.9,910.7 1183.4,910.7 1185.9,910.8 1188.4,910.8 1190.9,910.8 1193.4,910.9 1195.9,910.9 1198.4,910.9 1200.9,910.9 1203.4,910.9 1205.9,910.8 1208.4,910.8 1210.9,910.8 1213.4,910.8 1215.9,910.7 1218.4,910.7 1220.9,910.7 1223.4,910.6 1225.9,910.6 1228.4,910.5 1230.9,910.5 1233.4,910.4 1235.9,910.4 1238.4,910.3 1240.9,910.2 1243.4,910.1 1245.9,910 1248.4,910 1250.9,909.9 1253.4,909.8 1255.9,909.6 1258.4,909.3 1258.5,909.3"/>
<polyline class="c" stroke="#00ffff" stroke-width="4.4" stroke-linejoin="round" stroke-linecap="butt" stroke-dasharray="13.3 2.5" points="90.9,916.8 93.4,916.8 95.9,916.8 98.4,916.8 100.9,916.8 103.4,916.8 105.9,916.8 108.4,916.8 110.9,916.8 113.4,916.8 115.9,916.8 118.4,916.8 120.9,916.8 123.4,916.8 125.9,916.8 128.4,916.8 130.9,916.8 133.4,916.8 135.9,916.8 138.4,916.8 140.9,916.8 143.4,916.8 145.9,916.8 148.4,916.8 150.9,916.8 153.4,916.8 155.9,916.8 158.4,916.8 160.9,916.8 163.4,916.8 165.9,916.8 168.4,916.8 170.9,916.8 173.4,916.8 175.9,916.8 178.4,916.8 180.9,916.8 183.4,916.8 185.9,916.8 188.4,916.8 190.9,916.8 193.4,916.8 195.9,916.8 198.4,916.8 200.9,916.8 203.4,916.8 205.9,916.8 208.4,916.8 210.9,916.8 213.4,916.8 215.9,916.8 218.4,916.8 220.9,916.8 223.4,916.8 225.9,916.8 228.4,916.8 230.9,916.8 233.4,916.8 235.9,916.8 238.4,916.8 240.9,916.8 243.4,916.8 245.9,916.8 248.4,916.8 250.9,916.8 253.4,916.8 255.9,916.8 258.4,916.8 260.9,916.8 263.4,916.8 265.9,916.9 268.4,916.9 270.9,917 273.4,917.2 275.9,917.3 278.4,917.4 280.9,917.5 283.4,917.6 285.9,917.6 288.4,917.5 290.9,917.1 293.4,916.4 295.9,915.5 298.4,914.5 300.9,913.4 303.4,912.3 305.9,910.8 308.4,909 310.9,906.9 313.4,904.8 315.9,902.7 318.4,900.7 320.9,898.6 323.4,896.4 325.9,894.2 328.4,892.1 330.9,890.1 333.4,888.5 335.9,887.2 338.4,885.9 340.9,884.8 343.4,884.3 345.9,884.5 348.4,885.3 350.9,886.5 353.4,888 355.9,890.2 358.4,893.7 360.9,898.1 363.4,902.8 365.9,907.3 368.4,911.7 370.9,916.5 373.4,921.2 375.9,925.8 378.4,930.1 380.9,934.2 383.4,938.3 385.9,942.1 388.4,945.4 390.9,948.1 393.4,950.5 395.9,952.5 398.4,953.7 400.9,954.7 403.4,955.6 405.9,956.2 408.4,956.5 410.9,956.3 413.4,955.1 415.9,953.1 418.4,950.7 420.9,948.2 423.4,945.9 425.9,944.1 428.4,942.4 430.9,940.5 433.4,938.7 435.9,936.9 438.4,935.4 440.9,934.3 443.4,933.6 445.9,933.5 448.4,933.5 450.9,933.5 453.4,933.5 455.9,933.5 458.4,933.5 460.9,933.5 463.4,933.5 465.9,933.5 468.4,933.5 470.9,933.5 473.4,933.5 475.9,933.5 478.4,933.5 480.9,933.6 483.4,933.8 485.9,934 488.4,934.3 490.9,934.6 493.4,934.9 495.9,935.2 498.4,935.6 500.9,935.9 503.4,936.2 505.9,936.4 508.4,936.6 510.9,936.6 513.4,936.7 515.9,936.5 518.4,936.3 520.9,935.9 523.4,935.4 525.9,934.9 528.4,934.2 530.9,933.6 533.4,932.8 535.9,932.1 538.4,931.3 540.9,930.5 543.4,929.6 545.9,928.4 548.4,927.1 550.9,925.6 553.4,924 555.9,922.4 558.4,920.8 560.9,919.1 563.4,917.5 565.9,916 568.4,914.6 570.9,913.4 573.4,912.3 575.9,911.2 578.4,910.1 580.9,909.1 583.4,908 585.9,907 588.4,906.1 590.9,905.2 593.4,904.4 595.9,903.6 598.4,903 600.9,902.5 603.4,902.2 605.9,901.9 608.4,901.7 610.9,901.4 613.4,901.2 615.9,901 618.4,900.8 620.9,900.7 623.4,900.5 625.9,900.4 628.4,900.3 630.9,900.2 633.4,900.2 635.9,900.2 638.4,900.2 640.9,900.3 643.4,900.4 645.9,900.5 648.4,900.7 650.9,900.9 653.4,901.4 655.9,902.4 658.4,903.6 660.9,904.4 663.4,905.1 665.9,905.7 668.4,906.2 670.9,906.8 673.4,907.3 675.9,907.8 678.4,908.3 680.9,908.9 683.4,909.6 685.9,910.3 688.4,911.1 690.9,911.9 693.4,912.8 695.9,913.7 698.4,914.6 700.9,915.6 703.4,916.5 705.9,917.5 708.4,918.4 710.9,919.3 713.4,920.1 715.9,920.9 718.4,921.7 720.9,922.4 723.4,923.2 725.9,923.9 728.4,924.7 730.9,925.4 733.4,926.1 735.9,926.7 738.4,927.4 740.9,928 743.4,928.6 745.9,929.2 748.4,929.8 750.9,930.3 753.4,930.8 755.9,931.4 758.4,931.9 760.9,932.4 763.4,932.9 765.9,933.3 768.4,933.8 770.9,934.2 773.4,934.7 775.9,935.1 778.4,935.5 780.9,935.8 783.4,936.2 785.9,936.5 788.4,936.9 790.9,937.2 793.4,937.5 795.9,937.9 798.4,938.2 800.9,938.5 803.4,938.8 805.9,939.1 808.4,939.3 810.9,939.5 813.4,939.7 815.9,939.8 818.4,939.8 820.9,939.8 823.4,939.7 825.9,939.6 828.4,939.4 830.9,939.2 833.4,939 835.9,938.7 838.4,938.4 840.9,938 843.4,937.7 845.9,937.3 848.4,937 850.9,936.6 853.4,936.2 855.9,935.7 858.4,935.1 860.9,934.4 863.4,933.7 865.9,933 868.4,932.2 870.9,931.5 873.4,930.7 875.9,929.9 878.4,929.1 880.9,928.3 883.4,927.6 885.9,926.8 888.4,926.1 890.9,925.3 893.4,924.5 895.9,923.7 898.4,922.9 900.9,922.1 903.4,921.3 905.9,920.5 908.4,919.7 910.9,918.9 913.4,918.2 915.9,917.4 918.4,916.7 920.9,915.9 923.4,915.2 925.9,914.4 928.4,913.6 930.9,912.8 933.4,912 935.9,911.2 938.4,910.5 940.9,909.8 943.4,909.1 945.9,908.5 948.4,907.9 950.9,907.4 953.4,906.9 955.9,906.5 958.4,906.1 960.9,905.7 963.4,905.4 965.9,905 968.4,904.6 970.9,904.3 973.4,904 975.9,903.7 978.4,903.5 980.9,903.3 983.4,903.1 985.9,903 988.4,902.9 990.9,902.9 993.4,902.9 995.9,902.9 998.4,902.9 1000.9,902.9 1003.4,902.9 1005.9,902.9 1008.4,902.9 1010.9,902.9 1013.4,902.9 1015.9,902.9 1018.4,902.9 1020.9,902.9 1023.4,902.9 1025.9,902.9 1028.4,902.9 1030.9,902.9 1033.4,902.9 1035.9,902.9 1038.4,902.9 1040.9,903 1043.4,903 1045.9,903.1 1048.4,903.2 1050.9,903.3 1053.4,903.5 1055.9,903.7 1058.4,903.8 1060.9,904 1063.4,904.2 1065.9,904.4 1068.4,904.6 1070.9,904.9 1073.4,905.1 1075.9,905.3 1078.4,905.5 1080.9,905.7 1083.4,906 1085.9,906.2 1088.4,906.4 1090.9,906.5 1093.4,906.7 1095.9,906.9 1098.4,907 1100.9,907.2 1103.4,907.3 1105.9,907.5 1108.4,907.6 1110.9,907.8 1113.4,908 1115.9,908.1 1118.4,908.3 1120.9,908.5 1123.4,908.6 1125.9,908.8 1128.4,909 1130.9,909.1 1133.4,909.3 1135.9,909.4 1138.4,909.6 1140.9,909.7 1143.4,909.9 1145.9,910 1148.4,910.1 1150.9,910.3 1153.4,910.4 1155.9,910.5 1158.4,910.6 1160.9,910.6 1163.4,910.7 1165.9,910.8 1168.4,910.8 1170.9,910.8 1173.4,910.9 1175.9,910.9 1178.4,910.9 1180.9,910.9 1183.4,910.9 1185.9,910.9 1188.4,910.9 1190.9,910.8 1193.4,910.8 1195.9,910.8 1198.4,910.8 1200.9,910.8 1203.4,910.8 1205.9,910.7 1208.4,910.7 1210.9,910.7 1213.4,910.6 1215.9,910.6 1218.4,910.6 1220.9,910.5 1223.4,910.5 1225.9,910.5 1228.4,910.4 1230.9,910.4 1233.4,910.3 1235.9,910.2 1238.4,910.2 1240.9,910.1 1243.4,910 1245.9,910 1248.4,909.9 1250.9,909.8 1253.4,909.7 1255.9,909.6 1258.4,909.3 1258.5,909.3"/>
<polyline class="c" stroke="#ff00ff" stroke-width="4.4" stroke-linejoin="round" stroke-linecap="butt" stroke-dasharray="13.3 2.5" points="90.9,916.8 93.4,916.8 95.9,916.8 98.4,916.8 100.9,916.8 103.4,916.8 105.9,916.8 108.4,916.8 110.9,916.8 113.4,916.8 115.9,916.8 118.4,916.8 120.9,916.8 123.4,916.8 125.9,916.8 128.4,916.8 130.9,916.8 133.4,916.8 135.9,916.8 138.4,916.8 140.9,916.8 143.4,916.8 145.9,916.8 148.4,916.8 150.9,916.8 153.4,916.8 155.9,916.8 158.4,916.8 160.9,916.8 163.4,916.8 165.9,916.8 168.4,916.8 170.9,916.8 173.4,916.8 175.9,916.8 178.4,916.8 180.9,916.8 183.4,916.8 185.9,916.8 188.4,916.8 190.9,916.8 193.4,916.8 195.9,916.8 198.4,916.8 200.9,916.8 203.4,916.8 205.9,916.8 208.4,916.8 210.9,916.8 213.4,916.8 215.9,916.8 218.4,916.8 220.9,916.8 223.4,916.8 225.9,916.8 228.4,916.8 230.9,916.8 233.4,916.8 235.9,916.8 238.4,916.8 240.9,916.8 243.4,916.8 245.9,916.8 248.4,916.8 250.9,916.8 253.4,916.8 255.9,916.8 258.4,916.8 260.9,916.8 263.4,916.8 265.9,916.9 268.4,916.9 270.9,917 273.4,917.2 275.9,917.3 278.4,917.4 280.9,917.5 283.4,917.6 285.9,917.6 288.4,917.4 290.9,916.8 293.4,915.8 295.9,914.6 298.4,913.2 300.9,911.7 303.4,910.1 305.9,908 308.4,905.5 310.9,902.8 313.4,900 315.9,897.2 318.4,894.7 320.9,892.1 323.4,889.4 325.9,886.8 328.4,884.3 330.9,882.2 333.4,880.6 335.9,879.4 338.4,878.3 340.9,877.5 343.4,877.2 345.9,877.5 348.4,878.8 350.9,880.6 353.4,882.8 355.9,885.4 358.4,889.2 360.9,893.7 363.4,898.5 365.9,903.3 368.4,908.4 370.9,913.9 373.4,919.5 375.9,925.1 378.4,930.4 380.9,935.9 383.4,941.4 385.9,946.6 388.4,951 390.9,954.4 393.4,957.7 395.9,960.7 398.4,963 400.9,964.3 403.4,964.8 405.9,965.1 408.4,965.2 410.9,965 413.4,963.7 415.9,961.7 418.4,959.3 420.9,956.8 423.4,954.1 425.9,950.6 428.4,946.9 430.9,943.3 433.4,940.4 435.9,937.7 438.4,935.2 440.9,932.9 443.4,931.3 445.9,930.5 448.4,930 450.9,929.6 453.4,929.2 455.9,929 458.4,928.8 460.9,928.7 463.4,928.8 465.9,928.8 468.4,928.9 470.9,929 473.4,929.2 475.9,929.3 478.4,929.5 480.9,929.7 483.4,929.9 485.9,930.2 488.4,930.4 490.9,930.6 493.4,930.8 495.9,931 498.4,931.3 500.9,931.7 503.4,932 505.9,932.3 508.4,932.5 510.9,932.7 513.4,932.7 515.9,932.4 518.4,931.9 520.9,931.2 523.4,930.3 525.9,929.4 528.4,928.4 530.9,927.3 533.4,926.3 535.9,925.2 538.4,923.8 540.9,922.4 543.4,920.8 545.9,919.2 548.4,917.6 550.9,916 553.4,914.5 555.9,913 558.4,911.6 560.9,910.1 563.4,908.6 565.9,907.2 568.4,905.7 570.9,904.3 573.4,903 575.9,901.8 578.4,900.8 580.9,899.8 583.4,898.9 585.9,898 588.4,897.1 590.9,896.2 593.4,895.5 595.9,894.8 598.4,894.3 600.9,894 603.4,893.8 605.9,893.8 608.4,893.8 610.9,893.8 613.4,893.8 615.9,893.8 618.4,893.8 620.9,893.8 623.4,893.8 625.9,893.8 628.4,893.8 630.9,894 633.4,894.3 635.9,894.7 638.4,895.2 640.9,895.7 643.4,896.2 645.9,896.6 648.4,896.8 650.9,897 653.4,897 655.9,897 658.4,897 660.9,897 663.4,897.3 665.9,897.8 668.4,898.6 670.9,899.5 673.4,900.5 675.9,901.6 678.4,902.7 680.9,903.8 683.4,904.8 685.9,905.7 688.4,906.7 690.9,907.6 693.4,908.6 695.9,909.7 698.4,910.7 700.9,911.7 703.4,912.8 705.9,913.8 708.4,914.8 710.9,915.8 713.4,916.8 715.9,917.8 718.4,918.7 720.9,919.7 723.4,920.6 725.9,921.6 728.4,922.6 730.9,923.5 733.4,924.4 735.9,925.3 738.4,926.2 740.9,927 743.4,927.7 745.9,928.4 748.4,929 750.9,929.6 753.4,930.2 755.9,930.8 758.4,931.3 760.9,931.9 763.4,932.4 765.9,932.9 768.4,933.4 770.9,933.8 773.4,934.2 775.9,934.6 778.4,935 780.9,935.3 783.4,935.6 785.9,935.8 788.4,936 790.9,936.2 793.4,936.4 795.9,936.5 798.4,936.7 800.9,936.9 803.4,937 805.9,937.1 808.4,937.2 810.9,937.3 813.4,937.4 815.9,937.4 818.4,937.5 820.9,937.4 823.4,937.2 825.9,937 828.4,936.6 830.9,936.1 833.4,935.6 835.9,935.1 838.4,934.5 840.9,933.9 843.4,933.4 845.9,932.8 848.4,932.3 850.9,931.7 853.4,931.1 855.9,930.4 858.4,929.8 860.9,929.1 863.4,928.4 865.9,927.6 868.4,926.9 870.9,926.1 873.4,925.4 875.9,924.6 878.4,923.9 880.9,923.2 883.4,922.4 885.9,921.7 888.4,920.9 890.9,920.2 893.4,919.4 895.9,918.6 898.4,917.9 900.9,917.1 903.4,916.3 905.9,915.6 908.4,914.8 910.9,914.1 913.4,913.3 915.9,912.6 918.4,911.9 920.9,911.2 923.4,910.5 925.9,909.7 928.4,909 930.9,908.2 933.4,907.5 935.9,906.8 938.4,906.1 940.9,905.4 943.4,904.8 945.9,904.2 948.4,903.7 950.9,903.3 953.4,903 955.9,902.7 958.4,902.4 960.9,902.1 963.4,901.8 965.9,901.5 968.4,901.3 970.9,901.1 973.4,900.9 975.9,900.7 978.4,900.5 980.9,900.4 983.4,900.3 985.9,900.2 988.4,900.2 990.9,900.2 993.4,900.2 995.9,900.2 998.4,900.2 1000.9,900.2 1003.4,900.2 1005.9,900.2 1008.4,900.2 1010.9,900.2 1013.4,900.2 1015.9,900.2 1018.4,900.2 1020.9,900.2 1023.4,900.2 1025.9,900.2 1028.4,900.2 1030.9,900.2 1033.4,900.2 1035.9,900.2 1038.4,900.2 1040.9,900.2 1043.4,900.3 1045.9,900.4 1048.4,900.5 1050.9,900.6 1053.4,900.8 1055.9,901 1058.4,901.2 1060.9,901.4 1063.4,901.7 1065.9,901.9 1068.4,902.2 1070.9,902.4 1073.4,902.7 1075.9,903 1078.4,903.2 1080.9,903.5 1083.4,903.8 1085.9,904 1088.4,904.2 1090.9,904.5 1093.4,904.7 1095.9,904.9 1098.4,905.1 1100.9,905.3 1103.4,905.4 1105.9,905.6 1108.4,905.9 1110.9,906.1 1113.4,906.3 1115.9,906.5 1118.4,906.7 1120.9,906.9 1123.4,907.1 1125.9,907.4 1128.4,907.6 1130.9,907.8 1133.4,908 1135.9,908.2 1138.4,908.4 1140.9,908.6 1143.4,908.8 1145.9,908.9 1148.4,909.1 1150.9,909.3 1153.4,909.4 1155.9,909.5 1158.4,909.7 1160.9,909.8 1163.4,909.9 1165.9,909.9 1168.4,910 1170.9,910 1173.4,910.1 1175.9,910.1 1178.4,910.1 1180.9,910.1 1183.4,910.1 1185.9,910.1 1188.4,910.1 1190.9,910 1193.4,910 1195.9,910 1198.4,910 1200.9,910 1203.4,910 1205.9,909.9 1208.4,909.9 1210.9,909.9 1213.4,909.9 1215.9,909.8 1218.4,909.8 1220.9,909.7 1223.4,909.7 1225.9,909.7 1228.4,909.6 1230.9,909.6 1233.4,909.5 1235.9,909.4 1238.4,909.4 1240.9,909.3 1243.4,909.3 1245.9,909.2 1248.4,909.1 1250.9,909 1253.4,909 1255.9,908.8 1258.4,908.5 1258.5,908.5"/>
</g>
<rect x="1258.5" y="797.2" width="257.9" height="223.6" fill="#fff" stroke="#000" stroke-width="3.5"/>
<path d="M1272.7 818.4H1350.5" stroke="#0000ff" stroke-width="4.3" fill="none"/>
<text class="t" x="1358.8" y="827.5">Earthquake</text>
<path d="M1272.7 854.4H1350.5" stroke="#ff0000" stroke-width="4" stroke-dasharray="12.2 3.4" fill="none"/>
<text class="t" x="1358.8" y="863.5">D Ratio=0</text>
<path d="M1272.7 890.4H1350.5" stroke="#00ff00" stroke-width="4" stroke-dasharray="12.2 3.4" fill="none"/>
<text class="t" x="1358.8" y="899.5">D Ratio=0.05</text>
<path d="M1272.7 926.4H1350.5" stroke="#ff8000" stroke-width="4" stroke-dasharray="12.2 3.4" fill="none"/>
<text class="t" x="1358.8" y="935.5">D Ratio=0.1</text>
<path d="M1272.7 962.4H1350.5" stroke="#00ffff" stroke-width="4" stroke-dasharray="12.2 3.4" fill="none"/>
<text class="t" x="1358.8" y="971.5">D Ratio=0.15</text>
<path d="M1272.7 998.4H1350.5" stroke="#ff00ff" stroke-width="4" stroke-dasharray="12.2 3.4" fill="none"/>
<text class="t" x="1358.8" y="1007.5">D Ratio=0.2</text>
<g class="t" text-anchor="middle">
<text x="90.93" y="1079.6">0</text>
<text x="233.7" y="1079.6">5</text>
<text x="376.6" y="1079.6">10</text>
<text x="521.5" y="1079.6">15</text>
<text x="664.9" y="1079.6">20</text>
<text x="809.6" y="1079.6">25</text>
<text x="952.5" y="1079.6">30</text>
<text x="1095.6" y="1079.6">35</text>
<text x="1240.6" y="1079.6">40</text>
<text x="1383.5" y="1079.6">45</text>
<text x="1528.72" y="1079.6">50</text>
</g>
<g class="t" text-anchor="end">
<text x="82.93" y="1058">-0.2</text>
<text x="82.93" y="990.4">-0.1</text>
<text x="82.93" y="924.7">0</text>
<text x="82.93" y="856.75">0.1</text>
<text x="82.93" y="791.2">0.2</text>
</g>
</g>
<text class="t" x="807.4" y="18" text-anchor="middle" textLength="240" lengthAdjust="spacingAndGlyphs">Acceleration Diagram</text>
<text class="t" x="806.4" y="390.9" text-anchor="middle" textLength="191.5" lengthAdjust="spacingAndGlyphs">Velocity Diagram</text>
<text class="t" x="806.4" y="762.9" text-anchor="middle">Displacement Diagram</text>
<text class="t" x="807.5" y="369.5" text-anchor="middle" textLength="68.5" lengthAdjust="spacingAndGlyphs">time-s</text>
<text class="t" x="807.5" y="741.3" text-anchor="middle" textLength="68.5" lengthAdjust="spacingAndGlyphs">time-s</text>
<text class="t" x="807.5" y="1112.3" text-anchor="middle" textLength="68.5" lengthAdjust="spacingAndGlyphs">time-s</text>
<text class="t" transform="translate(26.9 275.2) rotate(-90)" textLength="189" lengthAdjust="spacing">Acceleration-m/s</text>
<text class="t" transform="translate(16.1 86.2) rotate(-90)" style="font-size:23.4px">2</text>
<text class="t" transform="translate(19.5 620) rotate(-90)" text-anchor="start" textLength="139.5" lengthAdjust="spacingAndGlyphs">Velocity-m/s</text>
<text class="t" transform="translate(19.5 1008.5) rotate(-90)" text-anchor="start" textLength="178.5" lengthAdjust="spacingAndGlyphs">Displacement-m</text>
<g id="chart4">
<g stroke="#000" stroke-width="4.0" stroke-dasharray="9.3 8.88" fill="none">
<path d="M357.5 1730.8V1297.84"/>
<path d="M463.3 1730.8V1297.84"/>
<path d="M569.1 1730.8V1297.84"/>
<path d="M673.3 1730.8V1297.84"/>
<path d="M779.4 1730.8V1297.84"/>
<path d="M885.2 1730.8V1297.84"/>
<path d="M989.2 1730.8V1297.84"/>
<path d="M1095.1 1730.8V1297.84"/>
<path d="M1201 1730.8V1297.84"/>
</g>
<g stroke="#000" stroke-width="3.6" stroke-dasharray="9.3 8.86" fill="none">
<path d="M253.5 1621.6H1307.45"/>
<path d="M253.5 1513.5H1307.45"/>
<path d="M253.5 1405.5H1307.45"/>
</g>
<g stroke="#000" stroke-width="3.9" fill="none">
<path d="M357.5 1730.2v-10.5 M357.5 1297.84v10.5"/>
<path d="M463.3 1730.2v-10.5 M463.3 1297.84v10.5"/>
<path d="M569.1 1730.2v-10.5 M569.1 1297.84v10.5"/>
<path d="M673.3 1730.2v-10.5 M673.3 1297.84v10.5"/>
<path d="M779.4 1730.2v-10.5 M779.4 1297.84v10.5"/>
<path d="M885.2 1730.2v-10.5 M885.2 1297.84v10.5"/>
<path d="M989.2 1730.2v-10.5 M989.2 1297.84v10.5"/>
<path d="M1095.1 1730.2v-10.5 M1095.1 1297.84v10.5"/>
<path d="M1201 1730.2v-10.5 M1201 1297.84v10.5"/>
</g>
<g stroke="#000" stroke-width="3.5" fill="none">
<path d="M253.5 1621.6h10.5 M1307.45 1621.6h-10.5"/>
<path d="M253.5 1513.5h10.5 M1307.45 1513.5h-10.5"/>
<path d="M253.5 1405.5h10.5 M1307.45 1405.5h-10.5"/>
</g>
<rect x="253.5" y="1297.84" width="1053.95" height="432.36" fill="none" stroke="#000" stroke-width="3.75"/>
<g clip-path="url(#clip4)">
<polyline class="c" stroke="#0000ff" stroke-width="4.7" stroke-linejoin="round" stroke-linecap="butt" points="253.5,1722.2 253.9,1718.1 257.9,1716.1 260.8,1696.3 262.8,1672.5 264.8,1654.6 266.8,1664.5 269.8,1653.6 271.7,1656.6 272.7,1676.4 274.7,1684.4 276.1,1700.2 278.7,1720.1 281.7,1700.2 284,1684.4 286.6,1678.4 289.6,1682.4 292,1698.3 294,1698.3 296.5,1684.4 297.9,1662.5 299.5,1621.9 301.9,1626.8 303.1,1642.7 304.5,1658.6 306.5,1662.5 308.5,1678.4 309.4,1702.2 311.8,1700.2 313.4,1722.1 316.4,1698.3 317.4,1668.5 320.4,1654.6 322.3,1652.6 323.7,1632.8 325.3,1623.8 327.3,1638.7 328.3,1702.2 331.3,1724 333.3,1710.2 335.2,1710.2 336.8,1698.3 337.6,1646.7 339.2,1609 341.6,1608 342.2,1642.7 344.2,1668.5 347.1,1676.4 349.5,1718.1 351.5,1710.2 352.7,1678.4 355.1,1674.4 357.1,1694.3 359,1661.5 361.4,1696.3 363.4,1702.2 365,1661.5 367,1690.3 370,1672.5 372.9,1678.4 374.9,1690.3 375.9,1724 376.9,1648.7 379.9,1637.7 382.5,1660.6 383.8,1698.3 385.8,1698.3 387.2,1684.4 390.8,1658.6 392.4,1648.7 393.8,1629.8 395.8,1632.8 397.7,1718.1 399.7,1722.1 401.1,1612.9 403.3,1588.1 404.7,1618.9 406.3,1678.4 407.7,1718.1 410.6,1690.3 413,1684.4 413.6,1644.7 415.6,1641.7 417.6,1716.1 419.6,1644.7 421.5,1632.8 423.5,1720.1 425.5,1642.7 426.9,1591.1 429.5,1576.2 431.5,1583.2 432.9,1630.8 435.4,1722.1 437.4,1648.7 440,1635.8 443.4,1648.7 444.8,1609 447.3,1604 449.3,1638.7 451.3,1720.1 453.3,1623.8 455.3,1654.6 457.3,1724 459.2,1688.3 461.2,1664.5 463.8,1663.5 465.2,1688.3 467.2,1718.1 469.2,1672.5 471.2,1710.2 472.5,1618.9 473.7,1583.2 475.5,1560.4 477.7,1583.2 478.1,1626.8 480.5,1638.7 483.7,1688.3 486,1605 487.6,1545.5 489.4,1517.7 491.6,1555.4 492.4,1618.9 494.4,1640.7 496,1646.7 497.3,1705.2 498.9,1674.4 501.5,1672.5 503.5,1688.3 505.9,1666.5 508.3,1658.6 510.8,1666.5 513.4,1629.8 514.8,1698.3 516.8,1662.5 518.8,1664.5 521.3,1722.1 523.7,1654.6 526.7,1703.2 529.7,1638.7 530,1658.6 531.6,1599 533.6,1582.2 535.6,1599 537.5,1705.2 539.9,1658.6 541.9,1686.3 544.3,1630.8 545.9,1621.9 548.3,1670.5 550.8,1698.3 553.4,1711.2 554.8,1605 556.8,1611 559.4,1674.4 561.7,1678.4 563.3,1643.7 565.7,1682.4 568.7,1658.6 570.7,1630.8 571.7,1547.5 573.3,1537.5 575.2,1553.4 577.2,1571.3 578.6,1528.6 581.6,1527.6 583.6,1539.5 584,1591.1 586,1670.5 588.5,1603 590.5,1658.6 593.1,1708.2 595.5,1717.1 597.5,1658.6 599.4,1547.5 601.4,1531.6 603,1684.4 604.4,1563.3 607,1559.4 609.4,1627.8 611.3,1557.4 613.3,1637.7 615.7,1533.6 617.3,1509.8 618.3,1595.1 621.3,1583.2 623.3,1593.1 625.2,1706.2 629.2,1642.7 631.2,1659.6 634.2,1698.3 637.1,1604 638.7,1694.3 641.5,1630.8 644.1,1638.7 647.1,1710.2 649.4,1652.6 651.4,1700.2 655,1627.8 657,1642.7 660,1675.4 663.3,1585.2 665.9,1702.2 669.9,1711.2 673.3,1610 675.8,1656.6 677.8,1618.9 681.2,1721.1 683.8,1628.8 685.8,1573.3 687.7,1648.7 690.7,1618.9 693.7,1609 695.1,1658.6 698.7,1674.4 701.6,1654.6 704.6,1720.1 705.6,1646.7 708.6,1688.3 710.6,1716.1 713.5,1635.8 715.5,1673.5 717.5,1618.9 720.5,1694.3 723.5,1711.2 725.4,1670.5 727.4,1565.3 729.4,1599 731.4,1714.1 734.4,1587.1 737.3,1609 739.3,1539.5 741.3,1589.1 743.3,1698.3 745.3,1577.2 747.3,1599 751.2,1723.1 753.8,1626.8 756.2,1579.2 757.2,1522.7 759.8,1527.6 761.2,1559.4 763.1,1706.2 766.1,1670.5 767.7,1563.3 769.7,1543.5 771.1,1591.1 773.1,1703.2 775.6,1716.1 778,1599 780.4,1605 783,1702.2 785,1589.1 786.9,1692.3 788.9,1616.9 791.5,1660.6 793.9,1559.4 795.5,1541.5 797.9,1622.9 799.8,1567.3 802.8,1636.7 804.8,1708.2 807.8,1658.6 809.4,1577.2 811.7,1644.7 814.7,1577.2 816.7,1577.2 819.3,1723.1 820,1720.6 821.6,1589.7 824,1637.3 826,1704.8 828.9,1609.5 830.9,1677 832.9,1709.7 835.9,1653.2 837.9,1673 839.8,1597.6 841.8,1589.7 844.8,1696.8 847.8,1637.3 849.8,1663.1 851.7,1538.1 853.7,1359.5 855.7,1323.8 856.7,1498.4 857.7,1597.6 859.3,1694.8 861.7,1647.2 863.7,1677 865.2,1563.9 867,1485.5 869.6,1498.4 871.2,1579.8 873.2,1552 875.6,1677 877.5,1691.9 879.5,1579.8 881.5,1617.5 883.5,1631.3 886.1,1593.7 888.5,1609.5 891.4,1653.2 894.4,1575.8 897.4,1555 899.4,1667.1 900.4,1567.9 903.3,1718.7 906.3,1677 908.9,1614.5 911.3,1657.1 913.3,1700.8 915.2,1573.8 917.6,1617.5 919.2,1702.8 923.2,1632.3 926.2,1647.2 929.1,1717.7 931.5,1621.4 935.1,1625.4 937.1,1726.6 941,1617.5 943,1514.3 945.4,1508.3 947,1712.7 949,1538.1 951.3,1521.2 952.9,1565.9 955.9,1625.4 958.9,1694.8 961.9,1653.2 964.8,1649.2 967.2,1704.8 969.2,1585.7 972.8,1718.7 975.8,1627.4 978.7,1696.8 979.7,1601.6 981.7,1603.6 983.7,1645.2 986.7,1665.1 989.6,1700.8 992.6,1677 995.6,1671 997.6,1710.7 1000.6,1679 1003.5,1640.3 1005.5,1723.6 1008.5,1677 1011.5,1624.4 1013.5,1665.1 1016.4,1714.7 1019.4,1677 1022.4,1627.4 1025.4,1667.1 1027.3,1712.7 1030.3,1617.5 1033.3,1607.5 1035.3,1657.1 1037.3,1718.7 1041.2,1655.2 1044.2,1710.7 1047.2,1637.3 1050.2,1710.7 1053.1,1657.1 1055.1,1599.6 1058.1,1609.5 1061.1,1704.8 1063.1,1661.1 1066,1710.7 1070,1647.2 1073,1625.4 1076,1657.1 1079.9,1726.6 1082.9,1655.2 1085.9,1706.7 1088.8,1636.3 1091.8,1663.1 1094.8,1684.9 1096.8,1597.6 1099.8,1589.7 1101.5,1609.8 1102.9,1641.8 1105.8,1707.3 1108.7,1670.9 1110.9,1685.5 1113.1,1649.1 1114.5,1714.6 1117.2,1721.9 1118.9,1652 1121.1,1711.7 1123.3,1656.4 1125.5,1707.3 1127.6,1697.1 1129.1,1631.7 1131.3,1689.9 1132.7,1641.8 1134.9,1633.1 1137.1,1694.2 1139.3,1666.6 1142.2,1670.9 1146.6,1705.9 1149.5,1635.3 1151.7,1663.7 1155.3,1639.7 1157.5,1695.7 1158.9,1663.7 1162.6,1697.9 1165.5,1679.7 1167.7,1688.4 1169.8,1660.8 1171.3,1681.1 1172.7,1627.3 1175.7,1619.3 1177.8,1650.6 1179.3,1726.2 1181.5,1724.8 1182.9,1589.5 1185.1,1572.7 1187.3,1589.5 1188.8,1641.8 1191.7,1694.2 1193.1,1717.5 1195.3,1663.7 1198.9,1704.4 1201.8,1679.7 1203.3,1724.8 1205.5,1650.6 1207.7,1640.4 1211.3,1635.3 1212.8,1720.4 1214.9,1700 1216.4,1711.7 1219.3,1669.5 1221.5,1724.8 1223.7,1636 1225.4,1635.3 1227.3,1723.3 1230.9,1685.5 1233.1,1670.9 1235.3,1668 1236,1720.4 1238.9,1694.2 1241.1,1692.8 1244,1725.5 1247,1719 1249.1,1689.9 1251.3,1684 1252,1719 1254.2,1685.5 1255.7,1639.7 1257.9,1685.5 1260,1653.5 1263,1603.3 1265.9,1608.4 1268,1703 1271,1670.9 1273.1,1581.5 1275.3,1590.9 1277.5,1705.9 1280.4,1648.4 1283.3,1679.7 1285.5,1655.7 1287.7,1710.2 1290.6,1720.4 1293.5,1721.1 1295.7,1668 1298.6,1704.4 1301.5,1707.3 1305.2,1671.7 1307.3,1676.8"/>
<polygon fill="#ff0000" points="253.5,1729.3 252.3,1728.9 256.9,1727.7 260.8,1726.8 263.8,1723.8 265.8,1723 268.8,1724.2 271.7,1724.7 274.7,1727.2 277.7,1728.1 282.7,1727.7 286.6,1727.7 292,1728.5 296.5,1727.4 300.5,1727 304.5,1727.7 308.5,1728.7 315.4,1728.9 321.3,1727.9 325.3,1727.8 331.3,1728.9 339.2,1727.7 343.2,1728.7 351.1,1729.1 351.1,1731.1 253.5,1731.1"/>
<polyline class="c" stroke="#ff0000" stroke-width="4.7" stroke-linejoin="round" stroke-linecap="butt" points="253.5,1729.3 252.3,1728.9 256.9,1727.7 260.8,1726.8 263.8,1723.8 265.8,1723 268.8,1724.2 271.7,1724.7 274.7,1727.2 277.7,1728.1 282.7,1727.7 286.6,1727.7 292,1728.5 296.5,1727.4 300.5,1727 304.5,1727.7 308.5,1728.7 315.4,1728.9 321.3,1727.9 325.3,1727.8 331.3,1728.9 339.2,1727.7 343.2,1728.7 351.1,1729.1 378.9,1728.9 386.8,1729.2 392.8,1728.7 396.7,1729.1 402.7,1728.7 408.7,1729.2 427.5,1728.7 438.4,1729.1 474.1,1728.9 488,1728.7 497.9,1729.1 540,1729.1 1306.5,1729.3"/>
<polyline class="c" stroke="#00ff00" stroke-width="4.7" stroke-linejoin="round" stroke-linecap="butt" points="253.5,1729.3 252.3,1728.5 256.9,1726.3 260.8,1724.6 263.8,1718.8 265.8,1717.4 268.8,1719.6 271.7,1720.6 274.7,1725.3 277.7,1727.1 282.7,1726.3 286.6,1726.3 292,1727.8 296.5,1725.6 300.5,1724.9 304.5,1726.3 308.5,1728.1 315.4,1728.5 321.3,1726.7 325.3,1726.6 331.3,1728.5 339.2,1726.3 343.2,1728.1 351.1,1728.8 378.9,1728.5 386.8,1729.2 392.8,1728.1 396.7,1728.8 402.7,1728.1 408.7,1729.2 427.5,1728.1 438.4,1728.8 474.1,1728.5 488,1728.1 497.9,1729 540,1728.8 1306.5,1729.3"/>
<polyline class="c" stroke="#ff8000" stroke-width="4.7" stroke-linejoin="round" stroke-linecap="butt" points="253.5,1729.3 252.3,1728 256.9,1724.8 260.8,1722 263.8,1713.3 265.8,1711.1 268.8,1714.4 271.7,1716 274.7,1723.1 277.7,1725.9 282.7,1724.8 286.6,1724.8 292,1727 296.5,1723.7 300.5,1722.6 304.5,1724.8 308.5,1727.5 315.4,1728 321.3,1725.3 325.3,1725.1 331.3,1728 339.2,1724.8 343.2,1727.5 351.1,1728.6 378.9,1728 386.8,1729.1 392.8,1727.5 396.7,1728.6 402.7,1727.5 408.7,1729.1 427.5,1727.5 438.4,1728.6 474.1,1728 488,1727.5 497.9,1728.8 540,1728.6 1306.5,1729.3"/>
<polyline class="c" stroke="#00ffff" stroke-width="4.7" stroke-linejoin="round" stroke-linecap="butt" points="253.5,1729.3 252.3,1727.5 256.9,1723 260.8,1719.1 263.8,1706.9 265.8,1703.9 268.8,1708.5 271.7,1710.7 274.7,1720.7 277.7,1724.5 282.7,1723 286.6,1723 292,1726 296.5,1721.4 300.5,1719.9 304.5,1723 308.5,1726.8 315.4,1727.5 321.3,1723.7 325.3,1723.4 331.3,1727.5 339.2,1723 343.2,1726.8 351.1,1728.3 378.9,1727.5 386.8,1729.1 392.8,1726.8 396.7,1728.3 402.7,1726.8 408.7,1729.1 427.5,1726.8 438.4,1728.3 474.1,1727.5 488,1726.8 497.9,1728.6 540,1728.3 1306.5,1729.3"/>
<polyline class="c" stroke="#ff00ff" stroke-width="4.7" stroke-linejoin="round" stroke-linecap="butt" points="253.5,1729.3 252.3,1727 256.9,1721.1 260.8,1716.1 263.8,1700.2 265.8,1696.3 268.8,1702.2 271.7,1705.2 274.7,1718.1 277.7,1723.1 282.7,1721.1 286.6,1721.1 292,1725 296.5,1719.1 300.5,1717.1 304.5,1721.1 308.5,1726 315.4,1727 321.3,1722.1 325.3,1721.7 331.3,1727 339.2,1721.1 343.2,1726 351.1,1728 378.9,1727 386.8,1729 392.8,1726 396.7,1728 402.7,1726 408.7,1729 427.5,1726 438.4,1728 474.1,1727 488,1726 497.9,1728.4 540,1728 1306.5,1729.3"/>
</g>
<rect x="1009.2" y="1311.9" width="286.3" height="231.8" fill="#fff" stroke="#000" stroke-width="3.5"/>
<path d="M1025 1333.8H1105.5" stroke="#0000ff" stroke-width="4.2" fill="none"/>
<text class="t" x="1113.6" y="1343.9" textLength="169.2" lengthAdjust="spacing">Ground motion</text>
<path d="M1025 1371H1105.5" stroke="#ff0000" stroke-width="4.2" fill="none"/>
<text class="t" x="1113.6" y="1381.1" textLength="153.4" lengthAdjust="spacing">Damping=0.0</text>
<path d="M1025 1408.2H1105.5" stroke="#00ff00" stroke-width="4.2" fill="none"/>
<text class="t" x="1113.6" y="1418.3" textLength="167" lengthAdjust="spacing">Damping=0.05</text>
<path d="M1025 1445.4H1105.5" stroke="#ff8000" stroke-width="4.2" fill="none"/>
<text class="t" x="1113.6" y="1455.5" textLength="152.3" lengthAdjust="spacing">Damping=0.1</text>
<path d="M1025 1482.6H1105.5" stroke="#00ffff" stroke-width="4.2" fill="none"/>
<text class="t" x="1113.6" y="1492.7" textLength="167" lengthAdjust="spacing">Damping=0.15</text>
<path d="M1025 1519.8H1105.5" stroke="#ff00ff" stroke-width="4.2" fill="none"/>
<text class="t" x="1113.6" y="1529.9" textLength="153.4" lengthAdjust="spacing">Damping=0.2</text>
<g class="t" text-anchor="middle">
<text x="253.5" y="1759.7">0</text>
<text x="357.5" y="1759.7">2</text>
<text x="463.3" y="1759.7">4</text>
<text x="569.1" y="1759.7">6</text>
<text x="673.3" y="1759.7">8</text>
<text x="779.4" y="1759.7">10</text>
<text x="885.2" y="1759.7">12</text>
<text x="989.2" y="1759.7">14</text>
<text x="1095.1" y="1759.7">16</text>
<text x="1201" y="1759.7">18</text>
<text x="1307.45" y="1759.7">20</text>
</g>
<g class="t" text-anchor="end">
<text x="245.5" y="1738.1">0</text>
<text x="245.5" y="1629.5">0.05</text>
<text x="245.5" y="1521.4">0.1</text>
<text x="245.5" y="1413.4">0.15</text>
<text x="245.5" y="1305.74">0.2</text>
</g>
</g>
<text class="t" x="778.6" y="1276.3" text-anchor="middle" textLength="160" lengthAdjust="spacingAndGlyphs">FFT Analyses</text>
<text class="t" x="776.9" y="1795.6" text-anchor="middle" textLength="169.5" lengthAdjust="spacingAndGlyphs">Frequency(Hz)</text>
<text class="t" transform="translate(173.4 1574) rotate(-90)" text-anchor="start" textLength="115" lengthAdjust="spacingAndGlyphs">Amplitude</text>
<g id="chart5">
<g stroke="#000" stroke-width="4.0" stroke-dasharray="9.3 8.88" fill="none">
<path d="M357.5 2350V1915.6"/>
<path d="M463.3 2350V1915.6"/>
<path d="M569.1 2350V1915.6"/>
<path d="M673.3 2350V1915.6"/>
<path d="M779.4 2350V1915.6"/>
<path d="M885.2 2350V1915.6"/>
<path d="M989.2 2350V1915.6"/>
<path d="M1095.1 2350V1915.6"/>
<path d="M1201 2350V1915.6"/>
</g>
<g stroke="#000" stroke-width="3.6" stroke-dasharray="9.3 8.86" fill="none">
<path d="M253.5 2287.3H1307.45"/>
<path d="M253.5 2225.6H1307.45"/>
<path d="M253.5 2163.4H1307.45"/>
<path d="M253.5 2101.4H1307.45"/>
<path d="M253.5 2039.6H1307.45"/>
<path d="M253.5 1977.4H1307.45"/>
</g>
<g stroke="#000" stroke-width="3.9" fill="none">
<path d="M357.5 2349.4v-10.5 M357.5 1915.6v10.5"/>
<path d="M463.3 2349.4v-10.5 M463.3 1915.6v10.5"/>
<path d="M569.1 2349.4v-10.5 M569.1 1915.6v10.5"/>
<path d="M673.3 2349.4v-10.5 M673.3 1915.6v10.5"/>
<path d="M779.4 2349.4v-10.5 M779.4 1915.6v10.5"/>
<path d="M885.2 2349.4v-10.5 M885.2 1915.6v10.5"/>
<path d="M989.2 2349.4v-10.5 M989.2 1915.6v10.5"/>
<path d="M1095.1 2349.4v-10.5 M1095.1 1915.6v10.5"/>
<path d="M1201 2349.4v-10.5 M1201 1915.6v10.5"/>
</g>
<g stroke="#000" stroke-width="3.5" fill="none">
<path d="M253.5 2287.3h10.5 M1307.45 2287.3h-10.5"/>
<path d="M253.5 2225.6h10.5 M1307.45 2225.6h-10.5"/>
<path d="M253.5 2163.4h10.5 M1307.45 2163.4h-10.5"/>
<path d="M253.5 2101.4h10.5 M1307.45 2101.4h-10.5"/>
<path d="M253.5 2039.6h10.5 M1307.45 2039.6h-10.5"/>
<path d="M253.5 1977.4h10.5 M1307.45 1977.4h-10.5"/>
</g>
<rect x="253.5" y="1915.6" width="1053.95" height="433.8" fill="none" stroke="#000" stroke-width="3.75"/>
<g clip-path="url(#clip5)">
<polyline class="c" stroke="#0000ff" stroke-width="6.4" stroke-linejoin="round" stroke-linecap="butt" points="253.5,2348.4 255,2347.8 256.5,2347.1 258,2346.5 259.5,2345.8 261,2345.8 262.5,2345.8 264,2345.8 265.5,2345.8 267,2345.8 268.5,2345.8 270,2345.8 271.5,2345.8 273,2345.8 274.5,2345.8 276,2345.8 277.5,2345.8 279,2345.8 280.5,2345.8 282,2345.8 283.5,2345.8 285,2345.8 286.5,2345.8 288,2345.8 289.5,2345.8 291,2345.8 292.5,2345.8 294,2345.8 295.5,2345.8 297,2345.8 298.5,2345.8 300,2345.8 301.5,2345.8 303,2345.8 304.5,2345.8 306,2345.8 307.5,2345.8 309,2345.8 310.5,2345.8 312,2345.8 313.5,2345.8 315,2345.8 316.5,2345.8 318,2345.8 319.5,2345.8 321,2345.8 322.5,2345.8 324,2345.8 325.5,2345.8 327,2345.8 328.5,2345.8 330,2345.8 331.5,2345.8 333,2345.8 334.5,2345.8 336,2345.8 337.5,2345.8 339,2345.8 340.5,2345.8 342,2345.8 343.5,2344.6 345,2345.5 346.5,2344 348,2343.8 349.5,2345.4 351,2345.5 352.5,2343.7 354,2343.5 355.5,2343.2 357,2342.2 358.5,2341.8 360,2340.7 361.5,2342.9 363,2341.5 364.5,2341.1 366,2341.3 367.5,2341.5 369,2342.5 370.5,2339.7 372,2339.2 373.5,2339.8 375,2337.9 376.5,2340.7 378,2339.9 379.5,2339.3 381,2337.7 382.5,2338.7 384,2338.9 385.5,2337.7 387,2336.2 388.5,2333.8 390,2337.5 391.5,2335.2 393,2334.2 394.5,2336.4 396,2335.3 397.5,2332.4 399,2334 400.5,2333.5 402,2335.3 403.5,2330.9 405,2333.1 406.5,2333.4 408,2335.6 409.5,2331.8 411,2328.9 412.5,2331.2 414,2333.5 415.5,2334.3 417,2335.6 418.5,2333.5 420,2331.6 421.5,2334 423,2332.6 424.5,2332.2 426,2332.5 427.5,2334.1 429,2330.3 430.5,2329.5 432,2330.4 433.5,2329.8 435,2328.1 436.5,2327.4 438,2328.7 439.5,2329.6 441,2328.1 442.5,2327.4 444,2327.7 445.5,2322.3 447,2322.4 448.5,2322.7 450,2320.7 451.5,2319.9 453,2320.2 454.5,2317 455.6,2318.1"/>
<polygon fill="#0000ff" stroke="#0000ff" stroke-width="4.0" stroke-linejoin="round" points="459.9,2297.7 461.3,2282.2 462.7,2272.5 464.1,2264.3 465.5,2247.5 466.9,2239.1 468.3,2233.2 469.7,2229.7 471.1,2235.1 472.5,2237.2 473.9,2239.2 475.3,2236.2 476.7,2223.9 478.1,2218.8 479.5,2215.1 480.9,2197.9 482.3,2195.6 483.7,2194.5 485.1,2169.4 486.5,2161.4 487.9,2156.8 489.3,2159.9 490.7,2152.2 492.1,2154.4 493.5,2158.7 494.9,2166 496.3,2169.7 497.7,2176 499.1,2179.8 500.5,2188.9 501.9,2193.8 503.3,2195.8 504.7,2200.3 506.1,2200.7 507.5,2203.1 508.9,2204.8 510.3,2204.8 511.7,2209 513.1,2211.2 514.5,2217.5 515.9,2234.8 517.3,2247.1 518.7,2258.4 520.1,2262 521.5,2264.9 522.9,2265.9 524.3,2267.5 525.7,2268 527.1,2266 528.5,2265.5 529.9,2262.1 531.3,2265.2 532.7,2260.3 534.1,2249.8 535.5,2241 536.9,2229.9 538.3,2218.7 539.7,2216.6 541.1,2210.9 542.5,2215.4 543.9,2219.1 545.3,2219.8 546.7,2215.9 548.1,2212.1 549.5,2214.4 550.9,2212.3 552.3,2213.3 553.7,2222.3 555.1,2255.6 556.5,2296.5 557.9,2301.9 559.3,2298.3 560.7,2301.9 562.1,2302.8 563.5,2300.9 564.9,2302.5 566.3,2309.9 567.7,2313.4 569.1,2314.8 570.5,2315.6 571.9,2328.5 573.3,2334.3 574.7,2336.1 576.1,2330.4 576.1,2328.6 576.1,2347.2 576.1,2347.7 574.7,2348 573.3,2349 571.9,2350.4 570.5,2347.1 569.1,2348.5 567.7,2348.8 566.3,2347.4 564.9,2347.5 563.5,2345.9 562.1,2346 560.7,2350.1 559.3,2343.8 557.9,2349.3 556.5,2342.1 555.1,2341.6 553.7,2323.5 552.3,2313.1 550.9,2304 549.5,2310.9 548.1,2308.7 546.7,2303.9 545.3,2307.2 543.9,2305.2 542.5,2305.8 541.1,2300.2 539.7,2293.5 538.3,2285.5 536.9,2277.5 535.5,2282.2 534.1,2287.7 532.7,2292.7 531.3,2299 529.9,2306.4 528.5,2312.9 527.1,2311.6 525.7,2313.2 524.3,2311.7 522.9,2315.4 521.5,2309.1 520.1,2301.1 518.7,2293.7 517.3,2271.6 515.9,2262.7 514.5,2251.5 513.1,2246.4 511.7,2242.9 510.3,2240.4 508.9,2245.8 507.5,2246.4 506.1,2244.8 504.7,2242.4 503.3,2242 501.9,2239.5 500.5,2240.5 499.1,2241.9 497.7,2241.1 496.3,2237.1 494.9,2237.4 493.5,2234 492.1,2225.6 490.7,2221.8 489.3,2223 487.9,2228.4 486.5,2239.9 485.1,2251.7 483.7,2271.7 482.3,2287.3 480.9,2294.6 479.5,2308.4 478.1,2294.2 476.7,2278.4 475.3,2270.5 473.9,2270.3 472.5,2265.6 471.1,2263.1 469.7,2265.9 468.3,2266.6 466.9,2269.4 465.5,2282 464.1,2295 462.7,2302.7 461.3,2303.9 459.9,2305.2"/>
<polyline class="c" stroke="#0000ff" stroke-width="6.6" stroke-linejoin="round" stroke-linecap="butt" points="577.9,2338 579.1,2325.5 580.3,2310.7 581.5,2294.9 582.7,2285.4 583.9,2278 585.1,2279 586.3,2278.2 587.5,2257.9 588.7,2249.5 589.9,2245.9 591.1,2226.9 592.3,2233.9 593.5,2227 594.7,2235.5 595.9,2231.1 597.1,2237.1 598.3,2257.8 599.5,2272.1 600.7,2295 601.9,2316.1 603.1,2326.7 604.3,2321.4 605.5,2318.9 606.7,2308.6 607.9,2301.6 609.1,2291.8 610.3,2297.9 611.5,2306.8 612.7,2310.2 613.9,2308 615.1,2303.5 616.3,2295.6 617.5,2299.8 618.7,2299.5 619.9,2299.9 621.1,2297.7 622.3,2297.6 623.5,2300.5 624.7,2307.1 625.9,2313.7 627.1,2305.2 628.3,2305.4 629.5,2312.3 630.7,2314.2 631.9,2319.8 633.1,2322.2 634.3,2307.1 635.5,2306.8 636.7,2305.6 637.9,2306.6 639.1,2304.3 640.3,2294.8 641.5,2294.1 642.7,2277.8 643.9,2278.1 645.1,2274.6 646.3,2275.1 647.5,2279.8 648.7,2276.3 649.9,2292.5 651.1,2304.2 652.3,2306.7 653.5,2313.4 654.7,2308.9 655.9,2299.3 657.1,2306.2 658.3,2305.7 659.5,2304.2 660.7,2297.4 661.9,2302.5 663.1,2316.9 664.3,2317.8 665.5,2321.8 666.7,2321.7 667.9,2328.7 669.1,2322.4 670.3,2311.5 671.5,2303.5 672.7,2306.7 673.9,2302.2 675.1,2304.9 676.3,2307.4 677.5,2300.7 678.7,2300 679.9,2305.1 681.1,2296.6 682.3,2298.7 683.5,2292.4 684.7,2285 685.9,2285 687.1,2278.7 688.3,2275.7 689.5,2286.3 690.7,2303.9 691.9,2313.3 693.1,2301.1 694.3,2299.8 695.5,2295.4 696.7,2285.8 697.9,2280.6 699.1,2299.5 700.3,2300.6 701.5,2285.6 702.7,2300.6 703.9,2297 705.1,2296.4 706.3,2290.3 707.5,2291 708.7,2298.2 709.9,2300.8 711.1,2304.6 712.3,2305 713.5,2304.4 714.7,2299.2 715.9,2285.3 717.1,2297.7 718.3,2287.7 719.5,2286.6 720.7,2284.2 721.9,2289 723.1,2281.8 724.3,2295.2 725.5,2292.6 726.7,2290.6 727.9,2283.6 729.1,2280.9 730.3,2287.3 731.5,2287.7 732.7,2293.7 733.9,2287 735.1,2276.5 736.3,2272.3 737.5,2271.6 738.7,2272.3 739.9,2267.4 741.1,2271.6 742.3,2275 743.5,2276.3 744.7,2277 745.9,2276.5 747.1,2274.2 748.3,2277.5 749.5,2276.3 750.7,2275.3 751.9,2272 753.1,2274.7 754.3,2276.3 755.5,2274.5 756.7,2272.1 757.9,2273.2 759.1,2271.7 760.3,2272 761.5,2273.8 762.7,2273.2 763.9,2273.1 765.1,2274.2 766.3,2272.3 767.5,2272.4 768.7,2275.8 769.9,2274.1 771.1,2276.8 772.3,2272.5 773.5,2278.9 774.7,2276.8 775.9,2280.7 777.1,2272.8 778.3,2274.8 779.5,2281.3 780.7,2279.3 781.9,2280 783.1,2279 784.3,2278.5 785.5,2278.7 786.7,2275 787.9,2276.1 789.1,2278.4 790.3,2275.6 791.5,2273.4 792.7,2274.8 793.9,2276.7 795.1,2274.2 796.3,2274.3 797.5,2275.6 798.7,2276.3 799.9,2277.6 801.1,2274.4 802.3,2275.3 803.5,2276.7 804.7,2270.8 805.9,2274.9 807.1,2275.5 808.3,2274.5 809.5,2272.9 810.7,2275.8 811.9,2277.2 813.1,2274.7 814.3,2274.1 815.5,2274.7 816.7,2278.4 817.9,2277.9 819.1,2275.6 820.3,2273.4 821.5,2273.2 822.7,2275.2 823.9,2275.4 825.1,2276.6 826.3,2274 827.5,2276.4 828.7,2278.2 829.9,2274.2 831.1,2282.6 832.3,2279.6 833.5,2280 834.7,2276.8 835.9,2277.8 837.1,2282.3 838.3,2282.5 839.5,2276 840.7,2282.5 841.9,2281.1 843.1,2280.3 844.3,2276.2 845.5,2278.3 846.7,2276 847.9,2277.7 849.1,2280 850.3,2277.8 851.5,2278.7 852.7,2276.2 853.9,2274.9 855.1,2277.1 856.3,2279.3 857.5,2280.3 858.7,2277.4 859.9,2278.2 861.1,2277 862.3,2274.1 863.5,2277.2 864.7,2277.3 865.9,2275.3 867.1,2275.4 868.3,2271.7 869.5,2274.9 870.7,2277.1 871.9,2273.9 873.1,2274.6 874.3,2274 875.5,2271.8 876.7,2273.9 877.9,2272 879.1,2279.6 880.3,2274.3 881.5,2271.9 882.7,2271.1 883.9,2277.3 885.1,2275.7 886.3,2275.4 887.5,2272.6 888.7,2275.1 889.9,2274.7 891.1,2280.2 892.3,2277.8 893.5,2283.2 894.7,2280.3 895.9,2278.5 897.1,2281.6 898.3,2274.6 899.5,2277 900.7,2277.7 901.9,2280.5 903.1,2280.3 904.3,2278.8 905.5,2274.4 906.7,2276.6 907.9,2275.2 909.1,2279.7 910.3,2276.1 911.5,2277.9 912.7,2280.2 913.9,2276.1 915.1,2277.4 916.3,2275 917.5,2275.6 918.7,2275.4 919.9,2275.1 921.1,2274.9 922.3,2273.8 923.5,2278.2 924.7,2273.1 925.9,2274.8 927.1,2273.6 928.3,2269.5 929.5,2275.8 930.7,2274.2 931.9,2270.9 933.1,2272.1 934.3,2270.2 935.5,2273.9 936.7,2276.3 937.9,2275.5 939.1,2270.3 940.3,2269.4 941.5,2273.7 942.7,2275.9 943.9,2272.5 945.1,2274.4 946.3,2269.4 947.5,2271.9 948.7,2272.8 949.9,2271 951.1,2271.3 952.3,2273 953.5,2270.3 954.7,2269.8 955.9,2273.5 957.1,2272.7 958.3,2270.5 959.5,2273.6 960.7,2271.8 961.9,2274.5 963.1,2273.4 964.3,2273.1 965.5,2272.4 966.7,2274.5 967.9,2274.3 969.1,2278.4 970.3,2274.7 971.5,2272.2 972.7,2279.1 973.9,2271 975.1,2278.5 976.3,2273.6 977.5,2278.2 978.7,2275.2 979.9,2276.8 981.1,2275.9 982.3,2275.7 983.5,2277.1 984.7,2274.9 985.9,2277.3 987.1,2274.4 988.3,2275.3 989.5,2275.9 990.7,2276.9 991.9,2279.8 993.1,2275.9 994.3,2276 995.5,2275.3 996.7,2276.5 997.9,2278.1 999.1,2275.2 1000.3,2275.8 1001.5,2274.9 1002.7,2275.9 1003.9,2271.4 1005.1,2276.4 1006.3,2276.7 1007.5,2272.9 1008.7,2274.3 1009.9,2272.5 1011.1,2276.1 1012.3,2275.3 1013.5,2279.6 1014.7,2273.3 1015.9,2271.8 1017.1,2272.4 1018.3,2270.7 1019.5,2273.5 1020.7,2273.7 1021.9,2275.1 1023.1,2274.2 1024.3,2272.7 1025.5,2276.3 1026.7,2275 1027.9,2275.7 1029.1,2271.8 1030.3,2272.7 1031.5,2273.2 1032.7,2273.9 1033.9,2270.2 1035.1,2276.8 1036.3,2273.9 1037.5,2275.9 1038.7,2275.6 1039.9,2276.9 1041.1,2275 1042.3,2274.5 1043.5,2272.1 1044.7,2273.7 1045.9,2276.9 1047.1,2269.7 1048.3,2271.7 1049.5,2273.6 1050.7,2276.3 1051.9,2270.8 1053.1,2272 1054.3,2273.2 1055.5,2279.1 1056.7,2271.1 1057.9,2272.5 1059.1,2274.2 1060.3,2271.3 1061.5,2273.4 1062.7,2273.4 1063.9,2271.8 1065.1,2273.2 1066.3,2276 1067.5,2272.8 1068.7,2271.7 1069.9,2271.1 1071.1,2273 1072.3,2274.6 1073.5,2272.9 1074.7,2273.2 1075.9,2277.9 1077.1,2271.1 1078.3,2270.5 1079.5,2273.2 1080.7,2272.2 1081.9,2273.8 1083.1,2275.1 1084.3,2273.4 1085.5,2272.3 1086.7,2273.7 1087.9,2273.7 1089.1,2272.5 1090.3,2271.6 1091.5,2274.1 1092.7,2272.4 1093.9,2270.5 1095.1,2274.1 1096.3,2271.8 1097.5,2271.7 1098.7,2274.1 1099.9,2271.3 1101.1,2272.5 1102.3,2270.9 1103.5,2269.8 1104.7,2273.5 1105.9,2276 1107.1,2271.2 1108.3,2275.2 1109.5,2275 1110.7,2275.9 1111.9,2270.8 1113.1,2271.7 1114.3,2276.3 1115.5,2272.9 1116.7,2273 1117.9,2274.4 1119.1,2274.3 1120.3,2272 1121.5,2272.6 1122.7,2274.3 1123.9,2273.6 1125.1,2271.7 1126.3,2275.7 1127.5,2274.8 1128.7,2272.5 1129.9,2272.1 1131.1,2275 1132.3,2268.4 1133.5,2273.4 1134.7,2272 1135.9,2271.9 1137.1,2275 1138.3,2273.9 1139.5,2279.4 1140.7,2272.9 1141.9,2274.1 1143.1,2270.5 1144.3,2275.4 1145.5,2272.2 1146.7,2273.8 1147.9,2276 1149.1,2275.8 1150.3,2274.4 1151.5,2276 1152.7,2272.6 1153.9,2271.6 1155.1,2270.5 1156.3,2274.6 1157.5,2277.4 1158.7,2272.9 1159.9,2273.6 1161.1,2272.9 1162.3,2274.5 1163.5,2269.9 1164.7,2275.3 1165.9,2275.8 1167.1,2272.2 1168.3,2271.6 1169.5,2271.9 1170.7,2274.7 1171.9,2276.5 1173.1,2271.7 1174.3,2270.6 1175.5,2273.9 1176.7,2274.2 1177.9,2275.1 1179.1,2272.3 1180.3,2275.2 1181.5,2275.9 1182.7,2270.5 1183.9,2273.2 1185.1,2275 1186.3,2275.3 1187.5,2272.7 1188.7,2269.9 1189.9,2272.2 1191.1,2271 1192.3,2272.8 1193.5,2275.9 1194.7,2272.6 1195.9,2274 1197.1,2271.4 1198.3,2275.7 1199.5,2272.6 1200.7,2271.8 1201.9,2277.6 1203.1,2274.5 1204.3,2275.2 1205.5,2269.9 1206.7,2276.7 1207.9,2277.2 1209.1,2273.5 1210.3,2273.2 1211.5,2272.6 1212.7,2275.9 1213.9,2270.6 1215.1,2274.4 1216.3,2277.7 1217.5,2274 1218.7,2277.6 1219.9,2273.7 1221.1,2273.1 1222.3,2275.5 1223.5,2273.5 1224.7,2273.8 1225.9,2272.8 1227.1,2271.2 1228.3,2273 1229.5,2275 1230.7,2275.7 1231.9,2273.4 1233.1,2274.2 1234.3,2271.7 1235.5,2273.2 1236.7,2273.2 1237.9,2273.2 1239.1,2273.6 1240.3,2274.2 1241.5,2275.9 1242.7,2275 1243.9,2274.5 1245.1,2271 1246.3,2271.8 1247.5,2273.5 1248.7,2273.6 1249.9,2274.9 1251.1,2269.9 1252.3,2273.7 1253.5,2273.6 1254.7,2272.7 1255.9,2271.8 1257.1,2273.8 1258.3,2273 1259.5,2274.3 1260.7,2269.3 1261.9,2271.5 1263.1,2276.3 1264.3,2273.7 1264.9,2273.1"/>
<polyline class="c" stroke="#ff0000" stroke-width="4.6" stroke-linejoin="round" stroke-linecap="butt" points="253.5,2348.1 430,2347.2 459.5,2341.9"/>
<polygon fill="#ff0000" stroke="#ff0000" stroke-width="4.0" stroke-linejoin="round" points="458.5,2334.8 460,2335.5 461.5,2334.4 463,2338.1 464.5,2338.3 466,2337.7 467.5,2338.3 469,2334.9 470.5,2333 472,2325.2 473.5,2320.7 475,2324.1 476.5,2329.3 478,2335.4 479.5,2343 481,2340.6 482.5,2341.4 484,2338.5 485.5,2335 487,2332.8 488.5,2329.3 490,2327.2 491.5,2324.8 493,2326.5 494.5,2324.2 496,2326.6 497.5,2330.1 499,2333.1 500.5,2335.1 502,2341.2 503.5,2343.8 505,2344 506.5,2340.1 508,2338.1 509.5,2340.6 511,2339.4 512.5,2345.4 514,2346.7 515.5,2346.1 517,2347.7 518.5,2346.1 520,2345.3 521.5,2347 523,2343.1 524.5,2345.7 526,2340.8 527.5,2339 529,2339.3 530.5,2338.3 532,2332.4 533.5,2326.5 535,2324.4 536.5,2331.5 538,2335.2 539.5,2338.4 541,2340.1 542.5,2339.2 544,2341 545.5,2339.6 547,2339 548.5,2335.9 550,2338.4 551.5,2335.6 553,2337.9 554.5,2336.3 556,2333.1 557.5,2334.5 559,2332.6 560.5,2334.1 562,2333.3 563.5,2333.3 565,2330.2 566.5,2331.1 568,2331.1 569.5,2336.5 571,2339.1 572.5,2340.5 574,2339.9 575.5,2340.9 577,2338.8 578.5,2338.7 580,2340.4 580,2349.1 578.5,2348.6 577,2348.6 575.5,2346.6 574,2346.3 572.5,2348.6 571,2348.6 569.5,2347.3 568,2346.7 566.5,2350 565,2348.1 563.5,2346.1 562,2349.1 560.5,2347.5 559,2351.3 557.5,2347.1 556,2350.6 554.5,2348 553,2346.8 551.5,2347.8 550,2348.9 548.5,2348 547,2348.4 545.5,2348.4 544,2348.1 542.5,2347.7 541,2346.8 539.5,2347.6 538,2349 536.5,2347.8 535,2347.3 533.5,2347 532,2345.6 530.5,2346.8 529,2347.1 527.5,2349.7 526,2349 524.5,2347.2 523,2347.1 521.5,2348.9 520,2349.5 518.5,2348.1 517,2350 515.5,2346.3 514,2349.4 512.5,2348.9 511,2349.3 509.5,2347.9 508,2348 506.5,2346.3 505,2349.1 503.5,2350.5 502,2349.1 500.5,2348.6 499,2349.2 497.5,2349.2 496,2347.4 494.5,2347.8 493,2347 491.5,2348.2 490,2347.8 488.5,2346 487,2345.7 485.5,2345.9 484,2345.7 482.5,2349.5 481,2347.7 479.5,2349.6 478,2346.6 476.5,2348.8 475,2349.2 473.5,2348.2 472,2350.3 470.5,2347.9 469,2349.2 467.5,2348.1 466,2349.1 464.5,2348.2 463,2348.3 461.5,2347.1 460,2347.6 458.5,2348.2"/>
<polyline class="c" stroke="#ff0000" stroke-width="5.0" stroke-linejoin="round" stroke-linecap="butt" points="580,2347.6 581.7,2347.6 583.4,2343.8 585.1,2343.8 586.8,2347.3 588.5,2345.5 590.2,2347.1 591.9,2347.8 593.6,2348 595.3,2348.1 597,2346.6 598.7,2344.9 600.4,2347.4 602.1,2347.3 603.8,2347.9 605.5,2345 607.2,2343.6 608.9,2347.3 610.6,2348 612.3,2347.9 614,2347.7 615.7,2347.7 617.4,2346.8 619.1,2345.2 620.8,2346.9 622.5,2347.3 624.2,2345.1 625.9,2347.7 627.6,2347.8 629.3,2347.9 631,2346.1 632.7,2346.3 634.4,2347.4 636.1,2346.6 637.8,2344.7 639.5,2347.3 641.2,2347.4 642.9,2347.6 644.6,2346.2 646.3,2347.7 648,2347.1 649.7,2347.3 651.4,2347.5 653.1,2347.5 654.8,2347 656.5,2347.5 658.2,2347 659.9,2347.2 661.6,2347.7 663.3,2347.6 665,2347.2 666.7,2344.3 668.4,2347.6 670.1,2347.3 671.8,2347.1 673.5,2347.5 675.2,2347.5 676.9,2347.6 678.6,2347.3 680.3,2347.5 682,2347.5 683.7,2347.5 685.4,2347.3 687.1,2346.9 688.8,2347.5 690.5,2347.5 692.2,2347.3 693.9,2347.4 695.6,2347.3 697.3,2347.3 699,2346.5 700.7,2347.5 702.4,2346.6 704.1,2346.7 705.8,2347.4 707.5,2347.4 709.2,2346.6 710.9,2347.2 712.6,2346.9 714.3,2347.3 716,2347.3 717.7,2347.4 719.4,2347.2 721.1,2346.2 722.1,2347.4 1264.9,2347.4"/>
<polyline class="c" stroke="#0000ff" stroke-width="5.4" stroke-linejoin="round" stroke-linecap="butt" points="514.1,2203.3 515.5,2199.7 516.9,2203.7 518.3,2204.8 519.7,2205.6 521.1,2205.2 522.5,2201.4 523.9,2200.4 525.3,2197.2 526.7,2196.5 528.1,2198.1 529.5,2195.6 530.9,2191.2 532.3,2186.3 533.7,2190 535.1,2185.6 536.5,2185.7 537.9,2185.4 539.3,2185.5 540.7,2177.7 542.1,2179.1 543.5,2179.5 544.9,2185.9 546.3,2186.7 547.7,2189.4 549.1,2192.1 550.5,2180.9 551.9,2182.4 553.3,2179.9 554.7,2173.8 556.1,2170.1 557.5,2160.1 558.9,2160.8 560.3,2152.1 561.7,2138.5 563.1,2149.3 564.5,2144 565.9,2131.2 567.3,2112.7 568.7,2106.4 570.1,2108.7 571.5,2117.3 572.9,2113.3 574.3,2100.3 575.7,2091.9 577.1,2064 578.5,2079.9 579.9,2065 581.3,2063.7 582.7,2059.2 584.1,2052.3 585.5,2058.3 586.9,2055 588.3,2048.7 589.7,2045.6 591.1,2048.2 592.5,2054.5 593.9,2055.4 595.3,2056.8 596.7,2063.5 598.1,2066.4 599.5,2066.4 600.9,2069.7 602.3,2065.2 603.7,2060.9 605.1,2059.5 606.5,2054.8 607.9,2048.6 609.3,2048.8 612.1,2048.7 613.5,2049.3 614.9,2049.3 616.3,2045.8 617.7,2043.8 619.1,2039.9 620.5,2034.6 621.9,2031.6 623.3,2028.7 624.7,2026.6 626.1,2025.6 627.5,2023.5 628.9,2023.3 630.3,2019.9 631.7,2019.8 633.1,2018.1 634.5,2018 635.9,2021.8 637.3,2023.2 638.7,2018.7 640.1,2015.2 641.5,2013 642.9,2012.4 644.3,2011 645.7,2011.3 647.1,2015.9 648.5,2020.7 649.9,2019.6 651.3,2020.8 652.7,2020.9 654.1,2022 655.5,2021.3 656.9,2021.7 658.3,2021.5 659.7,2022.7 661.1,2021.1 662.5,2019.5 663.9,2021.4 665.3,2019.2 666.7,2017 668.1,2019.8 669.5,2018.6 670.9,2018.3 672.3,2018 673.7,2016.9 675.1,2018.1 676.5,2016.5 677.9,2015.7 679.3,2016 680.7,2013.8 682.1,2017.3 683.5,2015.2 684.9,2017.8 686.3,2016.9 687.7,2016.8 689.1,2015.4 690.5,2018.1 691.9,2013.2 693.3,2015.2 694.7,2014 696.1,2014.2 697.5,2017.2 698.9,2017.4 701.7,2017.4 704.5,2017.3 707.3,2017.2 710.1,2017.2 712.9,2017.1 715.7,2017 718.5,2016.9 721.3,2016.8 724.1,2016.7 725.5,2016.7 726.9,2016.5 728.3,2016.1 729.7,2015.7 731.1,2015.2 732.5,2014.8 733.9,2014.4 735.3,2014.1 736.7,2013.8 738.1,2013.6 739.5,2013.3 740.9,2013.1 742.3,2012.8 743.7,2012.5 745.1,2012.3 746.5,2012 747.9,2012.3 749.3,2013 750.7,2013.5 760.5,2013.4 761.9,2013.3 763.3,2013.2 764.7,2013.1 766.1,2012.9 767.5,2012.8 768.9,2012.7 770.3,2012.6 771.7,2012.4 773.1,2012.3 774.5,2012.2 775.9,2012.1 777.3,2011.9 778.7,2011.8 780.1,2011.7 878.1,2011.7 976.1,2011.6 1074.1,2011.6 1172.1,2011.5 1264.9,2011.5"/>
<polyline class="c" stroke="#00ff00" stroke-width="4.6" stroke-linejoin="round" stroke-linecap="butt" points="253.5,2348.1 430,2347.2 459.5,2329.1"/>
<polygon fill="#00ff00" stroke="#00ff00" stroke-width="4.0" stroke-linejoin="round" points="458.5,2327.6 460,2328.8 461.5,2326.4 463,2327.1 464.5,2328 466,2325.3 467.5,2325.6 469,2320.5 470.5,2316.9 472,2309.9 473.5,2302.3 475,2311.5 476.5,2316.4 478,2319.6 479.5,2320.4 481,2320.3 482.5,2322.7 484,2317.7 485.5,2313.8 487,2309 488.5,2305.2 490,2308.4 491.5,2305.3 493,2309.2 494.5,2305.9 496,2307.7 497.5,2306.5 499,2308.6 500.5,2312.1 502,2317 503.5,2316.5 505,2312.8 506.5,2316.1 508,2311.3 509.5,2312.9 511,2317.7 512.5,2316.2 514,2320.2 515.5,2321.3 517,2320.9 518.5,2320.4 520,2318 521.5,2319.9 523,2317.7 524.5,2317.2 526,2314.3 527.5,2316.2 529,2311.3 530.5,2309.1 532,2305.9 533.5,2304.5 535,2301.8 536.5,2306.2 538,2308.9 539.5,2314 541,2314.4 542.5,2315.8 544,2315.7 545.5,2316.2 547,2316.9 548.5,2314.3 550,2313.8 551.5,2314.6 553,2312 554.5,2311.9 556,2309.9 557.5,2309.6 559,2307.9 560.5,2310.9 562,2308.2 563.5,2307.2 565,2304.1 566.5,2304.7 568,2306.7 569.5,2310.9 571,2314.2 572.5,2316.2 574,2320.2 575.5,2315.6 577,2317 578.5,2317 580,2316.1 580,2321.4 578.5,2318.8 577,2318.7 575.5,2321 574,2321.1 572.5,2320.3 571,2318.2 569.5,2320.5 568,2320.8 566.5,2319.7 565,2321.6 563.5,2319.5 562,2323.2 560.5,2320.8 559,2323.1 557.5,2321.3 556,2320.3 554.5,2320.4 553,2320.2 551.5,2321.2 550,2321.2 548.5,2320.7 547,2321.2 545.5,2323.3 544,2321.6 542.5,2318.6 541,2321.2 539.5,2320.3 538,2320.4 536.5,2320.5 535,2322.6 533.5,2321.4 532,2319.3 530.5,2321.1 529,2322 527.5,2322.4 526,2321.1 524.5,2322 523,2323.1 521.5,2322 520,2321.3 518.5,2323.4 517,2321.2 515.5,2323.5 514,2322.8 512.5,2324 511,2322.7 509.5,2319.1 508,2322.6 506.5,2321.4 505,2320 503.5,2324.1 502,2321.8 500.5,2323.2 499,2323.1 497.5,2320.9 496,2320.9 494.5,2319.6 493,2321.9 491.5,2324 490,2322.3 488.5,2321.9 487,2322.6 485.5,2322.9 484,2328.4 482.5,2326.5 481,2325.6 479.5,2326.7 478,2327.2 476.5,2326.6 475,2323.3 473.5,2326.7 472,2328.1 470.5,2330.8 469,2329 467.5,2330.4 466,2330.9 464.5,2331.9 463,2334.5 461.5,2333.8 460,2330.5 458.5,2332.8"/>
<polyline class="c" stroke="#00ff00" stroke-width="5.0" stroke-linejoin="round" stroke-linecap="butt" points="580,2317.8 581.7,2316.8 583.4,2318.4 585.1,2317.4 586.8,2318.2 588.5,2316.1 590.2,2318.5 591.9,2318.5 593.6,2313.6 595.3,2318.1 597,2317.8 598.7,2317.8 600.4,2317.9 602.1,2317.1 603.8,2317.1 605.5,2314.2 607.2,2317.9 608.9,2318.4 610.6,2316.5 612.3,2317.3 614,2318.5 615.7,2317.8 617.4,2318.3 619.1,2316.6 620.8,2316.9 622.5,2317.5 624.2,2318.2 625.9,2318.2 627.6,2317.8 629.3,2318.2 631,2316.3 632.7,2317.2 634.4,2318.3 636.1,2316.8 637.8,2314.7 639.5,2317.1 641.2,2318.4 642.9,2317.8 644.6,2316.4 646.3,2318.2 648,2317.8 649.7,2318 651.4,2317.9 653.1,2318.1 654.8,2315.9 656.5,2318 658.2,2317.9 659.9,2318.3 661.6,2317.7 663.3,2317.7 665,2317.6 666.7,2317.8 668.4,2318.2 670.1,2318.2 671.8,2317.8 673.5,2317.8 675.2,2316.7 676.9,2315.6 678.6,2317.4 680.3,2317.7 682,2317.5 683.7,2318 685.4,2318.1 687.1,2317.1 688.8,2318.2 690.5,2317.3 692.2,2318.1 693.9,2318.1 695.6,2318 697.3,2317.5 699,2318 700.7,2317.7 702.4,2317.7 704.1,2317.9 705.8,2318 707.5,2317.3 709.2,2317.9 710.9,2317.9 712.6,2317.8 714.3,2316.8 716,2317.9 717.7,2316.9 719.4,2318 721.1,2317.9 722.1,2318 1264.9,2318"/>
<polyline class="c" stroke="#0000ff" stroke-width="6.8" stroke-linejoin="round" stroke-linecap="butt" points="507.3,2183 508.6,2191.1 509.9,2180.9 511.2,2186.2 512.5,2188.4 513.8,2184.6 515.1,2186.5 516.4,2183 517.7,2179.2 519,2177.9 520.3,2183.9 521.6,2171.9 522.9,2177 524.2,2172.8 525.5,2172.8 526.8,2175.5 528.1,2169 529.4,2165.5 530.7,2172.4 532,2171.1 533.3,2165.8 534.6,2161.4 535.9,2159.6 537.2,2162.1 538.5,2160.9 539.8,2159.4 541.1,2158.1 542.4,2154.3 543.7,2154.5 545,2150.8 546.3,2150.3 547.6,2146.7 548.9,2146.9 550.2,2141.8 551.5,2142.7 552.8,2135.8 554.1,2144.1 555.4,2136.2 556.7,2133.4 558,2130.6 559.3,2126.4 560.6,2122.7 561.9,2124 563.2,2115.5 564.5,2107.3 565.8,2088.5 567.1,2083.1 568.4,2065.5 569.7,2076.2 571,2060.3 572.3,2068.9 573.6,2063.1 574.9,2068.3 576.2,2056.9 577.5,2047.8 578.8,2061 580.1,2053.5 581.4,2050.1 582.7,2051.1 584,2038.4 585.3,2023 586.6,2032.2 587.9,2027.6 589.2,2031.8 590.5,2022.8 591.8,2024.9 593.1,2013.7 594.4,2021.5 595.7,2017.5 597,2018.3 598.3,2023.7 599.6,2025.8 600.9,2023.6 602.2,2021"/>
<polyline class="c" stroke="#0000ff" stroke-width="6.2" stroke-linejoin="round" stroke-linecap="butt" stroke-dasharray="18 6" points="602.2,2021 603.5,2021.3 604.8,2020 606.1,2018.3 607.4,2017.8 608.7,2016.7 610,2014.1 611.3,2014.9 612.6,2012.1 613.9,2011.5 615.2,2009.4 616.5,2008.8 617.8,2005.1 619.1,2004.3 620.4,2000.9 621.7,2003.1 623,2003.1 624.3,1998.8 625.6,1997.9 626.9,1996.2 628.2,1993.1 629.5,1992.6 630.8,1988.7 632.1,1988.2 633.4,1987.3 634.7,1985.8 636,1984 637.3,1987.4 638.6,1986.4 639.9,1985.5 641.2,1984.9 642.5,1985.9 643.8,1984.5 645.1,1986.2 646.4,1985.2 647.7,1985.6 649,1986.4 650.3,1985.3 651.6,1985.8 652.9,1986.6 654.2,1985.7 655.5,1982 656.8,1986.6 658.1,1985.3 659.4,1985.8 660.7,1986.7 662,1983.9 663.3,1984.3 664.6,1980.4 665.9,1984.7 667.2,1982.3 668.5,1981.8 669.8,1981.6 671.1,1982.4 672.4,1979 673.7,1983.7 675,1981.1 676.3,1980.6 677.6,1982.3 678.9,1981.4 680.2,1980.8 681.5,1978.8 682.8,1981.3 684.1,1980.1 685.4,1978.5 686.7,1979.2 688,1979.7 689.3,1978.2 690.6,1980.2 691.9,1978.2 693.2,1980 694.5,1979 695.8,1979.2 697.1,1978.4 698.4,1978.4 699.7,1978.3 701,1978.2 702.3,1978.2 703.6,1978.1 704.9,1978.1 706.2,1978 707.5,1977.9 708.8,1977.9 710.1,1977.8 712.7,1977.7 715.3,1977.7 717.9,1977.6 720.5,1977.6 723.1,1977.5 725.7,1977.5 728.3,1977.4 730.9,1977.3 733.5,1977.2 736.1,1977.2 738.7,1977.1 741.3,1977 742.6,1977 743.9,1976.9 745.2,1976.8 746.5,1976.8 747.8,1976.7 749.1,1976.7 750.4,1976.6 751.7,1976.6 753,1976.5 754.3,1976.4 755.6,1976.4 756.9,1976.3 758.2,1976.3 759.5,1976.2 760.8,1976.1 762.1,1976.1 763.4,1976 764.7,1975.9 766,1975.8 767.3,1975.8 768.6,1975.7 769.9,1975.6 771.2,1975.5 772.5,1975.5 773.8,1975.4 775.1,1975.3 776.4,1975.2 777.7,1975.2 779,1975.1 780.3,1975 781.6,1974.9 782.9,1974.8 784.2,1974.8 785.5,1974.7 786.8,1974.6 788.1,1974.5 789.4,1974.5 790.7,1974.4 792,1974.3 793.3,1974.2 794.6,1974.2 795.9,1974.1 797.2,1974 798.5,1973.9 799.8,1973.9 1264.9,1973.8"/>
<polyline class="c" stroke="#ff8000" stroke-width="4.6" stroke-linejoin="round" stroke-linecap="butt" points="253.5,2348.1 430,2347.2 459.5,2321.7"/>
<polygon fill="#ff8000" stroke="#ff8000" stroke-width="4.0" stroke-linejoin="round" points="458.5,2319.3 460,2320.6 461.5,2320.6 463,2319.8 464.5,2321.5 466,2321.2 467.5,2317.4 469,2314 470.5,2308.1 472,2295.2 473.5,2288.5 475,2297.4 476.5,2304.2 478,2304.9 479.5,2309.3 481,2306.7 482.5,2304.7 484,2301.8 485.5,2298.8 487,2295.9 488.5,2292.2 490,2293.8 491.5,2292.5 493,2292.2 494.5,2295.1 496,2292.1 497.5,2294.7 499,2297.5 500.5,2296.7 502,2295.4 503.5,2293.4 505,2288.2 506.5,2290.4 508,2285.8 509.5,2287.8 511,2292.8 512.5,2293.5 514,2296.7 515.5,2297.1 517,2295.1 518.5,2296.4 520,2295.1 521.5,2294.1 523,2293.1 524.5,2293.8 526,2289.1 527.5,2289.8 529,2288.2 530.5,2287.9 532,2288.3 533.5,2283.9 535,2284.2 536.5,2282.5 538,2287.2 539.5,2285.7 541,2287.7 542.5,2288.9 544,2287.3 545.5,2289.7 547,2290 548.5,2289.4 550,2286.4 551.5,2285.6 553,2287.3 554.5,2289.9 556,2284.8 557.5,2284.9 559,2287.3 560.5,2285.3 562,2284.5 563.5,2282.5 565,2281.7 566.5,2280.6 568,2282.6 569.5,2283.7 571,2289.8 572.5,2292.5 574,2289.5 575.5,2291.3 577,2289.8 578.5,2288.9 580,2290.7 580,2295.4 578.5,2293.6 577,2293.9 575.5,2292.8 574,2296.6 572.5,2292.8 571,2296.8 569.5,2297.6 568,2295.9 566.5,2293.4 565,2293.5 563.5,2296.4 562,2296.3 560.5,2293.7 559,2296.7 557.5,2296.5 556,2297.1 554.5,2294.7 553,2296.7 551.5,2299.1 550,2296.1 548.5,2298.7 547,2297.7 545.5,2296.7 544,2296.9 542.5,2297.7 541,2296.9 539.5,2297.7 538,2299.8 536.5,2299.1 535,2298.4 533.5,2297.8 532,2299.9 530.5,2299.9 529,2301.2 527.5,2303.9 526,2300.3 524.5,2301 523,2300 521.5,2300.1 520,2300.2 518.5,2301.3 517,2300 515.5,2299.6 514,2301.2 512.5,2301.8 511,2301 509.5,2299.8 508,2301.5 506.5,2301 505,2301.2 503.5,2300.6 502,2301.1 500.5,2301.3 499,2301.4 497.5,2298.6 496,2302.9 494.5,2299.8 493,2300.4 491.5,2302.8 490,2302.5 488.5,2303 487,2303.4 485.5,2311.2 484,2314.4 482.5,2312.6 481,2313.8 479.5,2313.9 478,2313.3 476.5,2312.1 475,2311.4 473.5,2311.5 472,2315.7 470.5,2322.7 469,2321.1 467.5,2322.8 466,2321.2 464.5,2322.9 463,2323.8 461.5,2320.6 460,2320.6 458.5,2322.2"/>
<polyline class="c" stroke="#ff8000" stroke-width="5.0" stroke-linejoin="round" stroke-linecap="butt" points="580,2290.9 581.7,2292 583.4,2290.4 585.1,2291.3 586.8,2291.9 588.5,2286.8 590.2,2291.3 591.9,2290.3 593.6,2290.9 595.3,2291.7 597,2291.8 598.7,2290.8 600.4,2291.7 602.1,2290.5 603.8,2291.9 605.5,2291.1 607.2,2291.8 608.9,2290.3 610.6,2291.6 612.3,2291 614,2288.3 615.7,2291.1 617.4,2290.8 619.1,2288.7 620.8,2290.2 622.5,2291.8 624.2,2291.4 625.9,2289.6 627.6,2290.7 629.3,2290.6 631,2291.1 632.7,2290.8 634.4,2291 636.1,2291.5 637.8,2291.2 639.5,2290.7 641.2,2289.7 642.9,2290.9 644.6,2291.4 646.3,2289.9 648,2289.7 649.7,2290.7 651.4,2290 653.1,2290.9 654.8,2289.3 656.5,2290.4 658.2,2291.3 659.9,2289.9 661.6,2290 663.3,2291.1 665,2291.2 666.7,2291.2 668.4,2291.4 670.1,2290.7 671.8,2290.4 673.5,2291.2 675.2,2291.3 676.9,2290.2 678.6,2291.5 680.3,2291.2 682,2291.3 683.7,2291.5 685.4,2291.4 687.1,2291.4 688.8,2291.2 690.5,2290.9 692.2,2290.8 693.9,2290.4 695.6,2291.2 697.3,2290.4 699,2291.3 700.7,2291.3 702.4,2291.1 704.1,2291.4 705.8,2289.8 707.5,2291 709.2,2291.3 710.9,2291 712.6,2290.9 714.3,2290.6 716,2291.1 717.7,2291.3 719.4,2290.9 721.1,2291.2 722.1,2291.3 933.1,2291.3 937.1,2288.9 1264.9,2288.9"/>
<polyline class="c" stroke="#0000ff" stroke-width="5.6" stroke-linejoin="round" stroke-linecap="butt" points="503.3,2174 504.6,2180.9 505.9,2175.1 507.2,2175 508.5,2176.3 509.8,2173.5 511.1,2177.8 512.4,2176.1 513.7,2165.5 515,2171.7 516.3,2166.5 517.6,2170.2 518.9,2170.4 520.2,2165.5 521.5,2167 522.8,2165.4 524.1,2165.6 525.4,2162.9 526.7,2158.8 528,2161.8 529.3,2159.5 530.6,2151.4 531.9,2154.2 533.2,2151 534.5,2151.8 535.8,2143 537.1,2147.1 538.4,2152.8 539.7,2141.2 541,2143.7 542.3,2147.5 543.6,2141.4 544.9,2141.8 546.2,2137 547.5,2132 548.8,2131.9 550.1,2135 551.4,2129.7 552.7,2129.3 554,2122.8 555.3,2114 556.6,2105.5 557.9,2117.9 559.2,2097.5 560.5,2088.5 561.8,2084.7 563.1,2073.3 564.4,2066.9 565.7,2066.1 567,2061.6 568.3,2052.6 569.6,2047 570.9,2054.4 572.2,2046.3 573.5,2041.2 574.8,2039.9 576.1,2045.4 577.4,2048.2 578.7,2032.7 580,2029.2 581.3,2032 582.6,2029.1 583.9,2029.1 585.2,2020.9 586.5,2006.1 587.8,2015.2 589.1,2003.3 590.4,2003.3 591.7,2001.2 593,2005.6 594.3,1995.5 595.6,2001.3 596.9,2003.6 598.2,2001.5 599.5,2000.4 600.8,1999.5 602.1,1999.7"/>
<polyline class="c" stroke="#0000ff" stroke-width="5.0" stroke-linejoin="round" stroke-linecap="butt" stroke-dasharray="12 4" points="602.1,1999.7 603.4,1995.3 604.7,1995.3 606,1995.4 607.3,1992.8 608.6,1992.8 609.9,1990.9 611.2,1991.3 612.5,1990.9 613.8,1990.7 615.1,1990 616.4,1988.4 617.7,1983.6 619,1985.4 620.3,1983.7 621.6,1982.4 622.9,1979.4 624.2,1979.5 625.5,1976.9 626.8,1974.2 628.1,1973.1 629.4,1973 630.7,1970.4 632,1972.2 633.3,1970.7 634.6,1970.7 635.9,1968.7 637.2,1968.4 638.5,1967.2 639.8,1967.2 641.1,1968 642.4,1967.2 643.7,1967.1 645,1964.4 646.3,1965.6 647.6,1966.9 648.9,1964.5 650.2,1964.9 651.5,1963.7 652.8,1965.7 654.1,1964.6 655.4,1965.2 656.7,1965.1 658,1967.8 659.3,1964.5 660.6,1966.9 661.9,1962.2 663.2,1963.6 664.5,1963.7 665.8,1961.5 667.1,1962.7 668.4,1962.7 669.7,1960.2 671,1960.2 672.3,1959.6 673.6,1958 674.9,1959.2 676.2,1960.2 677.5,1960.6 678.8,1959.4 680.1,1958.7 681.4,1959 682.7,1958.7 684,1960.2 685.3,1959.3 686.6,1955.9 687.9,1958.5 689.2,1959.4 690.5,1955.3 691.8,1958.8 693.1,1957.9 694.4,1959.3 695.7,1957.1 697,1957.7 698.3,1957.6 699.6,1957.4 700.9,1957.3 702.2,1957.2 703.5,1957 704.8,1956.9 706.1,1956.8 707.4,1956.7 708.7,1956.5 710,1956.4 711.3,1956.3 712.6,1956.2 713.9,1956.2 715.2,1956.1 716.5,1956 717.8,1956 719.1,1955.9 720.4,1955.9 721.7,1955.8 723,1955.7 724.3,1955.7 725.6,1955.6 726.9,1955.5 728.2,1955.5 729.5,1955.4 730.8,1955.3 732.1,1955.3 733.4,1955.2 734.7,1955.1 736,1955.1 737.3,1955 738.6,1954.9 739.9,1954.9 741.2,1954.8 742.5,1954.7 743.8,1954.7 745.1,1954.6 746.4,1954.6 747.7,1954.5 749,1954.5 750.3,1954.4 751.6,1954.3 752.9,1954.3 754.2,1954.2 755.5,1954.2 756.8,1954.1 758.1,1954.1 759.4,1954 760.7,1953.9 762,1953.9 763.3,1953.8 764.6,1953.8 765.9,1953.7 767.2,1953.7 768.5,1953.6 769.8,1953.5 771.1,1953.5 772.4,1953.4 773.7,1953.4 775,1953.3 776.3,1953.3 777.6,1953.2 778.9,1953.1 780.2,1953.1 781.5,1953 782.8,1953 784.1,1952.9 785.4,1952.9 786.7,1952.8 788,1952.7 789.3,1952.7 790.6,1952.6 791.9,1952.6 793.2,1952.5 794.5,1952.5 795.8,1952.4 797.1,1952.3 798.4,1952.3 799.7,1952.2 1264.9,1952.2"/>
<polyline class="c" stroke="#00ffff" stroke-width="4.6" stroke-linejoin="round" stroke-linecap="butt" points="253.5,2348.1 430,2347.2 459.5,2319.4"/>
<polygon fill="#00ffff" stroke="#00ffff" stroke-width="4.0" stroke-linejoin="round" points="458.5,2320 460,2318.5 461.5,2319 463,2317.9 464.5,2318.2 466,2318.8 467.5,2314.9 469,2307.6 470.5,2299.4 472,2289.2 473.5,2281.5 475,2291.1 476.5,2295.9 478,2294.4 479.5,2298 481,2297.6 482.5,2297.5 484,2296 485.5,2292 487,2285.1 488.5,2280.5 490,2281.5 491.5,2283.4 493,2279.7 494.5,2277.9 496,2279.8 497.5,2278.6 499,2278.2 500.5,2278.9 502,2277.1 503.5,2274.2 505,2274.7 506.5,2270.7 508,2267.2 509.5,2265.9 511,2270.5 512.5,2274.5 514,2278.2 515.5,2275.2 517,2275.9 518.5,2275.8 520,2275 521.5,2276.9 523,2274.2 524.5,2275.2 526,2272.3 527.5,2273 529,2273 530.5,2272.1 532,2269 533.5,2268 535,2267.8 536.5,2267.4 538,2265.5 539.5,2267.4 541,2265 542.5,2267.9 544,2268.9 545.5,2267.3 547,2268.8 548.5,2269.5 550,2265.7 551.5,2266.4 553,2264.5 554.5,2268.4 556,2263.2 557.5,2262.1 559,2264.3 560.5,2263.3 562,2260.3 563.5,2261.8 565,2261.4 566.5,2258.2 568,2261.8 569.5,2265.7 571,2265.3 572.5,2263.7 574,2265.2 575.5,2268.5 577,2262 578.5,2265.1 580,2263.6 580,2269.4 578.5,2270 577,2270.4 575.5,2269.3 574,2272.8 572.5,2269.9 571,2272.5 569.5,2273.5 568,2272.8 566.5,2272.1 565,2271.3 563.5,2272.4 562,2274.5 560.5,2273.9 559,2272.6 557.5,2275 556,2272.2 554.5,2272.5 553,2275.2 551.5,2274.7 550,2276.9 548.5,2276 547,2277 545.5,2277.9 544,2274.5 542.5,2276 541,2277.8 539.5,2276.1 538,2278 536.5,2277 535,2277.2 533.5,2277.6 532,2279.3 530.5,2283.2 529,2278 527.5,2278.2 526,2280.2 524.5,2280.4 523,2278.7 521.5,2279.7 520,2281.1 518.5,2281.6 517,2280.9 515.5,2281.9 514,2279.1 512.5,2282.1 511,2280.9 509.5,2281.7 508,2278.8 506.5,2282.7 505,2285 503.5,2283.7 502,2285.7 500.5,2283.8 499,2286.8 497.5,2288.8 496,2287.8 494.5,2288.1 493,2287.9 491.5,2288.2 490,2289.3 488.5,2292 487,2292.2 485.5,2295.9 484,2300.8 482.5,2299.8 481,2300.7 479.5,2301.2 478,2301.2 476.5,2300.6 475,2303 473.5,2303.7 472,2307.5 470.5,2312.3 469,2317.1 467.5,2319.8 466,2320 464.5,2318.2 463,2317.9 461.5,2319 460,2318.5 458.5,2320"/>
<polyline class="c" stroke="#00ffff" stroke-width="5.0" stroke-linejoin="round" stroke-linecap="butt" points="580,2259 581.7,2265.7 583.4,2267.3 585.1,2265 586.8,2266.5 588.5,2266.3 590.2,2266.8 591.9,2267 593.6,2262.6 595.3,2264 597,2267.1 598.7,2266 600.4,2263.5 602.1,2266 603.8,2262 605.5,2265.9 607.2,2266.2 608.9,2265.6 610.6,2266.6 612.3,2266.3 614,2265.1 615.7,2266.2 617.4,2266.4 619.1,2265.9 620.8,2265.2 622.5,2266.5 624.2,2266.9 625.9,2265 627.6,2266.5 629.3,2266.1 631,2266.6 632.7,2266.5 634.4,2267 636.1,2266.3 637.8,2265.6 639.5,2266.4 641.2,2266.9 642.9,2265.7 644.6,2267 646.3,2266.5 648,2261.8 649.7,2266.5 651.4,2266.2 653.1,2266.1 654.8,2267 656.5,2267.1 658.2,2265 659.9,2266.9 661.6,2266.7 663.3,2266.8 665,2266.5 666.7,2264.2 668.4,2266.7 670.1,2266.9 671.8,2266.2 673.5,2266.8 675.2,2266.6 676.9,2266.8 678.6,2266.6 680.3,2266.7 682,2266.8 683.7,2266.9 685.4,2266.9 687.1,2265.6 688.8,2266.1 690.5,2266.5 692.2,2266.6 693.9,2265.3 695.6,2266.5 697.3,2266.8 699,2266.7 700.7,2266 702.4,2266.7 704.1,2266.7 705.8,2266.7 707.5,2266.5 709.2,2266.2 710.9,2266.7 712.6,2266.5 714.3,2266.7 716,2266.2 717.7,2266.6 719.4,2266.6 721.1,2266.7 722.1,2266.7 1264.9,2266.7"/>
<polyline class="c" stroke="#0000ff" stroke-width="4.6" stroke-linejoin="round" stroke-linecap="butt" points="499.3,2172.7 500.6,2172.1 501.9,2171.9 503.2,2164.8 504.5,2166.3 505.8,2169.7 507.1,2166.3 508.4,2172.1 509.7,2162.5 511,2161.2 512.3,2167.5 513.6,2170 514.9,2167.4 516.2,2157.1 517.5,2161.6 518.8,2153.2 520.1,2161.9 521.4,2153.1 522.7,2153.9 524,2149.2 525.3,2156.3 526.6,2144.4 527.9,2149.5 529.2,2148.1 530.5,2146.9 531.8,2141.5 533.1,2139.1 534.4,2139.7 535.7,2138.2 537,2137.1 538.3,2134.4 539.6,2131.4 540.9,2129.1 542.2,2130.4 543.5,2130.9 544.8,2124.4 546.1,2125.9 547.4,2127.6 548.7,2121.5 550,2120.3 551.3,2115.5 552.6,2112.7 553.9,2105.9 555.2,2091 556.5,2084 557.8,2068.5 559.1,2064 560.4,2067.2 561.7,2056.1 563,2060.9 564.3,2049.8 565.6,2036.9 566.9,2046.2 568.2,2040.1 569.5,2039.7 570.8,2036.8 572.1,2029.1 573.4,2025.4 574.7,2024.5 576,2021.7 577.3,2027.6 578.6,2021.3 579.9,2016.4 581.2,2008.6 582.5,2019.5 583.8,2013.9 585.1,2015.8 586.4,2002.9 587.7,2016.9 589,2005.4 590.3,2004 591.6,2002.3 592.9,1996.7 594.2,1986 595.5,1990.2 596.8,1992.1 598.1,1990.4 599.4,1986.2 600.7,1985.7 602,1987"/>
<polyline class="c" stroke="#0000ff" stroke-width="4.0" stroke-linejoin="round" stroke-linecap="butt" stroke-dasharray="54 18" points="602,1987 603.3,1984.3 604.6,1982.8 605.9,1981 607.2,1977.5 608.5,1977.7 609.8,1977 611.1,1975.8 612.4,1975.8 613.7,1972.4 615,1975 616.3,1973.4 617.6,1968.8 618.9,1966.5 620.2,1967.3 621.5,1966.1 622.8,1967.9 624.1,1964.6 625.4,1963.9 626.7,1960.6 628,1959.4 629.3,1960.5 630.6,1954.8 631.9,1956.3 633.2,1956.1 634.5,1958.9 635.8,1961.1 637.1,1958.1 638.4,1953.5 639.7,1955.8 641,1956.1 642.3,1952.4 643.6,1953.8 644.9,1954 646.2,1954 647.5,1951 648.8,1951.6 650.1,1953.8 651.4,1952.7 652.7,1948.4 654,1950.3 655.3,1947.6 656.6,1949.8 657.9,1952.6 659.2,1951.1 660.5,1949 661.8,1948.3 663.1,1950.9 664.4,1947.1 665.7,1946.8 667,1946.3 668.3,1947 669.6,1946 670.9,1945.6 672.2,1946.2 673.5,1944.6 674.8,1944.7 676.1,1945.4 677.4,1944.5 678.7,1942.2 680,1943.8 681.3,1941.6 682.6,1942.1 683.9,1940.5 685.2,1941.4 686.5,1942.8 687.8,1941.9 689.1,1940.8 690.4,1942.2 691.7,1942.3 693,1939.9 694.3,1937.7 695.6,1939.2 696.9,1940.1 698.2,1939.9 699.5,1939.7 700.8,1939.4 702.1,1939.2 703.4,1939 704.7,1938.9 722.9,1938.9 724.2,1938.8 725.5,1938.8 726.8,1938.7 728.1,1938.6 729.4,1938.5 730.7,1938.5 732,1938.4 733.3,1938.3 734.6,1938.3 735.9,1938.2 737.2,1938.1 741.1,1938 745,1938 748.9,1937.9 752.8,1937.9 756.7,1937.8 759.3,1937.8 760.6,1937.7 761.9,1937.6 763.2,1937.5 764.5,1937.4 765.8,1937.3 767.1,1937.2 768.4,1937.1 769.7,1937 771,1936.9 772.3,1936.7 773.6,1936.6 774.9,1936.5 776.2,1936.4 777.5,1936.3 778.8,1936.2 780.1,1936.1 781.4,1936 782.7,1935.9 784,1935.8 785.3,1935.7 786.6,1935.6 787.9,1935.4 789.2,1935.3 790.5,1935.2 791.8,1935.1 793.1,1935 794.4,1934.9 795.7,1934.8 797,1934.7 798.3,1934.6 799.6,1934.5 800.9,1934.4 1264.9,1934.4"/>
<polyline class="c" stroke="#ff00ff" stroke-width="4.6" stroke-linejoin="round" stroke-linecap="butt" points="253.5,2348.1 419.7,2346.2"/>
<polygon fill="#ff00ff" stroke="#ff00ff" stroke-width="4.0" stroke-linejoin="round" points="418.7,2346.2 420.2,2345.8 421.7,2344.7 423.2,2344.1 424.7,2346.3 426.2,2343.7 427.7,2345.7 429.2,2345.7 430.7,2342.5 432.2,2340.3 433.7,2338.6 435.2,2331.9 436.7,2321.4 438.2,2311.6 439.7,2297.3 441.2,2292.5 442.7,2295.6 444.2,2291.8 445.7,2291.1 447.2,2295.5 448.7,2296.2 450.2,2299.3 451.7,2300.3 453.2,2301 454.7,2303.1 456.2,2303.5 457.7,2302.9 459.2,2303.5 460.7,2297.1 462.2,2286.7 463.7,2270.2 465.2,2254.5 466.7,2253.3 468.2,2254.2 469.7,2248.7 471.2,2245.6 472.7,2243.2 474.2,2248.8 475.7,2251.2 477.2,2255.2 478.7,2266.7 480.2,2270.5 481.7,2277.2 483.2,2265.5 484.7,2232.7 486.2,2225.6 487.7,2223.7 489.2,2232 490.7,2245.4 492.2,2250.3 493.7,2250.8 495.2,2255.1 496.7,2258.1 498.2,2259.8 499.7,2267 501.2,2262.6 502.7,2260.1 504.2,2256.1 505.7,2253.3 507.2,2253.1 508.7,2248.7 510.2,2253 511.7,2253.8 513.2,2255.3 514.7,2257.3 516.2,2259.4 517.7,2259.3 519.2,2262.3 520.7,2260.5 522.2,2259.1 523.7,2258.3 525.2,2254 526.7,2253.6 528.2,2252.6 529.7,2255.1 531.2,2257.3 532.7,2255.4 534.2,2238.8 535.7,2240.8 537.2,2248.5 538.7,2248 540.2,2247 541.7,2247.3 543.2,2249.5 544.7,2248.7 546.2,2249.1 547.7,2249.4 549.2,2247.7 550.7,2248.1 552.2,2247.3 553.7,2246.7 555.2,2248.2 556.7,2242.5 558.2,2244.7 559.7,2244.6 561.2,2243.6 562.7,2242.3 564.2,2241.8 565.7,2238.2 567.2,2240.2 568.7,2246.2 570.2,2248.1 571.7,2251.4 573.2,2251.9 574.7,2251.2 576.2,2248.9 577.7,2247.4 579.2,2248.9 580,2247.6 580,2251.3 579.2,2255.2 577.7,2253.1 576.2,2251.3 574.7,2251.5 573.2,2251.9 571.7,2255.6 570.2,2254.3 568.7,2253.4 567.2,2254.5 565.7,2254.3 564.2,2253.6 562.7,2255.1 561.2,2254.6 559.7,2254.2 558.2,2256.6 556.7,2253.6 555.2,2253.2 553.7,2256.7 552.2,2254.6 550.7,2258.1 549.2,2257.1 547.7,2258.2 546.2,2261.3 544.7,2258.5 543.2,2261.1 541.7,2257.5 540.2,2260 538.7,2260.4 537.2,2260.3 535.7,2256.1 534.2,2260.9 532.7,2261.3 531.2,2261.3 529.7,2264 528.2,2261.9 526.7,2261.7 525.2,2260.4 523.7,2262.4 522.2,2265.6 520.7,2264 519.2,2264.2 517.7,2262.3 516.2,2263.6 514.7,2262.4 513.2,2263.8 511.7,2266.9 510.2,2263.2 508.7,2262 507.2,2265.4 505.7,2265.5 504.2,2265.9 502.7,2268.8 501.2,2270.8 499.7,2273.4 498.2,2271.5 496.7,2275.3 495.2,2276.3 493.7,2276.6 492.2,2274.5 490.7,2275.5 489.2,2276.5 487.7,2275.8 486.2,2276.4 484.7,2280.5 483.2,2282.1 481.7,2286.7 480.2,2290.5 478.7,2288.3 477.2,2287.2 475.7,2282 474.2,2280.8 472.7,2276.4 471.2,2282.7 469.7,2293.4 468.2,2306.8 466.7,2306.7 465.2,2304.5 463.7,2307.8 462.2,2310.4 460.7,2315.5 459.2,2316.4 457.7,2317.2 456.2,2317.9 454.7,2315.4 453.2,2318.4 451.7,2317.3 450.2,2317.9 448.7,2317 447.2,2314.9 445.7,2313.6 444.2,2312.8 442.7,2314.9 441.2,2315.1 439.7,2318.9 438.2,2325.3 436.7,2334.6 435.2,2338.8 433.7,2341.8 432.2,2343 430.7,2344.6 429.2,2345.8 427.7,2345.7 426.2,2343.7 424.7,2346.3 423.2,2344.1 421.7,2344.7 420.2,2345.8 418.7,2346.2"/>
<polyline class="c" stroke="#ff00ff" stroke-width="5.0" stroke-linejoin="round" stroke-linecap="butt" points="580,2242.1 581.7,2246.1 583.4,2245.3 585.1,2245.9 586.8,2245.9 588.5,2246 590.2,2243.5 591.9,2246.7 593.6,2246.6 595.3,2245.7 597,2246 598.7,2246.5 600.4,2246.5 602.1,2242.9 603.8,2246.6 605.5,2245.1 607.2,2245.5 608.9,2246.4 610.6,2246.1 612.3,2246.2 614,2246.5 615.7,2242 617.4,2246.5 619.1,2241.5 620.8,2246.5 622.5,2246.6 624.2,2246 625.9,2246.6 627.6,2246 629.3,2244.7 631,2245.6 632.7,2245.4 634.4,2246.5 636.1,2246.5 637.8,2246.1 639.5,2245.6 641.2,2246.3 642.9,2246.4 644.6,2246 646.3,2244.5 648,2246.2 649.7,2243.5 651.4,2245.9 653.1,2245.6 654.8,2245.1 656.5,2245.5 658.2,2245.5 659.9,2246 661.6,2246 663.3,2245.8 665,2246.2 666.7,2245.5 668.4,2246.2 670.1,2245.5 671.8,2245.7 673.5,2245.4 675.2,2246.3 676.9,2246 678.6,2246.3 680.3,2244.5 682,2246.2 683.7,2245.8 685.4,2245.5 687.1,2245.9 688.8,2245.7 690.5,2245.2 692.2,2246 693.9,2246.1 695.6,2246.2 697.3,2246.2 699,2246 700.7,2246 702.4,2246.2 704.1,2246 705.8,2245.3 707.5,2246 709.2,2245.8 710.9,2246 712.6,2245.8 714.3,2245.3 716,2246.1 717.7,2246 719.4,2246 721.1,2245.8 722.1,2246.1 1264.9,2246.1"/>
</g>
<rect x="1075.7" y="1929.4" width="219.8" height="381.5" fill="#fff" stroke="#000" stroke-width="3.5"/>
<path d="M1091.2 1952H1171.3" stroke="#0000ff" stroke-width="6.7" fill="none"/>
<text class="t" x="1179.4" y="1961.7" textLength="59" lengthAdjust="spacing">Ei-f 0</text>
<path d="M1091.2 1989.25H1171.3" stroke="#ff0000" stroke-width="4.4" fill="none"/>
<text class="t" x="1179.4" y="1998.95" textLength="67.6" lengthAdjust="spacing">Ei-n 0</text>
<path d="M1091.2 2026.5H1171.3" stroke="#0000ff" stroke-width="4.8" fill="none"/>
<text class="t" x="1179.4" y="2036.2" textLength="81.9" lengthAdjust="spacing">Ei-f 0.5</text>
<path d="M1091.2 2063.75H1171.3" stroke="#00ff00" stroke-width="4.4" fill="none"/>
<text class="t" x="1179.4" y="2073.45" textLength="90.2" lengthAdjust="spacing">Ei-n 0.5</text>
<path d="M1091.2 2101H1171.3" stroke="#0000ff" stroke-width="6.5" stroke-dasharray="18 6" fill="none"/>
<text class="t" x="1179.4" y="2110.7" textLength="79.9" lengthAdjust="spacing">Ei-f 0.1</text>
<path d="M1091.2 2138.25H1171.3" stroke="#ff8000" stroke-width="4.4" fill="none"/>
<text class="t" x="1179.4" y="2147.95" textLength="88.4" lengthAdjust="spacing">Ei-n 0.1</text>
<path d="M1091.2 2175.5H1171.3" stroke="#0000ff" stroke-width="4.5" stroke-dasharray="12 4" fill="none"/>
<text class="t" x="1179.4" y="2185.2" textLength="96.1" lengthAdjust="spacing">Ei-f 0.15</text>
<path d="M1091.2 2212.75H1171.3" stroke="#00ffff" stroke-width="4.4" fill="none"/>
<text class="t" x="1179.4" y="2222.45" textLength="103.7" lengthAdjust="spacing">Ei-n 0.15</text>
<path d="M1091.2 2250H1171.3" stroke="#0000ff" stroke-width="3.0" stroke-dasharray="54 18" fill="none"/>
<text class="t" x="1179.4" y="2259.7" textLength="81.9" lengthAdjust="spacing">Ei-f 0.2</text>
<path d="M1091.2 2287.25H1171.3" stroke="#ff00ff" stroke-width="4.4" fill="none"/>
<text class="t" x="1179.4" y="2296.95" textLength="90.2" lengthAdjust="spacing">Ei-n 0.2</text>
<g class="t" text-anchor="middle">
<text x="253.5" y="2378.9">0</text>
<text x="357.5" y="2378.9">5</text>
<text x="463.3" y="2378.9">10</text>
<text x="569.1" y="2378.9">15</text>
<text x="673.3" y="2378.9">20</text>
<text x="779.4" y="2378.9">25</text>
<text x="885.2" y="2378.9">30</text>
<text x="989.2" y="2378.9">35</text>
<text x="1095.1" y="2378.9">40</text>
<text x="1201" y="2378.9">45</text>
<text x="1307.45" y="2378.9">50</text>
</g>
<g class="t" text-anchor="end">
<text x="245.5" y="2357.3">0</text>
<text x="245.5" y="2295.2">0.05</text>
<text x="245.5" y="2233.5">0.1</text>
<text x="245.5" y="2171.3">0.15</text>
<text x="245.5" y="2109.3">0.2</text>
<text x="245.5" y="2047.5">0.25</text>
<text x="245.5" y="1985.3">0.3</text>
<text x="245.5" y="1923.5">0.35</text>
</g>
</g>
<text class="t" x="778.3" y="1893.4" text-anchor="middle" textLength="144.5" lengthAdjust="spacingAndGlyphs">Input Energy</text>
<text class="t" x="776.8" y="2412.3" text-anchor="middle" textLength="49" lengthAdjust="spacingAndGlyphs">time</text>
<text class="t" transform="translate(173.4 2143.6) rotate(-90)" text-anchor="start">Ei</text>
<text class="s" x="742.8" y="1237.1" textLength="32.4" lengthAdjust="spacing">a)</text>
<text class="s" x="742.8" y="1853.4" textLength="33.4" lengthAdjust="spacing">b)</text>
<text class="s" x="743.2" y="2470.2" textLength="31.6" lengthAdjust="spacing">c)</text>
</svg></body></html>
